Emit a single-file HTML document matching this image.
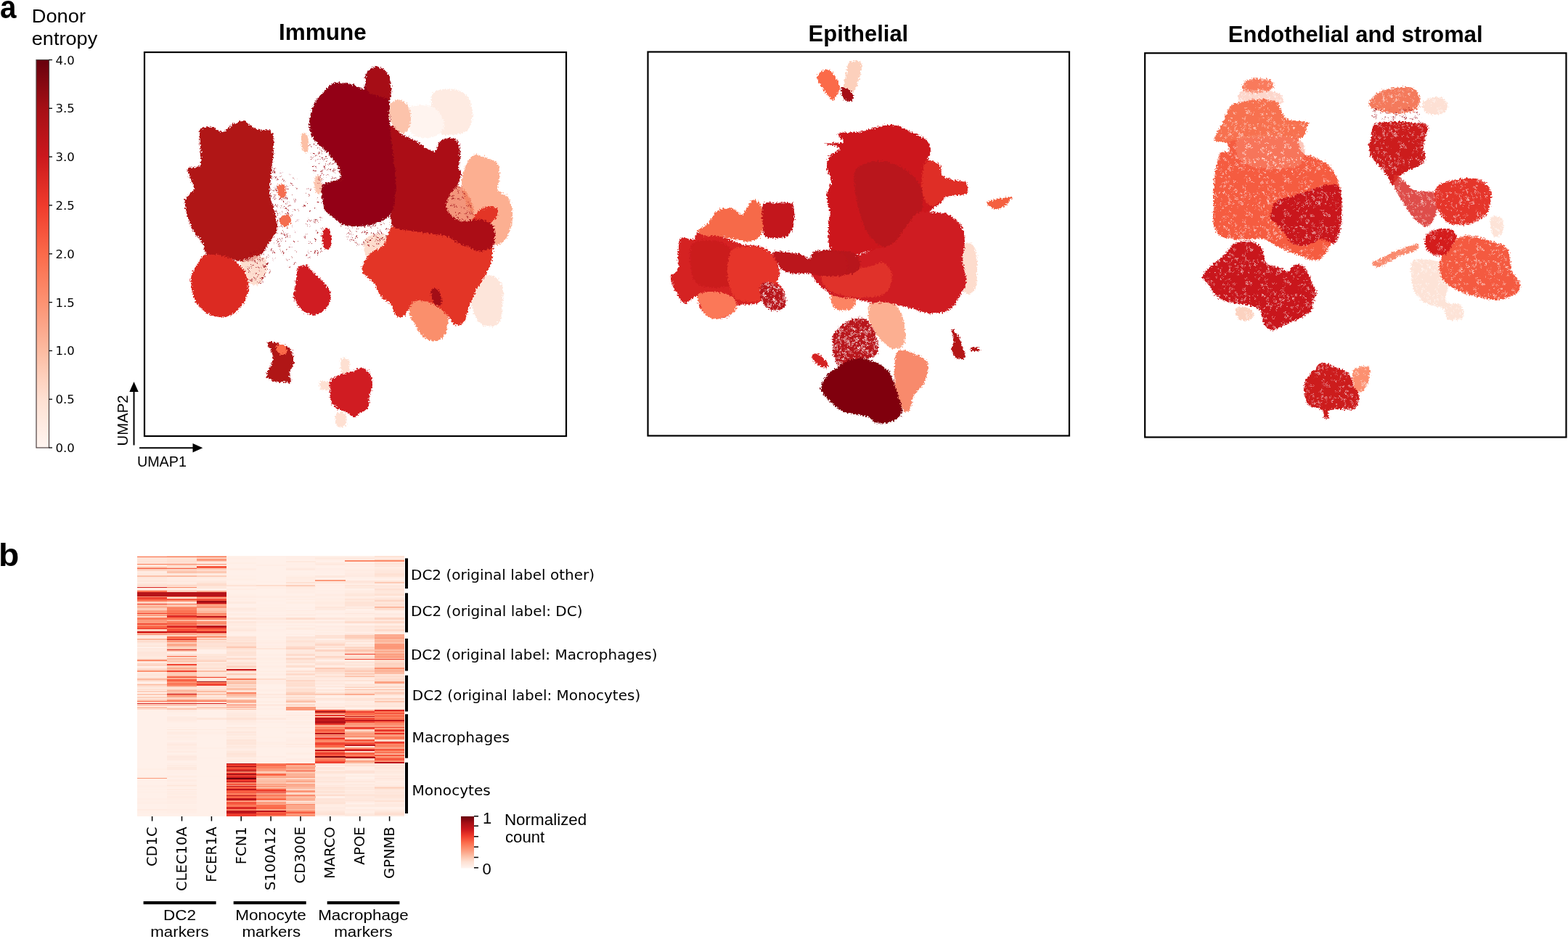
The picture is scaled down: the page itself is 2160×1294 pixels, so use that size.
<!DOCTYPE html>
<html><head><meta charset="utf-8"><title>Figure</title>
<style>html,body{margin:0;padding:0;background:#fff;width:2160px;height:1294px;overflow:hidden}svg{display:block}</style>
</head><body>
<svg width="2160" height="1294" viewBox="0 0 2160 1294">
<rect width="2160" height="1294" fill="#fff"/>
<text x="0" y="25" font-family="'Liberation Sans', Arial, sans-serif" font-size="44" font-weight="bold" text-anchor="start" textLength="22.5" lengthAdjust="spacingAndGlyphs" >a</text>
<text x="43.7" y="30.9" font-family="'Liberation Sans', Arial, sans-serif" font-size="25.8" font-weight="normal" text-anchor="start" textLength="74.3" lengthAdjust="spacingAndGlyphs" >Donor</text>
<text x="43.8" y="62.2" font-family="'Liberation Sans', Arial, sans-serif" font-size="25.8" font-weight="normal" text-anchor="start" textLength="90.4" lengthAdjust="spacingAndGlyphs" >entropy</text>
<defs><linearGradient id="cb1" x1="0" y1="0" x2="0" y2="1"><stop offset="0.000" stop-color="#67000d"/><stop offset="0.062" stop-color="#860811"/><stop offset="0.125" stop-color="#a50f15"/><stop offset="0.188" stop-color="#b81419"/><stop offset="0.250" stop-color="#cb181d"/><stop offset="0.312" stop-color="#dd2a24"/><stop offset="0.375" stop-color="#ef3b2c"/><stop offset="0.438" stop-color="#f5523b"/><stop offset="0.500" stop-color="#fb6a4a"/><stop offset="0.562" stop-color="#fc7e5e"/><stop offset="0.625" stop-color="#fc9272"/><stop offset="0.688" stop-color="#fca68a"/><stop offset="0.750" stop-color="#fcbba1"/><stop offset="0.812" stop-color="#fdceba"/><stop offset="0.875" stop-color="#fee0d2"/><stop offset="0.938" stop-color="#feeae1"/><stop offset="1.000" stop-color="#fff5f0"/></linearGradient>
<linearGradient id="cb2" x1="0" y1="0" x2="0" y2="1"><stop offset="0.000" stop-color="#67000d"/><stop offset="0.062" stop-color="#860811"/><stop offset="0.125" stop-color="#a50f15"/><stop offset="0.188" stop-color="#b81419"/><stop offset="0.250" stop-color="#cb181d"/><stop offset="0.312" stop-color="#dd2a24"/><stop offset="0.375" stop-color="#ef3b2c"/><stop offset="0.438" stop-color="#f5523b"/><stop offset="0.500" stop-color="#fb6a4a"/><stop offset="0.562" stop-color="#fc7e5e"/><stop offset="0.625" stop-color="#fc9272"/><stop offset="0.688" stop-color="#fca68a"/><stop offset="0.750" stop-color="#fcbba1"/><stop offset="0.812" stop-color="#fdceba"/><stop offset="0.875" stop-color="#fee0d2"/><stop offset="0.938" stop-color="#feeae1"/><stop offset="1.000" stop-color="#fff5f0"/></linearGradient></defs>
<rect x="50" y="82.5" width="17.5" height="534.5" fill="url(#cb1)" stroke="#4d4040" stroke-width="1.2"/>
<line x1="67.5" y1="82.5" x2="72" y2="82.5" stroke="#000" stroke-width="1.3"/>
<text x="76.5" y="88.5" font-family="'DejaVu Sans', sans-serif" font-size="16.5" font-weight="normal" text-anchor="start" >4.0</text>
<line x1="67.5" y1="149.3" x2="72" y2="149.3" stroke="#000" stroke-width="1.3"/>
<text x="76.5" y="155.3" font-family="'DejaVu Sans', sans-serif" font-size="16.5" font-weight="normal" text-anchor="start" >3.5</text>
<line x1="67.5" y1="216.1" x2="72" y2="216.1" stroke="#000" stroke-width="1.3"/>
<text x="76.5" y="222.1" font-family="'DejaVu Sans', sans-serif" font-size="16.5" font-weight="normal" text-anchor="start" >3.0</text>
<line x1="67.5" y1="282.9" x2="72" y2="282.9" stroke="#000" stroke-width="1.3"/>
<text x="76.5" y="288.9" font-family="'DejaVu Sans', sans-serif" font-size="16.5" font-weight="normal" text-anchor="start" >2.5</text>
<line x1="67.5" y1="349.8" x2="72" y2="349.8" stroke="#000" stroke-width="1.3"/>
<text x="76.5" y="355.8" font-family="'DejaVu Sans', sans-serif" font-size="16.5" font-weight="normal" text-anchor="start" >2.0</text>
<line x1="67.5" y1="416.6" x2="72" y2="416.6" stroke="#000" stroke-width="1.3"/>
<text x="76.5" y="422.6" font-family="'DejaVu Sans', sans-serif" font-size="16.5" font-weight="normal" text-anchor="start" >1.5</text>
<line x1="67.5" y1="483.4" x2="72" y2="483.4" stroke="#000" stroke-width="1.3"/>
<text x="76.5" y="489.4" font-family="'DejaVu Sans', sans-serif" font-size="16.5" font-weight="normal" text-anchor="start" >1.0</text>
<line x1="67.5" y1="550.2" x2="72" y2="550.2" stroke="#000" stroke-width="1.3"/>
<text x="76.5" y="556.2" font-family="'DejaVu Sans', sans-serif" font-size="16.5" font-weight="normal" text-anchor="start" >0.5</text>
<line x1="67.5" y1="617.0" x2="72" y2="617.0" stroke="#000" stroke-width="1.3"/>
<text x="76.5" y="623.0" font-family="'DejaVu Sans', sans-serif" font-size="16.5" font-weight="normal" text-anchor="start" >0.0</text>
<rect x="199" y="72" width="581" height="529" fill="none" stroke="#000" stroke-width="2.2"/>
<text x="444.3" y="55.2" font-family="'Liberation Sans', Arial, sans-serif" font-size="30.6" font-weight="bold" text-anchor="middle" textLength="120.7" lengthAdjust="spacingAndGlyphs" >Immune</text>
<rect x="892.5" y="71.5" width="580.5" height="529.0" fill="none" stroke="#000" stroke-width="2.2"/>
<text x="1182.4" y="57.0" font-family="'Liberation Sans', Arial, sans-serif" font-size="30.6" font-weight="bold" text-anchor="middle" textLength="137.6" lengthAdjust="spacingAndGlyphs" >Epithelial</text>
<rect x="1577.2" y="73.2" width="580.3" height="529.3" fill="none" stroke="#000" stroke-width="2.2"/>
<text x="1867.2" y="57.8" font-family="'Liberation Sans', Arial, sans-serif" font-size="30.6" font-weight="bold" text-anchor="middle" textLength="350.7" lengthAdjust="spacingAndGlyphs" >Endothelial and stromal</text>
<filter id="rough" x="-5%" y="-5%" width="110%" height="110%"><feTurbulence type="fractalNoise" baseFrequency="0.45" numOctaves="2" seed="4" result="n"/><feDisplacementMap in="SourceGraphic" in2="n" scale="7" xChannelSelector="R" yChannelSelector="G"/></filter>
<defs><pattern id="speck" width="53" height="47" patternUnits="userSpaceOnUse"><g fill="#fff" fill-opacity="0.5"><circle cx="33.0" cy="34.9" r="1.18"/><circle cx="49.9" cy="34.8" r="1.25"/><circle cx="1.5" cy="21.9" r="1.27"/><circle cx="34.4" cy="42.3" r="0.77"/><circle cx="24.9" cy="11.6" r="1.03"/><circle cx="30.4" cy="0.6" r="0.83"/><circle cx="14.8" cy="43.1" r="1.16"/><circle cx="8.5" cy="37.5" r="0.78"/><circle cx="32.7" cy="6.0" r="0.70"/><circle cx="46.2" cy="9.8" r="0.83"/><circle cx="52.1" cy="41.0" r="0.87"/><circle cx="51.0" cy="25.3" r="1.11"/><circle cx="10.9" cy="44.2" r="1.11"/><circle cx="51.2" cy="42.0" r="0.88"/><circle cx="19.1" cy="7.8" r="0.79"/><circle cx="3.5" cy="14.2" r="1.06"/><circle cx="0.2" cy="31.9" r="0.90"/><circle cx="16.4" cy="38.5" r="0.99"/><circle cx="16.7" cy="22.6" r="1.12"/><circle cx="3.0" cy="45.8" r="0.71"/><circle cx="39.7" cy="39.7" r="0.71"/><circle cx="41.8" cy="17.2" r="1.05"/><circle cx="0.5" cy="2.2" r="0.81"/><circle cx="50.6" cy="9.2" r="1.15"/><circle cx="49.3" cy="44.3" r="0.91"/><circle cx="18.8" cy="24.7" r="1.17"/><circle cx="5.7" cy="35.2" r="1.18"/><circle cx="45.6" cy="1.7" r="1.27"/><circle cx="4.8" cy="16.0" r="1.07"/><circle cx="48.7" cy="16.0" r="1.25"/><circle cx="28.9" cy="14.7" r="0.89"/><circle cx="9.4" cy="3.7" r="0.79"/><circle cx="36.5" cy="46.8" r="0.80"/><circle cx="2.6" cy="46.4" r="1.02"/><circle cx="21.5" cy="11.2" r="1.06"/><circle cx="43.8" cy="21.4" r="0.95"/><circle cx="3.0" cy="43.1" r="0.72"/><circle cx="26.2" cy="39.4" r="0.78"/><circle cx="38.8" cy="44.6" r="1.08"/><circle cx="41.8" cy="5.0" r="0.96"/><circle cx="7.9" cy="39.7" r="0.88"/><circle cx="24.0" cy="47.0" r="1.21"/><circle cx="51.7" cy="21.3" r="0.99"/><circle cx="38.7" cy="22.5" r="0.87"/><circle cx="21.4" cy="6.9" r="0.93"/><circle cx="52.4" cy="45.1" r="1.08"/><circle cx="26.5" cy="15.9" r="0.75"/><circle cx="14.4" cy="36.8" r="1.22"/><circle cx="19.2" cy="36.9" r="1.16"/><circle cx="36.8" cy="31.2" r="1.16"/><circle cx="19.3" cy="33.1" r="0.87"/><circle cx="25.7" cy="36.2" r="1.11"/><circle cx="15.6" cy="44.4" r="1.09"/><circle cx="30.8" cy="0.5" r="1.03"/><circle cx="13.3" cy="31.6" r="0.98"/><circle cx="43.3" cy="30.4" r="1.18"/><circle cx="18.4" cy="30.3" r="1.14"/><circle cx="43.9" cy="16.5" r="1.21"/><circle cx="46.1" cy="32.4" r="1.29"/><circle cx="50.7" cy="24.4" r="1.02"/><circle cx="8.8" cy="39.3" r="1.26"/><circle cx="25.3" cy="32.5" r="1.13"/><circle cx="38.7" cy="8.1" r="1.17"/><circle cx="30.8" cy="31.3" r="0.95"/><circle cx="33.1" cy="36.4" r="1.08"/><circle cx="38.2" cy="1.3" r="0.80"/><circle cx="23.4" cy="30.6" r="0.83"/><circle cx="36.4" cy="29.7" r="0.73"/><circle cx="25.0" cy="10.6" r="0.73"/><circle cx="7.1" cy="14.9" r="0.81"/><circle cx="10.2" cy="1.7" r="0.98"/><circle cx="20.2" cy="28.8" r="1.05"/><circle cx="12.6" cy="42.4" r="0.70"/><circle cx="21.5" cy="13.1" r="0.95"/><circle cx="6.1" cy="39.1" r="0.92"/><circle cx="1.9" cy="28.8" r="0.76"/><circle cx="28.9" cy="16.0" r="1.05"/><circle cx="50.8" cy="38.5" r="0.95"/><circle cx="43.1" cy="30.2" r="0.92"/><circle cx="7.5" cy="28.0" r="1.04"/><circle cx="50.7" cy="45.5" r="1.07"/><circle cx="18.6" cy="42.0" r="0.70"/><circle cx="5.7" cy="26.6" r="1.07"/><circle cx="7.5" cy="29.6" r="1.23"/><circle cx="19.9" cy="20.3" r="0.84"/><circle cx="15.4" cy="45.7" r="0.93"/><circle cx="50.9" cy="42.9" r="1.06"/><circle cx="13.8" cy="46.1" r="1.00"/><circle cx="22.0" cy="15.0" r="1.29"/><circle cx="26.1" cy="13.5" r="0.99"/></g></pattern><pattern id="speck2" width="37" height="41" patternUnits="userSpaceOnUse"><g fill="#fff" fill-opacity="0.7"><circle cx="4.5" cy="25.5" r="1.07"/><circle cx="10.8" cy="32.0" r="1.30"/><circle cx="0.5" cy="21.8" r="0.96"/><circle cx="34.6" cy="32.1" r="0.95"/><circle cx="9.9" cy="6.3" r="1.39"/><circle cx="10.8" cy="24.9" r="1.08"/><circle cx="23.9" cy="24.8" r="1.25"/><circle cx="4.4" cy="31.2" r="0.98"/><circle cx="19.7" cy="13.8" r="0.98"/><circle cx="19.6" cy="19.0" r="1.02"/><circle cx="27.6" cy="24.2" r="0.82"/><circle cx="9.3" cy="18.7" r="1.35"/><circle cx="32.9" cy="22.4" r="0.81"/><circle cx="28.8" cy="17.5" r="1.15"/><circle cx="26.2" cy="25.9" r="1.09"/><circle cx="33.7" cy="15.8" r="1.04"/><circle cx="31.5" cy="8.1" r="0.98"/><circle cx="30.7" cy="2.7" r="1.30"/><circle cx="25.7" cy="17.7" r="0.97"/><circle cx="28.9" cy="37.3" r="0.89"/><circle cx="17.7" cy="22.5" r="1.10"/><circle cx="12.2" cy="6.3" r="1.15"/><circle cx="30.0" cy="2.8" r="0.94"/><circle cx="30.3" cy="32.5" r="1.20"/><circle cx="0.9" cy="29.6" r="1.39"/><circle cx="36.9" cy="28.8" r="0.83"/><circle cx="31.2" cy="9.0" r="1.19"/><circle cx="35.2" cy="29.2" r="0.88"/><circle cx="10.8" cy="37.6" r="0.89"/><circle cx="22.6" cy="17.0" r="0.90"/><circle cx="23.0" cy="1.8" r="0.86"/><circle cx="14.0" cy="3.0" r="0.83"/><circle cx="21.3" cy="30.4" r="1.33"/><circle cx="5.0" cy="17.7" r="0.99"/><circle cx="22.2" cy="20.1" r="1.36"/><circle cx="13.8" cy="2.3" r="1.22"/><circle cx="5.6" cy="25.9" r="1.10"/><circle cx="33.7" cy="22.8" r="1.17"/><circle cx="9.7" cy="22.6" r="0.95"/><circle cx="27.8" cy="21.2" r="0.88"/><circle cx="8.7" cy="15.2" r="1.24"/><circle cx="6.6" cy="29.2" r="1.19"/><circle cx="3.2" cy="27.4" r="0.85"/><circle cx="4.6" cy="24.4" r="0.94"/><circle cx="32.4" cy="19.7" r="0.99"/><circle cx="29.5" cy="1.2" r="1.24"/><circle cx="2.0" cy="6.2" r="1.37"/><circle cx="25.2" cy="9.1" r="0.87"/><circle cx="36.0" cy="27.3" r="1.29"/><circle cx="5.2" cy="25.6" r="1.01"/><circle cx="8.7" cy="13.7" r="1.17"/><circle cx="12.9" cy="15.8" r="0.88"/><circle cx="30.8" cy="26.6" r="1.28"/><circle cx="16.0" cy="34.9" r="1.11"/><circle cx="21.9" cy="23.5" r="1.24"/><circle cx="14.6" cy="4.0" r="0.82"/><circle cx="7.5" cy="1.6" r="1.33"/><circle cx="17.8" cy="31.2" r="0.80"/><circle cx="17.4" cy="36.5" r="1.17"/><circle cx="15.9" cy="19.1" r="0.86"/><circle cx="5.7" cy="6.5" r="1.02"/><circle cx="14.3" cy="36.1" r="0.89"/><circle cx="9.4" cy="11.4" r="0.90"/><circle cx="10.6" cy="9.6" r="1.09"/><circle cx="1.2" cy="37.9" r="1.02"/><circle cx="34.7" cy="28.2" r="1.20"/><circle cx="17.5" cy="38.8" r="0.87"/><circle cx="24.7" cy="11.9" r="1.20"/><circle cx="27.0" cy="6.7" r="0.92"/><circle cx="0.9" cy="9.4" r="0.85"/></g></pattern><pattern id="dots" width="47" height="43" patternUnits="userSpaceOnUse"><g fill="#a01018" fill-opacity="0.9"><circle cx="18.9" cy="41.9" r="0.81"/><circle cx="14.7" cy="20.1" r="0.78"/><circle cx="34.4" cy="30.9" r="0.75"/><circle cx="11.3" cy="28.9" r="0.98"/><circle cx="30.4" cy="18.5" r="0.99"/><circle cx="0.3" cy="2.6" r="0.93"/><circle cx="19.3" cy="1.9" r="0.86"/><circle cx="46.5" cy="22.3" r="0.81"/><circle cx="4.4" cy="3.1" r="0.97"/><circle cx="23.1" cy="40.2" r="0.72"/><circle cx="11.4" cy="2.2" r="0.82"/><circle cx="2.8" cy="11.0" r="0.82"/><circle cx="14.4" cy="2.2" r="0.71"/><circle cx="45.7" cy="7.7" r="0.85"/><circle cx="18.9" cy="22.8" r="0.73"/><circle cx="14.8" cy="4.6" r="0.86"/><circle cx="43.3" cy="25.7" r="0.96"/><circle cx="10.1" cy="0.7" r="0.86"/><circle cx="22.9" cy="24.6" r="0.81"/><circle cx="29.4" cy="31.2" r="0.97"/><circle cx="14.5" cy="19.3" r="0.95"/><circle cx="10.5" cy="5.0" r="0.79"/><circle cx="4.1" cy="33.2" r="0.95"/><circle cx="14.7" cy="5.6" r="0.72"/><circle cx="11.5" cy="3.6" r="0.83"/><circle cx="27.1" cy="10.6" r="0.72"/><circle cx="32.9" cy="2.1" r="0.76"/><circle cx="13.4" cy="16.1" r="0.73"/><circle cx="19.8" cy="13.5" r="0.93"/><circle cx="26.1" cy="38.5" r="0.90"/></g></pattern><pattern id="dots2" width="41" height="37" patternUnits="userSpaceOnUse"><g fill="#a01018" fill-opacity="0.9"><circle cx="31.1" cy="21.3" r="0.83"/><circle cx="33.5" cy="24.3" r="0.99"/><circle cx="29.8" cy="25.9" r="0.78"/><circle cx="33.3" cy="14.1" r="0.74"/><circle cx="2.7" cy="6.3" r="0.78"/><circle cx="27.7" cy="10.6" r="0.72"/><circle cx="31.3" cy="20.6" r="0.71"/><circle cx="2.1" cy="4.8" r="0.81"/><circle cx="35.3" cy="35.1" r="0.88"/><circle cx="9.5" cy="15.9" r="0.81"/><circle cx="13.5" cy="0.5" r="0.88"/><circle cx="33.9" cy="26.9" r="0.73"/><circle cx="21.7" cy="6.3" r="0.91"/><circle cx="18.3" cy="34.7" r="0.94"/><circle cx="4.8" cy="11.7" r="0.97"/><circle cx="18.9" cy="16.1" r="0.83"/><circle cx="31.5" cy="34.6" r="0.86"/><circle cx="39.8" cy="22.1" r="0.73"/><circle cx="33.4" cy="15.5" r="0.72"/><circle cx="40.1" cy="1.2" r="0.87"/><circle cx="19.8" cy="32.6" r="0.82"/><circle cx="8.8" cy="10.3" r="0.76"/><circle cx="23.1" cy="13.2" r="0.93"/><circle cx="9.9" cy="13.0" r="0.77"/><circle cx="40.3" cy="31.1" r="0.95"/><circle cx="25.3" cy="14.8" r="0.74"/><circle cx="34.1" cy="18.1" r="0.71"/><circle cx="7.0" cy="3.7" r="0.92"/><circle cx="36.9" cy="7.4" r="0.94"/><circle cx="13.3" cy="25.3" r="0.96"/><circle cx="25.5" cy="29.6" r="0.81"/><circle cx="0.4" cy="18.9" r="0.88"/><circle cx="7.6" cy="14.4" r="0.80"/><circle cx="1.1" cy="11.5" r="0.81"/><circle cx="19.5" cy="26.0" r="0.82"/><circle cx="40.3" cy="30.2" r="0.98"/><circle cx="28.4" cy="24.8" r="0.86"/><circle cx="32.7" cy="13.4" r="0.88"/><circle cx="27.9" cy="19.3" r="0.79"/><circle cx="3.2" cy="3.2" r="0.81"/><circle cx="23.8" cy="28.1" r="0.91"/><circle cx="12.6" cy="34.4" r="0.78"/><circle cx="29.4" cy="2.7" r="0.93"/><circle cx="27.5" cy="35.4" r="0.97"/><circle cx="28.2" cy="31.0" r="0.92"/><circle cx="25.1" cy="7.7" r="0.86"/><circle cx="36.7" cy="8.8" r="0.99"/><circle cx="22.3" cy="14.6" r="0.70"/><circle cx="16.0" cy="6.6" r="0.90"/><circle cx="36.9" cy="33.7" r="0.88"/><circle cx="15.9" cy="4.0" r="0.91"/><circle cx="22.7" cy="26.5" r="0.81"/><circle cx="36.4" cy="7.9" r="0.79"/><circle cx="11.0" cy="23.0" r="0.97"/><circle cx="6.9" cy="23.4" r="0.93"/><circle cx="9.2" cy="2.3" r="0.87"/><circle cx="34.0" cy="32.5" r="0.92"/><circle cx="17.1" cy="15.7" r="0.86"/><circle cx="37.1" cy="11.2" r="0.78"/><circle cx="24.8" cy="35.8" r="0.76"/></g></pattern></defs>
<g id="blobs" filter="url(#rough)">
<path d="M597.0 128.0C600.5 124.3 609.2 123.5 615.0 123.0C620.8 122.5 627.0 123.0 632.0 125.0C637.0 127.0 641.8 130.0 645.0 135.0C648.2 140.0 650.5 148.8 651.0 155.0C651.5 161.2 649.8 167.5 648.0 172.0C646.2 176.5 644.7 179.7 640.0 182.0C635.3 184.3 625.8 185.8 620.0 186.0C614.2 186.2 608.8 186.5 605.0 183.0C601.2 179.5 598.8 171.3 597.0 165.0C595.2 158.7 594.0 151.2 594.0 145.0C594.0 138.8 593.5 131.7 597.0 128.0Z" fill="#feebe2"/>
<path d="M563.0 150.0C566.2 143.8 578.8 145.0 585.0 145.0C591.2 145.0 595.5 145.8 600.0 150.0C604.5 154.2 611.2 164.2 612.0 170.0C612.8 175.8 609.5 181.7 605.0 185.0C600.5 188.3 591.5 190.5 585.0 190.0C578.5 189.5 569.7 188.7 566.0 182.0C562.3 175.3 559.8 156.2 563.0 150.0Z" fill="#fff4ef"/>
<path d="M538.0 143.0C540.2 139.0 546.0 137.5 550.0 138.0C554.0 138.5 559.3 141.5 562.0 146.0C564.7 150.5 566.3 159.0 566.0 165.0C565.7 171.0 563.3 179.5 560.0 182.0C556.7 184.5 549.8 183.3 546.0 180.0C542.2 176.7 538.3 168.2 537.0 162.0C535.7 155.8 535.8 147.0 538.0 143.0Z" fill="#fcc3ab"/>
<path d="M380.0 250.0C383.7 240.0 391.7 238.3 400.0 240.0C408.3 241.7 422.5 250.0 430.0 260.0C437.5 270.0 442.5 285.8 445.0 300.0C447.5 314.2 448.3 334.2 445.0 345.0C441.7 355.8 432.5 360.8 425.0 365.0C417.5 369.2 406.7 374.2 400.0 370.0C393.3 365.8 388.7 351.7 385.0 340.0C381.3 328.3 378.8 315.0 378.0 300.0C377.2 285.0 376.3 260.0 380.0 250.0Z" fill="url(#dots)"/>
<path d="M372.0 235.0C374.2 224.2 381.2 230.8 385.0 235.0C388.8 239.2 392.8 249.2 395.0 260.0C397.2 270.8 398.0 288.3 398.0 300.0C398.0 311.7 398.0 323.3 395.0 330.0C392.0 336.7 383.8 345.0 380.0 340.0C376.2 335.0 373.3 317.5 372.0 300.0C370.7 282.5 369.8 245.8 372.0 235.0Z" fill="url(#dots2)"/>
<path d="M383.0 256.0C384.0 253.3 388.2 252.5 390.0 254.0C391.8 255.5 393.8 262.0 394.0 265.0C394.2 268.0 392.7 271.2 391.0 272.0C389.3 272.8 385.3 272.7 384.0 270.0C382.7 267.3 382.0 258.7 383.0 256.0Z" fill="#f46d4f"/>
<path d="M388.0 298.0C390.0 296.0 395.8 294.7 398.0 296.0C400.2 297.3 401.7 303.3 401.0 306.0C400.3 308.7 396.5 311.7 394.0 312.0C391.5 312.3 387.0 310.3 386.0 308.0C385.0 305.7 386.0 300.0 388.0 298.0Z" fill="#f46d4f"/>
<path d="M416.0 185.0C417.2 182.8 420.5 182.3 422.0 184.0C423.5 185.7 424.7 191.0 425.0 195.0C425.3 199.0 425.2 205.7 424.0 208.0C422.8 210.3 419.5 210.8 418.0 209.0C416.5 207.2 415.3 201.0 415.0 197.0C414.7 193.0 414.8 187.2 416.0 185.0Z" fill="#fcbfa5"/>
<path d="M434.0 244.0C435.2 242.0 438.5 241.3 440.0 243.0C441.5 244.7 442.7 250.2 443.0 254.0C443.3 257.8 443.2 264.0 442.0 266.0C440.8 268.0 437.5 267.8 436.0 266.0C434.5 264.2 433.3 258.7 433.0 255.0C432.7 251.3 432.8 246.0 434.0 244.0Z" fill="#fcc6b0"/>
<path d="M503.0 330.0C505.8 325.5 513.8 323.3 520.0 323.0C526.2 322.7 536.0 324.3 540.0 328.0C544.0 331.7 544.8 339.7 544.0 345.0C543.2 350.3 539.8 357.3 535.0 360.0C530.2 362.7 520.3 362.7 515.0 361.0C509.7 359.3 505.0 355.2 503.0 350.0C501.0 344.8 500.2 334.5 503.0 330.0Z" fill="#fcd3c1" fill-opacity="0.8"/>
<path d="M470.0 300.0C476.7 295.8 507.5 302.5 520.0 305.0C532.5 307.5 541.7 310.0 545.0 315.0C548.3 320.0 546.7 330.8 540.0 335.0C533.3 339.2 515.0 340.8 505.0 340.0C495.0 339.2 485.8 336.7 480.0 330.0C474.2 323.3 463.3 304.2 470.0 300.0Z" fill="url(#dots2)"/>
<path d="M640.0 232.0C642.7 225.2 647.2 216.5 652.0 214.0C656.8 211.5 663.5 215.2 669.0 217.0C674.5 218.8 681.8 220.5 685.0 225.0C688.2 229.5 687.8 237.8 688.0 244.0C688.2 250.2 684.0 257.3 686.0 262.0C688.0 266.7 696.7 267.0 700.0 272.0C703.3 277.0 705.3 285.3 706.0 292.0C706.7 298.7 705.7 305.7 704.0 312.0C702.3 318.3 699.5 325.7 696.0 330.0C692.5 334.3 687.7 338.0 683.0 338.0C678.3 338.0 672.7 335.5 668.0 330.0C663.3 324.5 659.3 313.3 655.0 305.0C650.7 296.7 645.2 288.3 642.0 280.0C638.8 271.7 636.3 263.0 636.0 255.0C635.7 247.0 637.3 238.8 640.0 232.0Z" fill="#fcaf91"/>
<path d="M650.0 382.0C652.8 376.7 659.3 377.8 665.0 378.0C670.7 378.2 679.3 379.7 684.0 383.0C688.7 386.3 691.7 391.8 693.0 398.0C694.3 404.2 692.5 413.0 692.0 420.0C691.5 427.0 692.0 435.2 690.0 440.0C688.0 444.8 684.3 447.8 680.0 449.0C675.7 450.2 668.3 449.3 664.0 447.0C659.7 444.7 656.7 441.2 654.0 435.0C651.3 428.8 648.7 418.8 648.0 410.0C647.3 401.2 647.2 387.3 650.0 382.0Z" fill="#fde5da"/>
<path d="M567.0 415.0C570.5 411.8 578.7 412.5 585.0 413.0C591.3 413.5 599.8 415.2 605.0 418.0C610.2 420.8 614.0 424.7 616.0 430.0C618.0 435.3 618.0 444.2 617.0 450.0C616.0 455.8 613.5 461.7 610.0 465.0C606.5 468.3 600.7 470.3 596.0 470.0C591.3 469.7 586.0 466.7 582.0 463.0C578.0 459.3 575.0 453.2 572.0 448.0C569.0 442.8 564.8 437.5 564.0 432.0C563.2 426.5 563.5 418.2 567.0 415.0Z" fill="#fa8f6c"/>
<path d="M499.0 373.0C498.0 366.3 504.2 355.8 509.0 350.0C513.8 344.2 522.3 344.5 528.0 338.0C533.7 331.5 534.3 314.3 543.0 311.0C551.7 307.7 568.0 316.3 580.0 318.0C592.0 319.7 605.0 321.8 615.0 321.0C625.0 320.2 632.0 318.5 640.0 313.0C648.0 307.5 655.8 292.5 663.0 288.0C670.2 283.5 679.3 284.3 683.0 286.0C686.7 287.7 686.7 293.8 685.0 298.0C683.3 302.2 674.0 305.7 673.0 311.0C672.0 316.3 678.3 321.7 679.0 330.0C679.7 338.3 679.3 351.8 677.0 361.0C674.7 370.2 668.8 377.8 665.0 385.0C661.2 392.2 657.2 397.7 654.0 404.0C650.8 410.3 648.3 416.7 646.0 423.0C643.7 429.3 643.2 437.8 640.0 442.0C636.8 446.2 631.2 449.5 627.0 448.0C622.8 446.5 620.2 437.8 615.0 433.0C609.8 428.2 603.3 422.0 596.0 419.0C588.7 416.0 577.5 412.3 571.0 415.0C564.5 417.7 561.2 431.7 557.0 435.0C552.8 438.3 549.2 437.7 546.0 435.0C542.8 432.3 541.7 423.5 538.0 419.0C534.3 414.5 527.8 412.8 524.0 408.0C520.2 403.2 519.2 395.8 515.0 390.0C510.8 384.2 500.0 379.7 499.0 373.0Z" fill="#e33427"/>
<path d="M606.0 250.0C609.3 243.7 619.3 250.0 625.0 252.0C630.7 254.0 635.8 257.3 640.0 262.0C644.2 266.7 648.0 273.7 650.0 280.0C652.0 286.3 653.7 295.0 652.0 300.0C650.3 305.0 645.3 309.2 640.0 310.0C634.7 310.8 625.8 308.3 620.0 305.0C614.2 301.7 607.3 299.2 605.0 290.0C602.7 280.8 602.7 256.3 606.0 250.0Z" fill="#f07a5a" fill-opacity="0.8"/>
<path d="M606.0 250.0C609.3 243.7 619.3 250.0 625.0 252.0C630.7 254.0 635.8 257.3 640.0 262.0C644.2 266.7 648.0 273.7 650.0 280.0C652.0 286.3 653.7 295.0 652.0 300.0C650.3 305.0 645.3 309.2 640.0 310.0C634.7 310.8 625.8 308.3 620.0 305.0C614.2 301.7 607.3 299.2 605.0 290.0C602.7 280.8 602.7 256.3 606.0 250.0Z" fill="url(#dots2)"/>
<path d="M536.0 176.0C539.2 167.0 548.7 182.8 555.0 186.0C561.3 189.2 568.5 191.8 574.0 195.0C579.5 198.2 583.7 202.8 588.0 205.0C592.3 207.2 597.2 209.5 600.0 208.0C602.8 206.5 601.8 199.0 605.0 196.0C608.2 193.0 614.7 190.0 619.0 190.0C623.3 190.0 628.5 191.8 631.0 196.0C633.5 200.2 633.8 209.5 634.0 215.0C634.2 220.5 631.8 224.8 632.0 229.0C632.2 233.2 635.2 235.8 635.0 240.0C634.8 244.2 633.5 249.3 631.0 254.0C628.5 258.7 622.7 262.8 620.0 268.0C617.3 273.2 614.2 279.7 615.0 285.0C615.8 290.3 620.8 296.7 625.0 300.0C629.2 303.3 634.2 304.7 640.0 305.0C645.8 305.3 653.7 301.2 660.0 302.0C666.3 302.8 674.3 305.7 678.0 310.0C681.7 314.3 682.3 322.7 682.0 328.0C681.7 333.3 680.5 339.7 676.0 342.0C671.5 344.3 661.8 342.8 655.0 342.0C648.2 341.2 641.7 339.7 635.0 337.0C628.3 334.3 624.2 328.8 615.0 326.0C605.8 323.2 591.7 322.0 580.0 320.0C568.3 318.0 552.0 317.3 545.0 314.0C538.0 310.7 539.5 312.3 538.0 300.0C536.5 287.7 536.3 260.7 536.0 240.0C535.7 219.3 532.8 185.0 536.0 176.0Z" fill="#ab1019"/>
<path d="M643.0 312.0C646.3 308.7 654.7 305.3 660.0 305.0C665.3 304.7 671.7 306.5 675.0 310.0C678.3 313.5 680.2 320.7 680.0 326.0C679.8 331.3 677.7 338.7 674.0 342.0C670.3 345.3 662.8 346.7 658.0 346.0C653.2 345.3 648.0 341.5 645.0 338.0C642.0 334.5 640.3 329.3 640.0 325.0C639.7 320.7 639.7 315.3 643.0 312.0Z" fill="#ab1019"/>
<path d="M594.0 400.0C595.2 398.0 599.7 396.3 602.0 398.0C604.3 399.7 607.2 406.2 608.0 410.0C608.8 413.8 608.3 419.3 607.0 421.0C605.7 422.7 602.0 421.8 600.0 420.0C598.0 418.2 596.0 413.3 595.0 410.0C594.0 406.7 592.8 402.0 594.0 400.0Z" fill="#a30e15"/>
<path d="M428.0 157.0C429.0 152.2 429.5 148.5 432.0 144.0C434.5 139.5 438.5 134.8 443.0 130.0C447.5 125.2 452.2 117.3 459.0 115.0C465.8 112.7 477.0 114.8 484.0 116.0C491.0 117.2 497.5 124.5 501.0 122.0C504.5 119.5 502.3 106.0 505.0 101.0C507.7 96.0 512.5 92.3 517.0 92.0C521.5 91.7 528.3 94.5 532.0 99.0C535.7 103.5 538.3 110.8 539.0 119.0C539.7 127.2 535.8 134.5 536.0 148.0C536.2 161.5 538.5 183.0 540.0 200.0C541.5 217.0 545.0 234.7 545.0 250.0C545.0 265.3 544.7 282.3 540.0 292.0C535.3 301.7 525.7 304.7 517.0 308.0C508.3 311.3 495.8 312.0 488.0 312.0C480.2 312.0 476.5 311.5 470.0 308.0C463.5 304.5 453.2 295.5 449.0 291.0C444.8 286.5 445.8 286.8 445.0 281.0C444.2 275.2 440.2 261.8 444.0 256.0C447.8 250.2 464.7 250.8 468.0 246.0C471.3 241.2 467.2 233.3 464.0 227.0C460.8 220.7 454.3 213.8 449.0 208.0C443.7 202.2 435.8 197.8 432.0 192.0C428.2 186.2 426.7 178.8 426.0 173.0C425.3 167.2 427.0 161.8 428.0 157.0Z" fill="#930515"/>
<path d="M505.0 104.0C506.8 98.5 512.5 92.8 517.0 92.0C521.5 91.2 528.3 94.5 532.0 99.0C535.7 103.5 538.3 113.0 539.0 119.0C539.7 125.0 539.2 132.8 536.0 135.0C532.8 137.2 525.0 133.7 520.0 132.0C515.0 130.3 508.5 129.7 506.0 125.0C503.5 120.3 503.2 109.5 505.0 104.0Z" fill="#a60c17"/>
<path d="M428.0 195.0C432.2 193.3 443.3 199.5 450.0 205.0C456.7 210.5 464.7 220.5 468.0 228.0C471.3 235.5 473.8 245.0 470.0 250.0C466.2 255.0 451.3 259.7 445.0 258.0C438.7 256.3 435.3 247.2 432.0 240.0C428.7 232.8 425.7 222.5 425.0 215.0C424.3 207.5 423.8 196.7 428.0 195.0Z" fill="url(#dots2)"/>
<path d="M276.0 178.0C278.8 175.7 287.0 174.3 292.0 175.0C297.0 175.7 301.3 182.5 306.0 182.0C310.7 181.5 315.3 174.7 320.0 172.0C324.7 169.3 330.5 166.3 334.0 166.0C337.5 165.7 337.7 168.0 341.0 170.0C344.3 172.0 348.5 176.0 354.0 178.0C359.5 180.0 370.2 177.7 374.0 182.0C377.8 186.3 376.8 197.0 377.0 204.0C377.2 211.0 375.5 218.0 375.0 224.0C374.5 230.0 374.5 234.8 374.0 240.0C373.5 245.2 372.3 250.0 372.0 255.0C371.7 260.0 371.3 265.0 372.0 270.0C372.7 275.0 374.7 280.0 376.0 285.0C377.3 290.0 379.0 295.0 380.0 300.0C381.0 305.0 383.0 310.0 382.0 315.0C381.0 320.0 377.7 324.2 374.0 330.0C370.3 335.8 364.0 345.3 360.0 350.0C356.0 354.7 355.0 356.3 350.0 358.0C345.0 359.7 338.3 361.0 330.0 360.0C321.7 359.0 307.7 353.7 300.0 352.0C292.3 350.3 287.5 352.8 284.0 350.0C280.5 347.2 282.0 340.5 279.0 335.0C276.0 329.5 269.5 323.3 266.0 317.0C262.5 310.7 259.8 304.0 258.0 297.0C256.2 290.0 253.5 281.0 255.0 275.0C256.5 269.0 265.8 265.8 267.0 261.0C268.2 256.2 263.3 250.8 262.0 246.0C260.7 241.2 256.7 235.2 259.0 232.0C261.3 228.8 273.3 234.2 276.0 227.0C278.7 219.8 275.0 197.2 275.0 189.0C275.0 180.8 273.2 180.3 276.0 178.0Z" fill="#b01218"/>
<path d="M332.0 362.0C333.8 358.2 340.7 356.7 345.0 355.0C349.3 353.3 354.2 350.8 358.0 352.0C361.8 353.2 366.8 357.3 368.0 362.0C369.2 366.7 367.0 375.0 365.0 380.0C363.0 385.0 359.8 390.3 356.0 392.0C352.2 393.7 345.7 392.3 342.0 390.0C338.3 387.7 335.7 382.7 334.0 378.0C332.3 373.3 330.2 365.8 332.0 362.0Z" fill="#fcd2bf" fill-opacity="0.75"/>
<path d="M335.0 356.0C337.8 351.0 344.5 347.7 350.0 345.0C355.5 342.3 363.0 339.2 368.0 340.0C373.0 340.8 379.3 344.2 380.0 350.0C380.7 355.8 375.3 368.0 372.0 375.0C368.7 382.0 365.0 389.2 360.0 392.0C355.0 394.8 346.5 394.8 342.0 392.0C337.5 389.2 334.2 381.0 333.0 375.0C331.8 369.0 332.2 361.0 335.0 356.0Z" fill="url(#dots2)"/>
<path d="M263.0 382.0C264.8 374.7 272.2 362.2 276.0 357.0C279.8 351.8 280.5 351.7 286.0 351.0C291.5 350.3 302.0 351.0 309.0 353.0C316.0 355.0 322.8 358.2 328.0 363.0C333.2 367.8 337.7 375.7 340.0 382.0C342.3 388.3 343.0 394.7 342.0 401.0C341.0 407.3 337.8 414.5 334.0 420.0C330.2 425.5 324.2 431.2 319.0 434.0C313.8 436.8 308.5 437.3 303.0 437.0C297.5 436.7 291.3 435.2 286.0 432.0C280.7 428.8 274.5 423.2 271.0 418.0C267.5 412.8 266.3 407.0 265.0 401.0C263.7 395.0 261.2 389.3 263.0 382.0Z" fill="#dc2a23"/>
<path d="M411.0 368.0C413.2 366.3 418.5 364.7 422.0 366.0C425.5 367.3 428.2 372.3 432.0 376.0C435.8 379.7 441.2 383.5 445.0 388.0C448.8 392.5 453.7 397.7 455.0 403.0C456.3 408.3 455.5 415.2 453.0 420.0C450.5 424.8 444.5 429.8 440.0 432.0C435.5 434.2 430.5 434.3 426.0 433.0C421.5 431.7 416.5 428.0 413.0 424.0C409.5 420.0 406.0 414.2 405.0 409.0C404.0 403.8 406.3 398.5 407.0 393.0C407.7 387.5 408.3 380.2 409.0 376.0C409.7 371.8 408.8 369.7 411.0 368.0Z" fill="#d01c20"/>
<path d="M446.0 316.0C447.5 313.5 451.3 313.0 453.0 315.0C454.7 317.0 455.7 323.5 456.0 328.0C456.3 332.5 456.5 339.7 455.0 342.0C453.5 344.3 448.8 344.0 447.0 342.0C445.2 340.0 444.2 334.3 444.0 330.0C443.8 325.7 444.5 318.5 446.0 316.0Z" fill="#d01c20"/>
<path d="M369.0 472.0C370.7 469.5 381.0 472.7 386.0 474.0C391.0 475.3 395.8 476.2 399.0 480.0C402.2 483.8 405.0 491.3 405.0 497.0C405.0 502.7 399.7 508.8 399.0 514.0C398.3 519.2 401.8 526.0 401.0 528.0C400.2 530.0 396.5 526.2 394.0 526.0C391.5 525.8 389.3 527.3 386.0 527.0C382.7 526.7 377.2 525.5 374.0 524.0C370.8 522.5 367.0 521.8 367.0 518.0C367.0 514.2 372.5 505.8 374.0 501.0C375.5 496.2 376.8 493.8 376.0 489.0C375.2 484.2 367.3 474.5 369.0 472.0Z" fill="#b01218"/>
<path d="M382.0 475.0C383.7 473.7 389.8 474.2 392.0 476.0C394.2 477.8 395.7 483.8 395.0 486.0C394.3 488.2 390.2 489.3 388.0 489.0C385.8 488.7 383.0 486.3 382.0 484.0C381.0 481.7 380.3 476.3 382.0 475.0Z" fill="#fb6a4a"/>
<path d="M470.0 495.0C471.5 492.0 478.2 493.2 480.0 496.0C481.8 498.8 482.5 509.0 481.0 512.0C479.5 515.0 472.8 516.8 471.0 514.0C469.2 511.2 468.5 498.0 470.0 495.0Z" fill="#fee0d2"/>
<path d="M463.0 570.0C465.0 567.2 473.8 567.3 476.0 570.0C478.2 572.7 478.0 583.2 476.0 586.0C474.0 588.8 466.2 589.7 464.0 587.0C461.8 584.3 461.0 572.8 463.0 570.0Z" fill="#fee0d2"/>
<path d="M440.0 527.0C441.2 525.0 447.3 524.5 450.0 525.0C452.7 525.5 455.3 528.0 456.0 530.0C456.7 532.0 456.2 535.8 454.0 537.0C451.8 538.2 445.3 538.7 443.0 537.0C440.7 535.3 438.8 529.0 440.0 527.0Z" fill="#fee0d2"/>
<path d="M455.0 524.0C457.5 520.5 464.8 518.0 470.0 516.0C475.2 514.0 481.5 513.5 486.0 512.0C490.5 510.5 493.2 506.7 497.0 507.0C500.8 507.3 506.3 510.2 509.0 514.0C511.7 517.8 513.0 524.8 513.0 530.0C513.0 535.2 510.0 539.7 509.0 545.0C508.0 550.3 509.3 557.8 507.0 562.0C504.7 566.2 498.2 567.8 495.0 570.0C491.8 572.2 490.8 575.3 488.0 575.0C485.2 574.7 482.2 570.2 478.0 568.0C473.8 565.8 466.8 564.8 463.0 562.0C459.2 559.2 456.3 555.2 455.0 551.0C453.7 546.8 455.0 541.5 455.0 537.0C455.0 532.5 452.5 527.5 455.0 524.0Z" fill="#d01c20"/>
<path d="M1126.0 105.0C1127.2 101.5 1133.5 96.7 1137.0 96.0C1140.5 95.3 1143.7 97.2 1147.0 101.0C1150.3 104.8 1156.0 114.2 1157.0 119.0C1158.0 123.8 1154.7 126.8 1153.0 130.0C1151.3 133.2 1149.3 138.0 1147.0 138.0C1144.7 138.0 1141.8 133.5 1139.0 130.0C1136.2 126.5 1132.2 121.2 1130.0 117.0C1127.8 112.8 1124.8 108.5 1126.0 105.0Z" fill="#fb6a4a"/>
<path d="M1170.0 86.0C1172.7 83.5 1179.2 83.0 1182.0 84.0C1184.8 85.0 1187.0 87.2 1187.0 92.0C1187.0 96.8 1183.8 107.3 1182.0 113.0C1180.2 118.7 1178.3 122.8 1176.0 126.0C1173.7 129.2 1170.3 132.7 1168.0 132.0C1165.7 131.3 1162.3 127.5 1162.0 122.0C1161.7 116.5 1164.7 105.0 1166.0 99.0C1167.3 93.0 1167.3 88.5 1170.0 86.0Z" fill="#fcd0bc"/>
<path d="M1159.0 121.0C1160.3 119.0 1167.2 122.0 1170.0 124.0C1172.8 126.0 1175.7 130.3 1176.0 133.0C1176.3 135.7 1174.3 139.5 1172.0 140.0C1169.7 140.5 1164.2 139.2 1162.0 136.0C1159.8 132.8 1157.7 123.0 1159.0 121.0Z" fill="#a50f15"/>
<path d="M1325.0 340.0C1327.7 332.7 1334.7 334.3 1338.0 336.0C1341.3 337.7 1343.7 342.7 1345.0 350.0C1346.3 357.3 1346.5 371.7 1346.0 380.0C1345.5 388.3 1344.7 396.0 1342.0 400.0C1339.3 404.0 1333.3 407.3 1330.0 404.0C1326.7 400.7 1322.8 390.7 1322.0 380.0C1321.2 369.3 1322.3 347.3 1325.0 340.0Z" fill="#fddccd"/>
<path d="M1200.0 417.0C1203.2 412.8 1209.7 409.8 1215.0 410.0C1220.3 410.2 1227.3 413.7 1232.0 418.0C1236.7 422.3 1240.5 428.8 1243.0 436.0C1245.5 443.2 1246.8 454.3 1247.0 461.0C1247.2 467.7 1246.5 472.7 1244.0 476.0C1241.5 479.3 1236.5 481.7 1232.0 481.0C1227.5 480.3 1221.8 476.5 1217.0 472.0C1212.2 467.5 1206.5 460.2 1203.0 454.0C1199.5 447.8 1196.5 441.2 1196.0 435.0C1195.5 428.8 1196.8 421.2 1200.0 417.0Z" fill="#fcaf91"/>
<path d="M1144.0 403.0C1145.7 398.8 1154.7 399.5 1160.0 400.0C1165.3 400.5 1173.0 402.7 1176.0 406.0C1179.0 409.3 1179.3 416.5 1178.0 420.0C1176.7 423.5 1172.7 426.2 1168.0 427.0C1163.3 427.8 1154.0 429.0 1150.0 425.0C1146.0 421.0 1142.3 407.2 1144.0 403.0Z" fill="#fc8464"/>
<path d="M1155.0 184.0C1159.5 181.5 1177.7 182.8 1188.0 181.0C1198.3 179.2 1209.0 174.3 1217.0 173.0C1225.0 171.7 1229.7 171.5 1236.0 173.0C1242.3 174.5 1248.5 178.8 1255.0 182.0C1261.5 185.2 1270.5 188.0 1275.0 192.0C1279.5 196.0 1281.3 201.5 1282.0 206.0C1282.7 210.5 1277.0 215.5 1279.0 219.0C1281.0 222.5 1290.8 223.2 1294.0 227.0C1297.2 230.8 1294.8 238.5 1298.0 242.0C1301.2 245.5 1307.5 246.3 1313.0 248.0C1318.5 249.7 1327.7 249.3 1331.0 252.0C1334.3 254.7 1333.7 261.3 1333.0 264.0C1332.3 266.7 1331.8 266.8 1327.0 268.0C1322.2 269.2 1309.5 268.8 1304.0 271.0C1298.5 273.2 1298.8 277.0 1294.0 281.0C1289.2 285.0 1282.3 289.3 1275.0 295.0C1267.7 300.7 1257.5 307.8 1250.0 315.0C1242.5 322.2 1238.3 333.0 1230.0 338.0C1221.7 343.0 1210.0 342.7 1200.0 345.0C1190.0 347.3 1179.2 352.0 1170.0 352.0C1160.8 352.0 1149.8 351.7 1145.0 345.0C1140.2 338.3 1141.3 320.7 1141.0 312.0C1140.7 303.3 1143.3 300.2 1143.0 293.0C1142.7 285.8 1138.7 276.2 1139.0 269.0C1139.3 261.8 1145.0 256.3 1145.0 250.0C1145.0 243.7 1139.3 236.8 1139.0 231.0C1138.7 225.2 1139.8 219.5 1143.0 215.0C1146.2 210.5 1159.5 206.8 1158.0 204.0C1156.5 201.2 1133.5 199.3 1134.0 198.0C1134.5 196.7 1157.5 198.3 1161.0 196.0C1164.5 193.7 1150.5 186.5 1155.0 184.0Z" fill="#cc191d"/>
<path d="M1180.0 232.0C1186.2 225.3 1203.3 221.3 1215.0 222.0C1226.7 222.7 1240.8 229.3 1250.0 236.0C1259.2 242.7 1267.0 251.3 1270.0 262.0C1273.0 272.7 1270.5 288.7 1268.0 300.0C1265.5 311.3 1262.2 323.0 1255.0 330.0C1247.8 337.0 1234.2 342.3 1225.0 342.0C1215.8 341.7 1206.7 335.7 1200.0 328.0C1193.3 320.3 1188.7 307.0 1185.0 296.0C1181.3 285.0 1178.8 272.7 1178.0 262.0C1177.2 251.3 1173.8 238.7 1180.0 232.0Z" fill="#b9141c"/>
<path d="M1276.0 222.0C1280.0 219.0 1290.3 223.7 1294.0 227.0C1297.7 230.3 1294.8 238.5 1298.0 242.0C1301.2 245.5 1307.5 246.3 1313.0 248.0C1318.5 249.7 1327.7 249.3 1331.0 252.0C1334.3 254.7 1333.7 261.3 1333.0 264.0C1332.3 266.7 1331.8 266.8 1327.0 268.0C1322.2 269.2 1309.5 269.2 1304.0 271.0C1298.5 272.8 1297.7 276.8 1294.0 279.0C1290.3 281.2 1285.7 285.5 1282.0 284.0C1278.3 282.5 1274.0 276.5 1272.0 270.0C1270.0 263.5 1269.3 253.0 1270.0 245.0C1270.7 237.0 1272.0 225.0 1276.0 222.0Z" fill="#df2e27"/>
<path d="M1265.0 293.0C1271.7 290.2 1283.0 292.5 1290.0 293.0C1297.0 293.5 1301.3 293.0 1307.0 296.0C1312.7 299.0 1320.3 304.7 1324.0 311.0C1327.7 317.3 1328.7 326.0 1329.0 334.0C1329.3 342.0 1325.7 350.0 1326.0 359.0C1326.3 368.0 1331.8 379.5 1331.0 388.0C1330.2 396.5 1325.0 403.5 1321.0 410.0C1317.0 416.5 1313.5 423.3 1307.0 427.0C1300.5 430.7 1290.5 432.3 1282.0 432.0C1273.5 431.7 1266.0 427.5 1256.0 425.0C1246.0 422.5 1231.3 418.3 1222.0 417.0C1212.7 415.7 1207.0 417.8 1200.0 417.0C1193.0 416.2 1188.3 413.5 1180.0 412.0C1171.7 410.5 1157.5 410.3 1150.0 408.0C1142.5 405.7 1139.7 401.8 1135.0 398.0C1130.3 394.2 1124.8 389.3 1122.0 385.0C1119.2 380.7 1115.8 376.2 1118.0 372.0C1120.2 367.8 1126.3 362.8 1135.0 360.0C1143.7 357.2 1159.2 357.5 1170.0 355.0C1180.8 352.5 1190.0 348.3 1200.0 345.0C1210.0 341.7 1221.7 340.8 1230.0 335.0C1238.3 329.2 1244.2 317.0 1250.0 310.0C1255.8 303.0 1258.3 295.8 1265.0 293.0Z" fill="#cf1c20"/>
<path d="M1133.0 375.0C1137.5 372.0 1149.7 373.2 1160.0 372.0C1170.3 370.8 1185.8 369.7 1195.0 368.0C1204.2 366.3 1209.5 360.8 1215.0 362.0C1220.5 363.2 1226.2 369.5 1228.0 375.0C1229.8 380.5 1228.2 389.7 1226.0 395.0C1223.8 400.3 1221.0 404.5 1215.0 407.0C1209.0 409.5 1198.3 409.8 1190.0 410.0C1181.7 410.2 1172.5 409.3 1165.0 408.0C1157.5 406.7 1150.3 405.0 1145.0 402.0C1139.7 399.0 1135.0 394.5 1133.0 390.0C1131.0 385.5 1128.5 378.0 1133.0 375.0Z" fill="#e0302a"/>
<path d="M1120.0 348.0C1125.0 343.5 1140.3 344.7 1150.0 345.0C1159.7 345.3 1172.2 346.2 1178.0 350.0C1183.8 353.8 1186.3 363.3 1185.0 368.0C1183.7 372.7 1177.5 376.3 1170.0 378.0C1162.5 379.7 1148.3 379.0 1140.0 378.0C1131.7 377.0 1123.3 377.0 1120.0 372.0C1116.7 367.0 1115.0 352.5 1120.0 348.0Z" fill="#b8151a"/>
<path d="M1360.0 279.0C1361.2 277.3 1365.5 276.2 1371.0 275.0C1376.5 273.8 1390.3 271.0 1393.0 272.0C1395.7 273.0 1390.0 278.3 1387.0 281.0C1384.0 283.7 1378.8 287.3 1375.0 288.0C1371.2 288.7 1366.5 286.5 1364.0 285.0C1361.5 283.5 1358.8 280.7 1360.0 279.0Z" fill="#f4603f"/>
<path d="M938.0 328.0C941.5 324.7 951.2 331.3 955.0 330.0C958.8 328.7 957.3 322.2 961.0 320.0C964.7 317.8 971.3 316.0 977.0 317.0C982.7 318.0 987.3 322.7 995.0 326.0C1002.7 329.3 1014.0 334.7 1023.0 337.0C1032.0 339.3 1041.8 337.3 1049.0 340.0C1056.2 342.7 1061.8 347.0 1066.0 353.0C1070.2 359.0 1073.3 370.3 1074.0 376.0C1074.7 381.7 1069.2 383.2 1070.0 387.0C1070.8 390.8 1077.5 394.7 1079.0 399.0C1080.5 403.3 1081.7 408.8 1079.0 413.0C1076.3 417.2 1067.7 423.7 1063.0 424.0C1058.3 424.3 1055.0 415.8 1051.0 415.0C1047.0 414.2 1045.0 418.0 1039.0 419.0C1033.0 420.0 1020.2 418.7 1015.0 421.0C1009.8 423.3 1011.8 430.0 1008.0 433.0C1004.2 436.0 997.2 438.5 992.0 439.0C986.8 439.5 981.7 438.5 977.0 436.0C972.3 433.5 966.8 428.7 964.0 424.0C961.2 419.3 963.5 409.0 960.0 408.0C956.5 407.0 947.8 419.0 943.0 418.0C938.2 417.0 934.2 408.0 931.0 402.0C927.8 396.0 923.5 387.2 924.0 382.0C924.5 376.8 932.3 376.3 934.0 371.0C935.7 365.7 933.3 357.2 934.0 350.0C934.7 342.8 934.5 331.3 938.0 328.0Z" fill="#d52123"/>
<path d="M954.0 336.0C959.5 329.7 975.7 330.5 985.0 332.0C994.3 333.5 1003.7 339.5 1010.0 345.0C1016.3 350.5 1022.2 357.8 1023.0 365.0C1023.8 372.2 1020.5 382.8 1015.0 388.0C1009.5 393.2 998.8 395.3 990.0 396.0C981.2 396.7 968.3 396.3 962.0 392.0C955.7 387.7 953.3 379.3 952.0 370.0C950.7 360.7 948.5 342.3 954.0 336.0Z" fill="#cb1a1f"/>
<path d="M962.0 318.0C962.8 315.2 971.2 312.2 975.0 308.0C978.8 303.8 981.2 296.5 985.0 293.0C988.8 289.5 993.5 287.7 998.0 287.0C1002.5 286.3 1008.0 287.5 1012.0 289.0C1016.0 290.5 1019.0 296.7 1022.0 296.0C1025.0 295.3 1027.5 288.3 1030.0 285.0C1032.5 281.7 1034.3 276.8 1037.0 276.0C1039.7 275.2 1043.7 276.8 1046.0 280.0C1048.3 283.2 1050.2 289.2 1051.0 295.0C1051.8 300.8 1052.0 309.5 1051.0 315.0C1050.0 320.5 1048.5 325.0 1045.0 328.0C1041.5 331.0 1035.0 332.7 1030.0 333.0C1025.0 333.3 1020.0 331.0 1015.0 330.0C1010.0 329.0 1005.0 327.8 1000.0 327.0C995.0 326.2 990.0 325.3 985.0 325.0C980.0 324.7 973.8 326.2 970.0 325.0C966.2 323.8 961.2 320.8 962.0 318.0Z" fill="#f66b48"/>
<path d="M1008.0 345.0C1012.7 340.0 1023.0 340.5 1030.0 340.0C1037.0 339.5 1044.2 339.7 1050.0 342.0C1055.8 344.3 1061.2 348.3 1065.0 354.0C1068.8 359.7 1072.5 369.7 1073.0 376.0C1073.5 382.3 1071.0 386.3 1068.0 392.0C1065.0 397.7 1060.5 406.0 1055.0 410.0C1049.5 414.0 1041.7 415.7 1035.0 416.0C1028.3 416.3 1020.0 415.5 1015.0 412.0C1010.0 408.5 1007.2 402.0 1005.0 395.0C1002.8 388.0 1001.5 378.3 1002.0 370.0C1002.5 361.7 1003.3 350.0 1008.0 345.0Z" fill="#e6362a"/>
<path d="M961.0 407.0C962.5 402.7 970.5 402.3 977.0 402.0C983.5 401.7 993.8 402.8 1000.0 405.0C1006.2 407.2 1012.2 410.8 1014.0 415.0C1015.8 419.2 1014.2 426.2 1011.0 430.0C1007.8 433.8 1000.2 436.5 995.0 438.0C989.8 439.5 984.5 440.7 980.0 439.0C975.5 437.3 971.2 433.3 968.0 428.0C964.8 422.7 959.5 411.3 961.0 407.0Z" fill="#fb7859"/>
<path d="M1051.0 282.0C1054.2 276.8 1063.5 280.3 1070.0 280.0C1076.5 279.7 1086.0 278.2 1090.0 280.0C1094.0 281.8 1093.5 285.8 1094.0 291.0C1094.5 296.2 1094.5 305.3 1093.0 311.0C1091.5 316.7 1088.8 322.2 1085.0 325.0C1081.2 327.8 1075.2 327.8 1070.0 328.0C1064.8 328.2 1057.2 328.8 1054.0 326.0C1050.8 323.2 1051.5 318.3 1051.0 311.0C1050.5 303.7 1047.8 287.2 1051.0 282.0Z" fill="#c3161c"/>
<path d="M1050.0 390.0C1053.3 387.0 1063.0 389.5 1068.0 392.0C1073.0 394.5 1077.7 400.3 1080.0 405.0C1082.3 409.7 1083.3 416.2 1082.0 420.0C1080.7 423.8 1076.0 427.2 1072.0 428.0C1068.0 428.8 1062.0 428.0 1058.0 425.0C1054.0 422.0 1049.3 415.8 1048.0 410.0C1046.7 404.2 1046.7 393.0 1050.0 390.0Z" fill="#b8141a"/>
<path d="M1050.0 390.0C1053.3 387.0 1063.0 389.5 1068.0 392.0C1073.0 394.5 1077.7 400.3 1080.0 405.0C1082.3 409.7 1083.3 416.2 1082.0 420.0C1080.7 423.8 1076.0 427.2 1072.0 428.0C1068.0 428.8 1062.0 428.0 1058.0 425.0C1054.0 422.0 1049.3 415.8 1048.0 410.0C1046.7 404.2 1046.7 393.0 1050.0 390.0Z" fill="url(#speck)"/>
<path d="M1050.0 390.0C1053.3 387.0 1063.0 389.5 1068.0 392.0C1073.0 394.5 1077.7 400.3 1080.0 405.0C1082.3 409.7 1083.3 416.2 1082.0 420.0C1080.7 423.8 1076.0 427.2 1072.0 428.0C1068.0 428.8 1062.0 428.0 1058.0 425.0C1054.0 422.0 1049.3 415.8 1048.0 410.0C1046.7 404.2 1046.7 393.0 1050.0 390.0Z" fill="url(#speck2)"/>
<path d="M1066.0 347.0C1071.0 345.3 1091.7 348.5 1100.0 350.0C1108.3 351.5 1110.3 356.3 1116.0 356.0C1121.7 355.7 1128.8 349.5 1134.0 348.0C1139.2 346.5 1141.8 346.2 1147.0 347.0C1152.2 347.8 1162.0 348.0 1165.0 353.0C1168.0 358.0 1169.8 372.3 1165.0 377.0C1160.2 381.7 1144.2 381.0 1136.0 381.0C1127.8 381.0 1123.2 377.7 1116.0 377.0C1108.8 376.3 1099.5 378.0 1093.0 377.0C1086.5 376.0 1080.8 373.8 1077.0 371.0C1073.2 368.2 1071.8 364.0 1070.0 360.0C1068.2 356.0 1061.0 348.7 1066.0 347.0Z" fill="#bb121b"/>
<path d="M1149.0 459.0C1152.2 454.3 1159.5 447.5 1166.0 444.0C1172.5 440.5 1181.8 436.3 1188.0 438.0C1194.2 439.7 1199.3 446.5 1203.0 454.0C1206.7 461.5 1211.3 476.2 1210.0 483.0C1208.7 489.8 1203.5 491.3 1195.0 495.0C1186.5 498.7 1166.7 505.7 1159.0 505.0C1151.3 504.3 1151.0 496.5 1149.0 491.0C1147.0 485.5 1147.0 477.3 1147.0 472.0C1147.0 466.7 1145.8 463.7 1149.0 459.0Z" fill="#b8141a"/>
<path d="M1149.0 459.0C1152.2 454.3 1159.5 447.5 1166.0 444.0C1172.5 440.5 1181.8 436.3 1188.0 438.0C1194.2 439.7 1199.3 446.5 1203.0 454.0C1206.7 461.5 1211.3 476.2 1210.0 483.0C1208.7 489.8 1203.5 491.3 1195.0 495.0C1186.5 498.7 1166.7 505.7 1159.0 505.0C1151.3 504.3 1151.0 496.5 1149.0 491.0C1147.0 485.5 1147.0 477.3 1147.0 472.0C1147.0 466.7 1145.8 463.7 1149.0 459.0Z" fill="url(#speck)"/>
<path d="M1149.0 459.0C1152.2 454.3 1159.5 447.5 1166.0 444.0C1172.5 440.5 1181.8 436.3 1188.0 438.0C1194.2 439.7 1199.3 446.5 1203.0 454.0C1206.7 461.5 1211.3 476.2 1210.0 483.0C1208.7 489.8 1203.5 491.3 1195.0 495.0C1186.5 498.7 1166.7 505.7 1159.0 505.0C1151.3 504.3 1151.0 496.5 1149.0 491.0C1147.0 485.5 1147.0 477.3 1147.0 472.0C1147.0 466.7 1145.8 463.7 1149.0 459.0Z" fill="url(#speck2)"/>
<path d="M1235.0 486.0C1237.5 481.0 1241.3 482.0 1247.0 483.0C1252.7 484.0 1263.7 488.7 1269.0 492.0C1274.3 495.3 1278.3 497.0 1279.0 503.0C1279.7 509.0 1276.3 521.0 1273.0 528.0C1269.7 535.0 1262.3 539.0 1259.0 545.0C1255.7 551.0 1255.3 560.5 1253.0 564.0C1250.7 567.5 1248.0 569.7 1245.0 566.0C1242.0 562.3 1237.2 550.8 1235.0 542.0C1232.8 533.2 1232.0 522.3 1232.0 513.0C1232.0 503.7 1232.5 491.0 1235.0 486.0Z" fill="#f88a6c"/>
<path d="M1131.0 536.0C1130.0 530.2 1134.7 523.7 1138.0 519.0C1141.3 514.3 1145.8 511.7 1151.0 508.0C1156.2 504.3 1162.8 499.3 1169.0 497.0C1175.2 494.7 1181.2 493.3 1188.0 494.0C1194.8 494.7 1203.8 497.8 1210.0 501.0C1216.2 504.2 1221.3 508.5 1225.0 513.0C1228.7 517.5 1230.0 522.7 1232.0 528.0C1234.0 533.3 1235.3 539.7 1237.0 545.0C1238.7 550.3 1241.5 555.3 1242.0 560.0C1242.5 564.7 1242.8 569.3 1240.0 573.0C1237.2 576.7 1230.7 580.3 1225.0 582.0C1219.3 583.7 1211.0 584.3 1206.0 583.0C1201.0 581.7 1200.8 576.2 1195.0 574.0C1189.2 571.8 1177.0 571.3 1171.0 570.0C1165.0 568.7 1163.5 568.7 1159.0 566.0C1154.5 563.3 1148.7 559.0 1144.0 554.0C1139.3 549.0 1132.0 541.8 1131.0 536.0Z" fill="#80000e"/>
<path d="M1119.0 489.0C1120.2 487.7 1123.5 486.2 1127.0 488.0C1130.5 489.8 1138.0 497.0 1140.0 500.0C1142.0 503.0 1140.5 505.2 1139.0 506.0C1137.5 506.8 1134.2 506.7 1131.0 505.0C1127.8 503.3 1122.0 498.7 1120.0 496.0C1118.0 493.3 1117.8 490.3 1119.0 489.0Z" fill="#d42020"/>
<path d="M1311.0 454.0C1311.7 452.3 1316.0 457.5 1318.0 460.0C1320.0 462.5 1321.2 464.3 1323.0 469.0C1324.8 473.7 1328.5 483.7 1329.0 488.0C1329.5 492.3 1328.2 494.3 1326.0 495.0C1323.8 495.7 1318.5 494.3 1316.0 492.0C1313.5 489.7 1311.3 484.7 1311.0 481.0C1310.7 477.3 1314.0 474.5 1314.0 470.0C1314.0 465.5 1310.3 455.7 1311.0 454.0Z" fill="#b51318"/>
<path d="M1338.0 479.0C1339.2 478.3 1342.8 478.5 1345.0 479.0C1347.2 479.5 1351.0 481.2 1351.0 482.0C1351.0 482.8 1347.2 483.8 1345.0 484.0C1342.8 484.2 1339.2 483.8 1338.0 483.0C1336.8 482.2 1336.8 479.7 1338.0 479.0Z" fill="#b51318"/>
<path d="M1712.0 116.0C1713.8 113.3 1718.8 110.2 1724.0 109.0C1729.2 107.8 1738.3 108.5 1743.0 109.0C1747.7 109.5 1750.2 110.2 1752.0 112.0C1753.8 113.8 1755.0 117.7 1754.0 120.0C1753.0 122.3 1750.5 124.7 1746.0 126.0C1741.5 127.3 1732.5 128.2 1727.0 128.0C1721.5 127.8 1715.5 127.0 1713.0 125.0C1710.5 123.0 1710.2 118.7 1712.0 116.0Z" fill="#f97a5c"/>
<path d="M1712.0 116.0C1713.8 113.3 1718.8 110.2 1724.0 109.0C1729.2 107.8 1738.3 108.5 1743.0 109.0C1747.7 109.5 1750.2 110.2 1752.0 112.0C1753.8 113.8 1755.0 117.7 1754.0 120.0C1753.0 122.3 1750.5 124.7 1746.0 126.0C1741.5 127.3 1732.5 128.2 1727.0 128.0C1721.5 127.8 1715.5 127.0 1713.0 125.0C1710.5 123.0 1710.2 118.7 1712.0 116.0Z" fill="url(#speck)"/>
<path d="M1709.0 127.0C1714.2 123.8 1730.8 123.5 1740.0 124.0C1749.2 124.5 1760.0 126.8 1764.0 130.0C1768.0 133.2 1768.8 141.3 1764.0 143.0C1759.2 144.7 1744.2 140.0 1735.0 140.0C1725.8 140.0 1713.3 145.2 1709.0 143.0C1704.7 140.8 1703.8 130.2 1709.0 127.0Z" fill="#fbb5a0" fill-opacity="0.55"/>
<path d="M1709.0 127.0C1714.2 123.8 1730.8 123.5 1740.0 124.0C1749.2 124.5 1760.0 126.8 1764.0 130.0C1768.0 133.2 1768.8 141.3 1764.0 143.0C1759.2 144.7 1744.2 140.0 1735.0 140.0C1725.8 140.0 1713.3 145.2 1709.0 143.0C1704.7 140.8 1703.8 130.2 1709.0 127.0Z" fill="url(#speck)"/>
<path d="M1696.0 146.0C1701.2 141.0 1708.5 141.5 1715.0 140.0C1721.5 138.5 1727.8 137.0 1735.0 137.0C1742.2 137.0 1753.2 137.7 1758.0 140.0C1762.8 142.3 1761.3 146.8 1764.0 151.0C1766.7 155.2 1768.3 162.2 1774.0 165.0C1779.7 167.8 1793.5 166.5 1798.0 168.0C1802.5 169.5 1802.5 169.8 1801.0 174.0C1799.5 178.2 1790.0 186.8 1789.0 193.0C1788.0 199.2 1791.2 207.0 1795.0 211.0C1798.8 215.0 1805.8 213.8 1812.0 217.0C1818.2 220.2 1826.3 223.0 1832.0 230.0C1837.7 237.0 1843.7 247.3 1846.0 259.0C1848.3 270.7 1850.3 283.8 1846.0 300.0C1841.7 316.2 1830.7 347.8 1820.0 356.0C1809.3 364.2 1793.2 352.3 1782.0 349.0C1770.8 345.7 1760.3 339.3 1753.0 336.0C1745.7 332.7 1747.0 330.0 1738.0 329.0C1729.0 328.0 1709.7 331.8 1699.0 330.0C1688.3 328.2 1678.5 326.7 1674.0 318.0C1669.5 309.3 1672.3 288.5 1672.0 278.0C1671.7 267.5 1671.5 262.5 1672.0 255.0C1672.5 247.5 1673.5 240.3 1675.0 233.0C1676.5 225.7 1678.0 215.2 1681.0 211.0C1684.0 206.8 1691.7 210.5 1693.0 208.0C1694.3 205.5 1692.3 198.5 1689.0 196.0C1685.7 193.5 1673.8 197.3 1673.0 193.0C1672.2 188.7 1680.2 177.8 1684.0 170.0C1687.8 162.2 1690.8 151.0 1696.0 146.0Z" fill="#f55b41"/>
<path d="M1696.0 146.0C1701.2 141.0 1708.5 141.5 1715.0 140.0C1721.5 138.5 1727.8 137.0 1735.0 137.0C1742.2 137.0 1753.2 137.7 1758.0 140.0C1762.8 142.3 1761.3 146.8 1764.0 151.0C1766.7 155.2 1768.3 162.2 1774.0 165.0C1779.7 167.8 1793.5 166.5 1798.0 168.0C1802.5 169.5 1802.5 169.8 1801.0 174.0C1799.5 178.2 1790.0 186.8 1789.0 193.0C1788.0 199.2 1791.2 207.0 1795.0 211.0C1798.8 215.0 1805.8 213.8 1812.0 217.0C1818.2 220.2 1826.3 223.0 1832.0 230.0C1837.7 237.0 1843.7 247.3 1846.0 259.0C1848.3 270.7 1850.3 283.8 1846.0 300.0C1841.7 316.2 1830.7 347.8 1820.0 356.0C1809.3 364.2 1793.2 352.3 1782.0 349.0C1770.8 345.7 1760.3 339.3 1753.0 336.0C1745.7 332.7 1747.0 330.0 1738.0 329.0C1729.0 328.0 1709.7 331.8 1699.0 330.0C1688.3 328.2 1678.5 326.7 1674.0 318.0C1669.5 309.3 1672.3 288.5 1672.0 278.0C1671.7 267.5 1671.5 262.5 1672.0 255.0C1672.5 247.5 1673.5 240.3 1675.0 233.0C1676.5 225.7 1678.0 215.2 1681.0 211.0C1684.0 206.8 1691.7 210.5 1693.0 208.0C1694.3 205.5 1692.3 198.5 1689.0 196.0C1685.7 193.5 1673.8 197.3 1673.0 193.0C1672.2 188.7 1680.2 177.8 1684.0 170.0C1687.8 162.2 1690.8 151.0 1696.0 146.0Z" fill="url(#speck)"/>
<path d="M1696.0 146.0C1701.2 141.0 1708.5 141.5 1715.0 140.0C1721.5 138.5 1727.8 137.0 1735.0 137.0C1742.2 137.0 1753.2 137.7 1758.0 140.0C1762.8 142.3 1761.3 146.8 1764.0 151.0C1766.7 155.2 1768.3 162.2 1774.0 165.0C1779.7 167.8 1793.5 166.5 1798.0 168.0C1802.5 169.5 1802.0 170.3 1801.0 174.0C1800.0 177.7 1798.8 187.7 1792.0 190.0C1785.2 192.3 1772.0 188.0 1760.0 188.0C1748.0 188.0 1731.2 188.8 1720.0 190.0C1708.8 191.2 1698.2 194.0 1693.0 195.0C1687.8 196.0 1692.3 196.3 1689.0 196.0C1685.7 195.7 1673.8 197.3 1673.0 193.0C1672.2 188.7 1680.2 177.8 1684.0 170.0C1687.8 162.2 1690.8 151.0 1696.0 146.0Z" fill="#f7714f"/>
<path d="M1696.0 146.0C1701.2 141.0 1708.5 141.5 1715.0 140.0C1721.5 138.5 1727.8 137.0 1735.0 137.0C1742.2 137.0 1753.2 137.7 1758.0 140.0C1762.8 142.3 1761.3 146.8 1764.0 151.0C1766.7 155.2 1768.3 162.2 1774.0 165.0C1779.7 167.8 1793.5 166.5 1798.0 168.0C1802.5 169.5 1802.0 170.3 1801.0 174.0C1800.0 177.7 1798.8 187.7 1792.0 190.0C1785.2 192.3 1772.0 188.0 1760.0 188.0C1748.0 188.0 1731.2 188.8 1720.0 190.0C1708.8 191.2 1698.2 194.0 1693.0 195.0C1687.8 196.0 1692.3 196.3 1689.0 196.0C1685.7 195.7 1673.8 197.3 1673.0 193.0C1672.2 188.7 1680.2 177.8 1684.0 170.0C1687.8 162.2 1690.8 151.0 1696.0 146.0Z" fill="url(#speck)"/>
<path d="M1706.0 190.0C1712.0 185.7 1729.3 186.3 1740.0 186.0C1750.7 185.7 1761.2 186.5 1770.0 188.0C1778.8 189.5 1788.5 190.5 1793.0 195.0C1797.5 199.5 1798.3 209.2 1797.0 215.0C1795.7 220.8 1792.8 227.2 1785.0 230.0C1777.2 232.8 1760.8 232.3 1750.0 232.0C1739.2 231.7 1727.7 231.3 1720.0 228.0C1712.3 224.7 1706.3 218.3 1704.0 212.0C1701.7 205.7 1700.0 194.3 1706.0 190.0Z" fill="#f98d74" fill-opacity="0.5"/>
<path d="M1706.0 190.0C1712.0 185.7 1729.3 186.3 1740.0 186.0C1750.7 185.7 1761.2 186.5 1770.0 188.0C1778.8 189.5 1788.5 190.5 1793.0 195.0C1797.5 199.5 1798.3 209.2 1797.0 215.0C1795.7 220.8 1792.8 227.2 1785.0 230.0C1777.2 232.8 1760.8 232.3 1750.0 232.0C1739.2 231.7 1727.7 231.3 1720.0 228.0C1712.3 224.7 1706.3 218.3 1704.0 212.0C1701.7 205.7 1700.0 194.3 1706.0 190.0Z" fill="url(#speck)"/>
<path d="M1750.0 300.0C1749.7 294.7 1752.8 283.0 1758.0 278.0C1763.2 273.0 1773.2 272.7 1781.0 270.0C1788.8 267.3 1797.2 264.5 1805.0 262.0C1812.8 259.5 1821.2 255.5 1828.0 255.0C1834.8 254.5 1842.7 251.5 1846.0 259.0C1849.3 266.5 1848.2 289.8 1848.0 300.0C1847.8 310.2 1846.7 314.2 1845.0 320.0C1843.3 325.8 1842.2 333.3 1838.0 335.0C1833.8 336.7 1826.3 329.5 1820.0 330.0C1813.7 330.5 1806.7 337.2 1800.0 338.0C1793.3 338.8 1785.0 337.7 1780.0 335.0C1775.0 332.3 1773.3 326.2 1770.0 322.0C1766.7 317.8 1763.3 313.7 1760.0 310.0C1756.7 306.3 1750.3 305.3 1750.0 300.0Z" fill="#c9181d"/>
<path d="M1750.0 300.0C1749.7 294.7 1752.8 283.0 1758.0 278.0C1763.2 273.0 1773.2 272.7 1781.0 270.0C1788.8 267.3 1797.2 264.5 1805.0 262.0C1812.8 259.5 1821.2 255.5 1828.0 255.0C1834.8 254.5 1842.7 251.5 1846.0 259.0C1849.3 266.5 1848.2 289.8 1848.0 300.0C1847.8 310.2 1846.7 314.2 1845.0 320.0C1843.3 325.8 1842.2 333.3 1838.0 335.0C1833.8 336.7 1826.3 329.5 1820.0 330.0C1813.7 330.5 1806.7 337.2 1800.0 338.0C1793.3 338.8 1785.0 337.7 1780.0 335.0C1775.0 332.3 1773.3 326.2 1770.0 322.0C1766.7 317.8 1763.3 313.7 1760.0 310.0C1756.7 306.3 1750.3 305.3 1750.0 300.0Z" fill="url(#speck)"/>
<path d="M1657.0 381.0C1657.5 376.7 1663.0 372.0 1668.0 367.0C1673.0 362.0 1681.7 356.2 1687.0 351.0C1692.3 345.8 1694.0 339.0 1700.0 336.0C1706.0 333.0 1716.7 332.0 1723.0 333.0C1729.3 334.0 1734.5 337.2 1738.0 342.0C1741.5 346.8 1740.3 357.7 1744.0 362.0C1747.7 366.3 1754.8 366.0 1760.0 368.0C1765.2 370.0 1771.3 374.5 1775.0 374.0C1778.7 373.5 1778.3 366.0 1782.0 365.0C1785.7 364.0 1793.3 365.0 1797.0 368.0C1800.7 371.0 1801.3 377.2 1804.0 383.0C1806.7 388.8 1812.2 397.7 1813.0 403.0C1813.8 408.3 1810.2 410.8 1809.0 415.0C1807.8 419.2 1809.2 424.0 1806.0 428.0C1802.8 432.0 1795.2 436.2 1790.0 439.0C1784.8 441.8 1781.2 442.3 1775.0 445.0C1768.8 447.7 1758.7 454.8 1753.0 455.0C1747.3 455.2 1744.0 450.7 1741.0 446.0C1738.0 441.3 1739.2 431.3 1735.0 427.0C1730.8 422.7 1722.8 421.7 1716.0 420.0C1709.2 418.3 1700.7 419.0 1694.0 417.0C1687.3 415.0 1680.8 412.0 1676.0 408.0C1671.2 404.0 1668.2 397.5 1665.0 393.0C1661.8 388.5 1656.5 385.3 1657.0 381.0Z" fill="#c9181d"/>
<path d="M1657.0 381.0C1657.5 376.7 1663.0 372.0 1668.0 367.0C1673.0 362.0 1681.7 356.2 1687.0 351.0C1692.3 345.8 1694.0 339.0 1700.0 336.0C1706.0 333.0 1716.7 332.0 1723.0 333.0C1729.3 334.0 1734.5 337.2 1738.0 342.0C1741.5 346.8 1740.3 357.7 1744.0 362.0C1747.7 366.3 1754.8 366.0 1760.0 368.0C1765.2 370.0 1771.3 374.5 1775.0 374.0C1778.7 373.5 1778.3 366.0 1782.0 365.0C1785.7 364.0 1793.3 365.0 1797.0 368.0C1800.7 371.0 1801.3 377.2 1804.0 383.0C1806.7 388.8 1812.2 397.7 1813.0 403.0C1813.8 408.3 1810.2 410.8 1809.0 415.0C1807.8 419.2 1809.2 424.0 1806.0 428.0C1802.8 432.0 1795.2 436.2 1790.0 439.0C1784.8 441.8 1781.2 442.3 1775.0 445.0C1768.8 447.7 1758.7 454.8 1753.0 455.0C1747.3 455.2 1744.0 450.7 1741.0 446.0C1738.0 441.3 1739.2 431.3 1735.0 427.0C1730.8 422.7 1722.8 421.7 1716.0 420.0C1709.2 418.3 1700.7 419.0 1694.0 417.0C1687.3 415.0 1680.8 412.0 1676.0 408.0C1671.2 404.0 1668.2 397.5 1665.0 393.0C1661.8 388.5 1656.5 385.3 1657.0 381.0Z" fill="url(#speck)"/>
<path d="M1703.0 424.0C1705.0 422.3 1711.2 422.0 1715.0 423.0C1718.8 424.0 1724.5 427.2 1726.0 430.0C1727.5 432.8 1726.7 438.2 1724.0 440.0C1721.3 441.8 1713.5 442.2 1710.0 441.0C1706.5 439.8 1704.2 435.8 1703.0 433.0C1701.8 430.2 1701.0 425.7 1703.0 424.0Z" fill="#fcd2c0"/>
<path d="M1703.0 424.0C1705.0 422.3 1711.2 422.0 1715.0 423.0C1718.8 424.0 1724.5 427.2 1726.0 430.0C1727.5 432.8 1726.7 438.2 1724.0 440.0C1721.3 441.8 1713.5 442.2 1710.0 441.0C1706.5 439.8 1704.2 435.8 1703.0 433.0C1701.8 430.2 1701.0 425.7 1703.0 424.0Z" fill="url(#speck)"/>
<path d="M1887.0 140.0C1889.3 136.5 1895.2 129.2 1901.0 126.0C1906.8 122.8 1914.7 121.8 1922.0 121.0C1929.3 120.2 1939.5 119.3 1945.0 121.0C1950.5 122.7 1953.5 126.7 1955.0 131.0C1956.5 135.3 1956.0 143.2 1954.0 147.0C1952.0 150.8 1948.3 152.3 1943.0 154.0C1937.7 155.7 1929.2 157.3 1922.0 157.0C1914.8 156.7 1905.8 153.7 1900.0 152.0C1894.2 150.3 1889.2 149.0 1887.0 147.0C1884.8 145.0 1884.7 143.5 1887.0 140.0Z" fill="#f47a5c"/>
<path d="M1887.0 140.0C1889.3 136.5 1895.2 129.2 1901.0 126.0C1906.8 122.8 1914.7 121.8 1922.0 121.0C1929.3 120.2 1939.5 119.3 1945.0 121.0C1950.5 122.7 1953.5 126.7 1955.0 131.0C1956.5 135.3 1956.0 143.2 1954.0 147.0C1952.0 150.8 1948.3 152.3 1943.0 154.0C1937.7 155.7 1929.2 157.3 1922.0 157.0C1914.8 156.7 1905.8 153.7 1900.0 152.0C1894.2 150.3 1889.2 149.0 1887.0 147.0C1884.8 145.0 1884.7 143.5 1887.0 140.0Z" fill="url(#speck)"/>
<path d="M1961.0 140.0C1963.5 137.3 1970.2 134.5 1975.0 134.0C1979.8 133.5 1986.8 134.7 1990.0 137.0C1993.2 139.3 1994.8 144.7 1994.0 148.0C1993.2 151.3 1989.3 155.5 1985.0 157.0C1980.7 158.5 1972.2 158.2 1968.0 157.0C1963.8 155.8 1961.2 152.8 1960.0 150.0C1958.8 147.2 1958.5 142.7 1961.0 140.0Z" fill="#fde0d4"/>
<path d="M1961.0 140.0C1963.5 137.3 1970.2 134.5 1975.0 134.0C1979.8 133.5 1986.8 134.7 1990.0 137.0C1993.2 139.3 1994.8 144.7 1994.0 148.0C1993.2 151.3 1989.3 155.5 1985.0 157.0C1980.7 158.5 1972.2 158.2 1968.0 157.0C1963.8 155.8 1961.2 152.8 1960.0 150.0C1958.8 147.2 1958.5 142.7 1961.0 140.0Z" fill="url(#speck)"/>
<path d="M1893.0 150.0C1897.2 146.2 1910.5 152.3 1920.0 152.0C1929.5 151.7 1943.7 146.7 1950.0 148.0C1956.3 149.3 1957.2 155.5 1958.0 160.0C1958.8 164.5 1960.5 172.5 1955.0 175.0C1949.5 177.5 1935.0 175.0 1925.0 175.0C1915.0 175.0 1900.3 179.2 1895.0 175.0C1889.7 170.8 1888.8 153.8 1893.0 150.0Z" fill="url(#dots2)"/>
<path d="M1893.0 150.0C1897.2 146.2 1910.5 152.3 1920.0 152.0C1929.5 151.7 1943.7 146.7 1950.0 148.0C1956.3 149.3 1957.2 155.5 1958.0 160.0C1958.8 164.5 1960.5 172.5 1955.0 175.0C1949.5 177.5 1935.0 175.0 1925.0 175.0C1915.0 175.0 1900.3 179.2 1895.0 175.0C1889.7 170.8 1888.8 153.8 1893.0 150.0Z" fill="url(#speck)"/>
<path d="M1894.0 171.0C1899.5 167.3 1913.0 168.3 1922.0 168.0C1931.0 167.7 1940.7 168.2 1948.0 169.0C1955.3 169.8 1963.3 169.7 1966.0 173.0C1968.7 176.3 1965.0 184.2 1964.0 189.0C1963.0 193.8 1960.0 197.5 1960.0 202.0C1960.0 206.5 1964.5 211.8 1964.0 216.0C1963.5 220.2 1961.0 223.8 1957.0 227.0C1953.0 230.2 1945.0 232.2 1940.0 235.0C1935.0 237.8 1930.8 240.7 1927.0 244.0C1923.2 247.3 1919.5 255.0 1917.0 255.0C1914.5 255.0 1914.7 248.2 1912.0 244.0C1909.3 239.8 1904.8 234.7 1901.0 230.0C1897.2 225.3 1891.5 220.7 1889.0 216.0C1886.5 211.3 1886.0 206.3 1886.0 202.0C1886.0 197.7 1887.7 195.2 1889.0 190.0C1890.3 184.8 1888.5 174.7 1894.0 171.0Z" fill="#cc1d1f"/>
<path d="M1894.0 171.0C1899.5 167.3 1913.0 168.3 1922.0 168.0C1931.0 167.7 1940.7 168.2 1948.0 169.0C1955.3 169.8 1963.3 169.7 1966.0 173.0C1968.7 176.3 1965.0 184.2 1964.0 189.0C1963.0 193.8 1960.0 197.5 1960.0 202.0C1960.0 206.5 1964.5 211.8 1964.0 216.0C1963.5 220.2 1961.0 223.8 1957.0 227.0C1953.0 230.2 1945.0 232.2 1940.0 235.0C1935.0 237.8 1930.8 240.7 1927.0 244.0C1923.2 247.3 1919.5 255.0 1917.0 255.0C1914.5 255.0 1914.7 248.2 1912.0 244.0C1909.3 239.8 1904.8 234.7 1901.0 230.0C1897.2 225.3 1891.5 220.7 1889.0 216.0C1886.5 211.3 1886.0 206.3 1886.0 202.0C1886.0 197.7 1887.7 195.2 1889.0 190.0C1890.3 184.8 1888.5 174.7 1894.0 171.0Z" fill="url(#speck)"/>
<path d="M1922.0 240.0C1924.5 239.2 1930.7 246.3 1935.0 250.0C1939.3 253.7 1943.0 259.7 1948.0 262.0C1953.0 264.3 1959.7 263.0 1965.0 264.0C1970.3 265.0 1977.8 262.7 1980.0 268.0C1982.2 273.3 1980.3 288.7 1978.0 296.0C1975.7 303.3 1970.3 310.5 1966.0 312.0C1961.7 313.5 1956.3 308.7 1952.0 305.0C1947.7 301.3 1943.7 295.0 1940.0 290.0C1936.3 285.0 1933.3 280.8 1930.0 275.0C1926.7 269.2 1921.3 260.8 1920.0 255.0C1918.7 249.2 1919.5 240.8 1922.0 240.0Z" fill="#d8302a" fill-opacity="0.85"/>
<path d="M1922.0 240.0C1924.5 239.2 1930.7 246.3 1935.0 250.0C1939.3 253.7 1943.0 259.7 1948.0 262.0C1953.0 264.3 1959.7 263.0 1965.0 264.0C1970.3 265.0 1977.8 262.7 1980.0 268.0C1982.2 273.3 1980.3 288.7 1978.0 296.0C1975.7 303.3 1970.3 310.5 1966.0 312.0C1961.7 313.5 1956.3 308.7 1952.0 305.0C1947.7 301.3 1943.7 295.0 1940.0 290.0C1936.3 285.0 1933.3 280.8 1930.0 275.0C1926.7 269.2 1921.3 260.8 1920.0 255.0C1918.7 249.2 1919.5 240.8 1922.0 240.0Z" fill="url(#speck)"/>
<path d="M1945.0 362.0C1947.8 355.0 1957.5 357.5 1965.0 358.0C1972.5 358.5 1985.0 359.7 1990.0 365.0C1995.0 370.3 1994.7 381.5 1995.0 390.0C1995.3 398.5 1989.2 411.0 1992.0 416.0C1994.8 421.0 2008.3 416.3 2012.0 420.0C2015.7 423.7 2016.8 434.7 2014.0 438.0C2011.2 441.3 1999.3 442.2 1995.0 440.0C1990.7 437.8 1993.0 428.7 1988.0 425.0C1983.0 421.3 1971.7 422.2 1965.0 418.0C1958.3 413.8 1951.3 409.3 1948.0 400.0C1944.7 390.7 1942.2 369.0 1945.0 362.0Z" fill="#fde3d7"/>
<path d="M1945.0 362.0C1947.8 355.0 1957.5 357.5 1965.0 358.0C1972.5 358.5 1985.0 359.7 1990.0 365.0C1995.0 370.3 1994.7 381.5 1995.0 390.0C1995.3 398.5 1989.2 411.0 1992.0 416.0C1994.8 421.0 2008.3 416.3 2012.0 420.0C2015.7 423.7 2016.8 434.7 2014.0 438.0C2011.2 441.3 1999.3 442.2 1995.0 440.0C1990.7 437.8 1993.0 428.7 1988.0 425.0C1983.0 421.3 1971.7 422.2 1965.0 418.0C1958.3 413.8 1951.3 409.3 1948.0 400.0C1944.7 390.7 1942.2 369.0 1945.0 362.0Z" fill="url(#speck)"/>
<path d="M2053.0 300.0C2054.7 295.7 2065.2 296.7 2068.0 300.0C2070.8 303.3 2071.7 315.7 2070.0 320.0C2068.3 324.3 2060.8 329.3 2058.0 326.0C2055.2 322.7 2051.3 304.3 2053.0 300.0Z" fill="#fde3d7"/>
<path d="M2053.0 300.0C2054.7 295.7 2065.2 296.7 2068.0 300.0C2070.8 303.3 2071.7 315.7 2070.0 320.0C2068.3 324.3 2060.8 329.3 2058.0 326.0C2055.2 322.7 2051.3 304.3 2053.0 300.0Z" fill="url(#speck)"/>
<path d="M1980.0 256.0C1984.0 252.2 1993.2 250.7 2000.0 249.0C2006.8 247.3 2014.3 246.2 2021.0 246.0C2027.7 245.8 2034.7 245.3 2040.0 248.0C2045.3 250.7 2050.8 256.8 2053.0 262.0C2055.2 267.2 2053.7 273.8 2053.0 279.0C2052.3 284.2 2051.7 289.0 2049.0 293.0C2046.3 297.0 2042.2 300.2 2037.0 303.0C2031.8 305.8 2025.0 309.3 2018.0 310.0C2011.0 310.7 2001.3 310.5 1995.0 307.0C1988.7 303.5 1983.2 294.8 1980.0 289.0C1976.8 283.2 1976.0 277.5 1976.0 272.0C1976.0 266.5 1976.0 259.8 1980.0 256.0Z" fill="#e5352c"/>
<path d="M1980.0 256.0C1984.0 252.2 1993.2 250.7 2000.0 249.0C2006.8 247.3 2014.3 246.2 2021.0 246.0C2027.7 245.8 2034.7 245.3 2040.0 248.0C2045.3 250.7 2050.8 256.8 2053.0 262.0C2055.2 267.2 2053.7 273.8 2053.0 279.0C2052.3 284.2 2051.7 289.0 2049.0 293.0C2046.3 297.0 2042.2 300.2 2037.0 303.0C2031.8 305.8 2025.0 309.3 2018.0 310.0C2011.0 310.7 2001.3 310.5 1995.0 307.0C1988.7 303.5 1983.2 294.8 1980.0 289.0C1976.8 283.2 1976.0 277.5 1976.0 272.0C1976.0 266.5 1976.0 259.8 1980.0 256.0Z" fill="url(#speck)"/>
<path d="M1991.0 341.0C1995.2 336.2 2003.8 329.7 2010.0 327.0C2016.2 324.3 2020.8 324.2 2028.0 325.0C2035.2 325.8 2045.2 329.3 2053.0 332.0C2060.8 334.7 2070.5 337.0 2075.0 341.0C2079.5 345.0 2078.7 350.5 2080.0 356.0C2081.3 361.5 2080.7 368.5 2083.0 374.0C2085.3 379.5 2092.5 384.5 2094.0 389.0C2095.5 393.5 2094.3 397.7 2092.0 401.0C2089.7 404.3 2085.5 407.0 2080.0 409.0C2074.5 411.0 2066.5 413.0 2059.0 413.0C2051.5 413.0 2043.2 411.0 2035.0 409.0C2026.8 407.0 2017.3 404.3 2010.0 401.0C2002.7 397.7 1995.5 393.5 1991.0 389.0C1986.5 384.5 1984.0 379.5 1983.0 374.0C1982.0 368.5 1983.7 361.5 1985.0 356.0C1986.3 350.5 1986.8 345.8 1991.0 341.0Z" fill="#f45a40"/>
<path d="M1991.0 341.0C1995.2 336.2 2003.8 329.7 2010.0 327.0C2016.2 324.3 2020.8 324.2 2028.0 325.0C2035.2 325.8 2045.2 329.3 2053.0 332.0C2060.8 334.7 2070.5 337.0 2075.0 341.0C2079.5 345.0 2078.7 350.5 2080.0 356.0C2081.3 361.5 2080.7 368.5 2083.0 374.0C2085.3 379.5 2092.5 384.5 2094.0 389.0C2095.5 393.5 2094.3 397.7 2092.0 401.0C2089.7 404.3 2085.5 407.0 2080.0 409.0C2074.5 411.0 2066.5 413.0 2059.0 413.0C2051.5 413.0 2043.2 411.0 2035.0 409.0C2026.8 407.0 2017.3 404.3 2010.0 401.0C2002.7 397.7 1995.5 393.5 1991.0 389.0C1986.5 384.5 1984.0 379.5 1983.0 374.0C1982.0 368.5 1983.7 361.5 1985.0 356.0C1986.3 350.5 1986.8 345.8 1991.0 341.0Z" fill="url(#speck)"/>
<path d="M1964.0 325.0C1966.3 320.5 1973.3 317.5 1979.0 316.0C1984.7 314.5 1993.5 314.5 1998.0 316.0C2002.5 317.5 2005.5 321.5 2006.0 325.0C2006.5 328.5 2003.5 332.8 2001.0 337.0C1998.5 341.2 1995.0 347.5 1991.0 350.0C1987.0 352.5 1981.3 353.2 1977.0 352.0C1972.7 350.8 1967.2 347.5 1965.0 343.0C1962.8 338.5 1961.7 329.5 1964.0 325.0Z" fill="#d41e1f"/>
<path d="M1964.0 325.0C1966.3 320.5 1973.3 317.5 1979.0 316.0C1984.7 314.5 1993.5 314.5 1998.0 316.0C2002.5 317.5 2005.5 321.5 2006.0 325.0C2006.5 328.5 2003.5 332.8 2001.0 337.0C1998.5 341.2 1995.0 347.5 1991.0 350.0C1987.0 352.5 1981.3 353.2 1977.0 352.0C1972.7 350.8 1967.2 347.5 1965.0 343.0C1962.8 338.5 1961.7 329.5 1964.0 325.0Z" fill="url(#speck)"/>
<path d="M1890.0 362.0C1891.2 359.8 1899.2 357.8 1905.0 355.0C1910.8 352.2 1918.3 347.8 1925.0 345.0C1931.7 342.2 1940.2 339.3 1945.0 338.0C1949.8 336.7 1953.2 335.8 1954.0 337.0C1954.8 338.2 1954.0 342.5 1950.0 345.0C1946.0 347.5 1936.3 349.2 1930.0 352.0C1923.7 354.8 1917.3 359.3 1912.0 362.0C1906.7 364.7 1901.7 368.0 1898.0 368.0C1894.3 368.0 1888.8 364.2 1890.0 362.0Z" fill="#f98a6e"/>
<path d="M1890.0 362.0C1891.2 359.8 1899.2 357.8 1905.0 355.0C1910.8 352.2 1918.3 347.8 1925.0 345.0C1931.7 342.2 1940.2 339.3 1945.0 338.0C1949.8 336.7 1953.2 335.8 1954.0 337.0C1954.8 338.2 1954.0 342.5 1950.0 345.0C1946.0 347.5 1936.3 349.2 1930.0 352.0C1923.7 354.8 1917.3 359.3 1912.0 362.0C1906.7 364.7 1901.7 368.0 1898.0 368.0C1894.3 368.0 1888.8 364.2 1890.0 362.0Z" fill="url(#speck)"/>
<path d="M1864.0 510.0C1866.0 506.3 1872.3 505.7 1876.0 505.0C1879.7 504.3 1884.2 503.8 1886.0 506.0C1887.8 508.2 1887.5 513.8 1887.0 518.0C1886.5 522.2 1884.8 527.3 1883.0 531.0C1881.2 534.7 1878.5 538.5 1876.0 540.0C1873.5 541.5 1870.0 542.2 1868.0 540.0C1866.0 537.8 1864.7 532.0 1864.0 527.0C1863.3 522.0 1862.0 513.7 1864.0 510.0Z" fill="#fc9070"/>
<path d="M1864.0 510.0C1866.0 506.3 1872.3 505.7 1876.0 505.0C1879.7 504.3 1884.2 503.8 1886.0 506.0C1887.8 508.2 1887.5 513.8 1887.0 518.0C1886.5 522.2 1884.8 527.3 1883.0 531.0C1881.2 534.7 1878.5 538.5 1876.0 540.0C1873.5 541.5 1870.0 542.2 1868.0 540.0C1866.0 537.8 1864.7 532.0 1864.0 527.0C1863.3 522.0 1862.0 513.7 1864.0 510.0Z" fill="url(#speck)"/>
<path d="M1818.0 501.0C1820.8 500.0 1826.0 501.0 1830.0 502.0C1834.0 503.0 1837.8 505.3 1842.0 507.0C1846.2 508.7 1851.7 509.7 1855.0 512.0C1858.3 514.3 1860.5 517.8 1862.0 521.0C1863.5 524.2 1862.3 527.2 1864.0 531.0C1865.7 534.8 1871.0 539.7 1872.0 544.0C1873.0 548.3 1871.3 553.7 1870.0 557.0C1868.7 560.3 1867.8 562.8 1864.0 564.0C1860.2 565.2 1852.7 563.7 1847.0 564.0C1841.3 564.3 1832.7 564.2 1830.0 566.0C1827.3 567.8 1831.8 573.3 1831.0 575.0C1830.2 576.7 1826.7 577.7 1825.0 576.0C1823.3 574.3 1824.2 567.7 1821.0 565.0C1817.8 562.3 1809.7 562.2 1806.0 560.0C1802.3 557.8 1800.5 556.8 1799.0 552.0C1797.5 547.2 1796.2 537.0 1797.0 531.0C1797.8 525.0 1801.3 519.8 1804.0 516.0C1806.7 512.2 1810.7 510.5 1813.0 508.0C1815.3 505.5 1815.2 502.0 1818.0 501.0Z" fill="#cc1a1e"/>
<path d="M1818.0 501.0C1820.8 500.0 1826.0 501.0 1830.0 502.0C1834.0 503.0 1837.8 505.3 1842.0 507.0C1846.2 508.7 1851.7 509.7 1855.0 512.0C1858.3 514.3 1860.5 517.8 1862.0 521.0C1863.5 524.2 1862.3 527.2 1864.0 531.0C1865.7 534.8 1871.0 539.7 1872.0 544.0C1873.0 548.3 1871.3 553.7 1870.0 557.0C1868.7 560.3 1867.8 562.8 1864.0 564.0C1860.2 565.2 1852.7 563.7 1847.0 564.0C1841.3 564.3 1832.7 564.2 1830.0 566.0C1827.3 567.8 1831.8 573.3 1831.0 575.0C1830.2 576.7 1826.7 577.7 1825.0 576.0C1823.3 574.3 1824.2 567.7 1821.0 565.0C1817.8 562.3 1809.7 562.2 1806.0 560.0C1802.3 557.8 1800.5 556.8 1799.0 552.0C1797.5 547.2 1796.2 537.0 1797.0 531.0C1797.8 525.0 1801.3 519.8 1804.0 516.0C1806.7 512.2 1810.7 510.5 1813.0 508.0C1815.3 505.5 1815.2 502.0 1818.0 501.0Z" fill="url(#speck)"/>
</g>
<line x1="184.5" y1="613.5" x2="184.5" y2="538" stroke="#000" stroke-width="2"/>
<path d="M178.3 540 L184.5 526 L190.7 540 Z" fill="#000"/>
<line x1="192" y1="617.2" x2="267" y2="617.2" stroke="#000" stroke-width="2"/>
<path d="M265.5 610.9 L279.3 617.2 L265.5 623.5 Z" fill="#000"/>
<text x="188.9" y="643.3" font-family="'Liberation Sans', Arial, sans-serif" font-size="20.3" font-weight="normal" text-anchor="start" textLength="68.1" lengthAdjust="spacingAndGlyphs" >UMAP1</text>
<text transform="translate(176,614.4) rotate(-90)" font-family="'Liberation Sans', Arial, sans-serif" font-size="20.8" textLength="69.9" lengthAdjust="spacingAndGlyphs">UMAP2</text>
<text x="-2" y="779.9" font-family="'Liberation Sans', Arial, sans-serif" font-size="44" font-weight="bold" text-anchor="start" textLength="28.3" lengthAdjust="spacingAndGlyphs" >b</text>
<g shape-rendering="crispEdges">
<rect x="189.2" y="766.3" width="367.8" height="358.7" fill="#fff0e9"/>
<rect x="189.2" y="766.3" width="41.2" height="2.2" fill="#fedbcb"/>
<rect x="230.1" y="766.3" width="41.2" height="2.2" fill="#fcc1a9"/>
<rect x="270.9" y="766.3" width="41.2" height="2.2" fill="#fcaf94"/>
<rect x="393.5" y="766.3" width="41.2" height="2.2" fill="#ffefe7"/>
<rect x="434.4" y="766.3" width="41.2" height="2.2" fill="#ffefe7"/>
<rect x="475.3" y="766.3" width="41.2" height="2.2" fill="#ffefe7"/>
<rect x="516.1" y="766.3" width="41.2" height="2.2" fill="#fee3d6"/>
<rect x="189.2" y="768.3" width="41.2" height="2.6" fill="#fee4d8"/>
<rect x="230.1" y="768.3" width="41.2" height="2.6" fill="#fee2d4"/>
<rect x="270.9" y="768.3" width="41.2" height="2.6" fill="#fdd2c0"/>
<rect x="311.8" y="768.3" width="41.2" height="2.6" fill="#ffeee6"/>
<rect x="393.5" y="768.3" width="41.2" height="2.6" fill="#ffeee6"/>
<rect x="434.4" y="768.3" width="41.2" height="2.6" fill="#feeae0"/>
<rect x="475.3" y="768.3" width="41.2" height="2.6" fill="#fee9df"/>
<rect x="516.1" y="768.3" width="41.2" height="2.6" fill="#ffebe2"/>
<rect x="189.2" y="770.7" width="41.2" height="2.6" fill="#fee5d9"/>
<rect x="230.1" y="770.7" width="41.2" height="2.6" fill="#fee0d2"/>
<rect x="270.9" y="770.7" width="41.2" height="2.6" fill="#fee0d2"/>
<rect x="434.4" y="770.7" width="41.2" height="2.6" fill="#ffefe7"/>
<rect x="475.3" y="770.7" width="41.2" height="2.6" fill="#ffede5"/>
<rect x="516.1" y="770.7" width="41.2" height="2.6" fill="#fdcfbb"/>
<rect x="189.2" y="773.1" width="41.2" height="1.6" fill="#fee2d5"/>
<rect x="230.1" y="773.1" width="41.2" height="1.6" fill="#feded0"/>
<rect x="270.9" y="773.1" width="41.2" height="1.6" fill="#fed8c8"/>
<rect x="393.5" y="773.1" width="41.2" height="1.6" fill="#fee9de"/>
<rect x="516.1" y="773.1" width="41.2" height="1.6" fill="#ffebe2"/>
<rect x="189.2" y="774.5" width="41.2" height="2.6" fill="#fee5d9"/>
<rect x="230.1" y="774.5" width="41.2" height="2.6" fill="#fee2d5"/>
<rect x="311.8" y="774.5" width="41.2" height="2.6" fill="#ffeee5"/>
<rect x="393.5" y="774.5" width="41.2" height="2.6" fill="#ffefe7"/>
<rect x="434.4" y="774.5" width="41.2" height="2.6" fill="#ffebe1"/>
<rect x="475.3" y="774.5" width="41.2" height="2.6" fill="#ffeee5"/>
<rect x="516.1" y="774.5" width="41.2" height="2.6" fill="#fee5d9"/>
<rect x="189.2" y="776.9" width="41.2" height="1.6" fill="#fdd2bf"/>
<rect x="230.1" y="776.9" width="41.2" height="1.6" fill="#fdd5c4"/>
<rect x="270.9" y="776.9" width="41.2" height="1.6" fill="#fcc2ab"/>
<rect x="393.5" y="776.9" width="41.2" height="1.6" fill="#ffeee7"/>
<rect x="434.4" y="776.9" width="41.2" height="1.6" fill="#fee9df"/>
<rect x="475.3" y="776.9" width="41.2" height="1.6" fill="#ffece3"/>
<rect x="516.1" y="776.9" width="41.2" height="1.6" fill="#fee4d8"/>
<rect x="230.1" y="778.3" width="41.2" height="1.4" fill="#fdcfbc"/>
<rect x="270.9" y="778.3" width="41.2" height="1.4" fill="#fee8dd"/>
<rect x="352.7" y="778.3" width="41.2" height="1.4" fill="#ffede5"/>
<rect x="393.5" y="778.3" width="41.2" height="1.4" fill="#ffefe7"/>
<rect x="516.1" y="778.3" width="41.2" height="1.4" fill="#fee9df"/>
<rect x="189.2" y="779.5" width="41.2" height="1.6" fill="#ffece3"/>
<rect x="475.3" y="779.5" width="41.2" height="1.6" fill="#ffece4"/>
<rect x="516.1" y="779.5" width="41.2" height="1.6" fill="#fee5d9"/>
<rect x="189.2" y="780.9" width="41.2" height="2.2" fill="#fcbba1"/>
<rect x="230.1" y="780.9" width="41.2" height="2.2" fill="#fdd3c0"/>
<rect x="270.9" y="780.9" width="41.2" height="2.2" fill="#fdcbb6"/>
<rect x="393.5" y="780.9" width="41.2" height="2.2" fill="#ffeee6"/>
<rect x="516.1" y="780.9" width="41.2" height="2.2" fill="#ffede5"/>
<rect x="189.2" y="782.9" width="41.2" height="2.6" fill="#fdceba"/>
<rect x="230.1" y="782.9" width="41.2" height="2.6" fill="#fedac9"/>
<rect x="270.9" y="782.9" width="41.2" height="2.6" fill="#fdcab5"/>
<rect x="311.8" y="782.9" width="41.2" height="2.6" fill="#ffece3"/>
<rect x="393.5" y="782.9" width="41.2" height="2.6" fill="#fee9df"/>
<rect x="434.4" y="782.9" width="41.2" height="2.6" fill="#ffede5"/>
<rect x="475.3" y="782.9" width="41.2" height="2.6" fill="#ffeee5"/>
<rect x="516.1" y="782.9" width="41.2" height="2.6" fill="#ffebe1"/>
<rect x="189.2" y="785.3" width="41.2" height="2.2" fill="#fdd7c5"/>
<rect x="230.1" y="785.3" width="41.2" height="2.2" fill="#fdd3c1"/>
<rect x="270.9" y="785.3" width="41.2" height="2.2" fill="#fedccd"/>
<rect x="434.4" y="785.3" width="41.2" height="2.2" fill="#ffeee7"/>
<rect x="475.3" y="785.3" width="41.2" height="2.2" fill="#ffebe2"/>
<rect x="516.1" y="785.3" width="41.2" height="2.2" fill="#fee7dd"/>
<rect x="189.2" y="787.3" width="41.2" height="3.2" fill="#ffebe2"/>
<rect x="230.1" y="787.3" width="41.2" height="3.2" fill="#fcc3ac"/>
<rect x="270.9" y="787.3" width="41.2" height="3.2" fill="#fdc9b3"/>
<rect x="434.4" y="787.3" width="41.2" height="3.2" fill="#ffefe8"/>
<rect x="475.3" y="787.3" width="41.2" height="3.2" fill="#ffede5"/>
<rect x="516.1" y="787.3" width="41.2" height="3.2" fill="#fee7dc"/>
<rect x="189.2" y="790.3" width="41.2" height="3.2" fill="#fee9df"/>
<rect x="230.1" y="790.3" width="41.2" height="3.2" fill="#fee8de"/>
<rect x="270.9" y="790.3" width="41.2" height="3.2" fill="#ffebe1"/>
<rect x="475.3" y="790.3" width="41.2" height="3.2" fill="#ffebe2"/>
<rect x="516.1" y="790.3" width="41.2" height="3.2" fill="#fee1d4"/>
<rect x="189.2" y="793.3" width="41.2" height="2.2" fill="#fcc1a9"/>
<rect x="230.1" y="793.3" width="41.2" height="2.2" fill="#fcbba1"/>
<rect x="270.9" y="793.3" width="41.2" height="2.2" fill="#fdceba"/>
<rect x="311.8" y="793.3" width="41.2" height="2.2" fill="#ffefe7"/>
<rect x="393.5" y="793.3" width="41.2" height="2.2" fill="#ffeee6"/>
<rect x="434.4" y="793.3" width="41.2" height="2.2" fill="#fee8de"/>
<rect x="475.3" y="793.3" width="41.2" height="2.2" fill="#feeae1"/>
<rect x="516.1" y="793.3" width="41.2" height="2.2" fill="#fee4d7"/>
<rect x="189.2" y="795.3" width="41.2" height="1.8" fill="#fee6db"/>
<rect x="230.1" y="795.3" width="41.2" height="1.8" fill="#ffebe2"/>
<rect x="270.9" y="795.3" width="41.2" height="1.8" fill="#feeae0"/>
<rect x="393.5" y="795.3" width="41.2" height="1.8" fill="#ffebe1"/>
<rect x="475.3" y="795.3" width="41.2" height="1.8" fill="#ffefe7"/>
<rect x="516.1" y="795.3" width="41.2" height="1.8" fill="#ffece3"/>
<rect x="189.2" y="796.9" width="41.2" height="3.2" fill="#fee9de"/>
<rect x="230.1" y="796.9" width="41.2" height="3.2" fill="#ffebe2"/>
<rect x="270.9" y="796.9" width="41.2" height="3.2" fill="#ffede4"/>
<rect x="311.8" y="796.9" width="41.2" height="3.2" fill="#ffeee6"/>
<rect x="393.5" y="796.9" width="41.2" height="3.2" fill="#ffece3"/>
<rect x="189.2" y="799.9" width="41.2" height="2.6" fill="#fee6db"/>
<rect x="230.1" y="799.9" width="41.2" height="2.6" fill="#fee9df"/>
<rect x="270.9" y="799.9" width="41.2" height="2.6" fill="#fee9df"/>
<rect x="352.7" y="799.9" width="41.2" height="2.6" fill="#ffefe8"/>
<rect x="393.5" y="799.9" width="41.2" height="2.6" fill="#ffede5"/>
<rect x="434.4" y="799.9" width="41.2" height="2.6" fill="#ffeee6"/>
<rect x="475.3" y="799.9" width="41.2" height="2.6" fill="#fee5da"/>
<rect x="516.1" y="799.9" width="41.2" height="2.6" fill="#fee6da"/>
<rect x="189.2" y="802.3" width="41.2" height="1.6" fill="#ffebe2"/>
<rect x="270.9" y="802.3" width="41.2" height="1.6" fill="#fee6da"/>
<rect x="393.5" y="802.3" width="41.2" height="1.6" fill="#fee1d3"/>
<rect x="434.4" y="802.3" width="41.2" height="1.6" fill="#fee6db"/>
<rect x="475.3" y="802.3" width="41.2" height="1.6" fill="#fee7dc"/>
<rect x="516.1" y="802.3" width="41.2" height="1.6" fill="#fdcab5"/>
<rect x="189.2" y="803.7" width="41.2" height="2.6" fill="#fee3d7"/>
<rect x="230.1" y="803.7" width="41.2" height="2.6" fill="#fee5d9"/>
<rect x="270.9" y="803.7" width="41.2" height="2.6" fill="#fedccd"/>
<rect x="311.8" y="803.7" width="41.2" height="2.6" fill="#ffeee6"/>
<rect x="393.5" y="803.7" width="41.2" height="2.6" fill="#ffede5"/>
<rect x="475.3" y="803.7" width="41.2" height="2.6" fill="#ffeee6"/>
<rect x="516.1" y="803.7" width="41.2" height="2.6" fill="#ffeee7"/>
<rect x="189.2" y="806.1" width="41.2" height="1.6" fill="#feddcf"/>
<rect x="230.1" y="806.1" width="41.2" height="1.6" fill="#fed8c7"/>
<rect x="270.9" y="806.1" width="41.2" height="1.6" fill="#fedecf"/>
<rect x="311.8" y="806.1" width="41.2" height="1.6" fill="#fee3d6"/>
<rect x="352.7" y="806.1" width="41.2" height="1.6" fill="#feddcd"/>
<rect x="393.5" y="806.1" width="41.2" height="1.6" fill="#fdceba"/>
<rect x="434.4" y="806.1" width="41.2" height="1.6" fill="#ffede5"/>
<rect x="475.3" y="806.1" width="41.2" height="1.6" fill="#fee5d9"/>
<rect x="516.1" y="806.1" width="41.2" height="1.6" fill="#fee8dd"/>
<rect x="189.2" y="807.5" width="41.2" height="1.8" fill="#feeae0"/>
<rect x="230.1" y="807.5" width="41.2" height="1.8" fill="#fee6db"/>
<rect x="270.9" y="807.5" width="41.2" height="1.8" fill="#fee9df"/>
<rect x="311.8" y="807.5" width="41.2" height="1.8" fill="#ffeee6"/>
<rect x="393.5" y="807.5" width="41.2" height="1.8" fill="#fee7dc"/>
<rect x="475.3" y="807.5" width="41.2" height="1.8" fill="#feeae0"/>
<rect x="516.1" y="807.5" width="41.2" height="1.8" fill="#fee6db"/>
<rect x="189.2" y="809.1" width="41.2" height="2.2" fill="#fee4d8"/>
<rect x="230.1" y="809.1" width="41.2" height="2.2" fill="#fee4d8"/>
<rect x="270.9" y="809.1" width="41.2" height="2.2" fill="#fee6da"/>
<rect x="352.7" y="809.1" width="41.2" height="2.2" fill="#ffede4"/>
<rect x="393.5" y="809.1" width="41.2" height="2.2" fill="#ffebe1"/>
<rect x="434.4" y="809.1" width="41.2" height="2.2" fill="#ffefe7"/>
<rect x="475.3" y="809.1" width="41.2" height="2.2" fill="#fee8dd"/>
<rect x="516.1" y="809.1" width="41.2" height="2.2" fill="#fee9df"/>
<rect x="230.1" y="811.1" width="41.2" height="1.6" fill="#ffeee6"/>
<rect x="311.8" y="811.1" width="41.2" height="1.6" fill="#ffece3"/>
<rect x="393.5" y="811.1" width="41.2" height="1.6" fill="#ffede4"/>
<rect x="516.1" y="811.1" width="41.2" height="1.6" fill="#fee0d3"/>
<rect x="189.2" y="812.5" width="41.2" height="1.9" fill="#fdc6b0"/>
<rect x="230.1" y="812.5" width="41.2" height="1.9" fill="#fedccd"/>
<rect x="270.9" y="812.5" width="41.2" height="1.9" fill="#ffede4"/>
<rect x="393.5" y="812.5" width="41.2" height="1.9" fill="#ffefe7"/>
<rect x="434.4" y="812.5" width="41.2" height="1.9" fill="#ffeee6"/>
<rect x="475.3" y="812.5" width="41.2" height="1.9" fill="#ffeee5"/>
<rect x="516.1" y="812.5" width="41.2" height="1.9" fill="#fee4d8"/>
<rect x="189.2" y="814.2" width="41.2" height="3.2" fill="#fb6f4f"/>
<rect x="230.1" y="814.2" width="41.2" height="3.2" fill="#fdcebb"/>
<rect x="270.9" y="814.2" width="41.2" height="3.2" fill="#fcad91"/>
<rect x="393.5" y="814.2" width="41.2" height="3.2" fill="#ffede5"/>
<rect x="434.4" y="814.2" width="41.2" height="3.2" fill="#ffefe7"/>
<rect x="475.3" y="814.2" width="41.2" height="3.2" fill="#ffece3"/>
<rect x="516.1" y="814.2" width="41.2" height="3.2" fill="#fee7dc"/>
<rect x="189.2" y="817.2" width="41.2" height="1.4" fill="#fcb095"/>
<rect x="230.1" y="817.2" width="41.2" height="1.4" fill="#fdccb7"/>
<rect x="270.9" y="817.2" width="41.2" height="1.4" fill="#fdc5ae"/>
<rect x="393.5" y="817.2" width="41.2" height="1.4" fill="#ffefe7"/>
<rect x="475.3" y="817.2" width="41.2" height="1.4" fill="#feeae0"/>
<rect x="516.1" y="817.2" width="41.2" height="1.4" fill="#fee8dd"/>
<rect x="189.2" y="818.4" width="41.2" height="3.2" fill="#fc9c7e"/>
<rect x="230.1" y="818.4" width="41.2" height="3.2" fill="#fb6a4a"/>
<rect x="270.9" y="818.4" width="41.2" height="3.2" fill="#fc9070"/>
<rect x="311.8" y="818.4" width="41.2" height="3.2" fill="#ffefe7"/>
<rect x="434.4" y="818.4" width="41.2" height="3.2" fill="#ffece3"/>
<rect x="475.3" y="818.4" width="41.2" height="3.2" fill="#fee7db"/>
<rect x="516.1" y="818.4" width="41.2" height="3.2" fill="#fee1d3"/>
<rect x="189.2" y="821.4" width="41.2" height="2.2" fill="#fc9676"/>
<rect x="230.1" y="821.4" width="41.2" height="2.2" fill="#fc9272"/>
<rect x="270.9" y="821.4" width="41.2" height="2.2" fill="#f44e38"/>
<rect x="311.8" y="821.4" width="41.2" height="2.2" fill="#ffece3"/>
<rect x="352.7" y="821.4" width="41.2" height="2.2" fill="#ffede5"/>
<rect x="393.5" y="821.4" width="41.2" height="2.2" fill="#ffede4"/>
<rect x="516.1" y="821.4" width="41.2" height="2.2" fill="#ffeee6"/>
<rect x="189.2" y="823.4" width="41.2" height="1.8" fill="#ed392b"/>
<rect x="230.1" y="823.4" width="41.2" height="1.8" fill="#fee1d4"/>
<rect x="270.9" y="823.4" width="41.2" height="1.8" fill="#fca284"/>
<rect x="434.4" y="823.4" width="41.2" height="1.8" fill="#ffeee6"/>
<rect x="475.3" y="823.4" width="41.2" height="1.8" fill="#ffece3"/>
<rect x="516.1" y="823.4" width="41.2" height="1.8" fill="#fee9df"/>
<rect x="189.2" y="825.0" width="41.2" height="1.8" fill="#fdc8b2"/>
<rect x="230.1" y="825.0" width="41.2" height="1.8" fill="#fc9677"/>
<rect x="270.9" y="825.0" width="41.2" height="1.8" fill="#fdcdb8"/>
<rect x="311.8" y="825.0" width="41.2" height="1.8" fill="#ffeee6"/>
<rect x="393.5" y="825.0" width="41.2" height="1.8" fill="#ffede5"/>
<rect x="434.4" y="825.0" width="41.2" height="1.8" fill="#ffede4"/>
<rect x="475.3" y="825.0" width="41.2" height="1.8" fill="#fee4d7"/>
<rect x="516.1" y="825.0" width="41.2" height="1.8" fill="#fee2d5"/>
<rect x="189.2" y="826.6" width="41.2" height="2.2" fill="#fc7e5e"/>
<rect x="230.1" y="826.6" width="41.2" height="2.2" fill="#fc8f6f"/>
<rect x="270.9" y="826.6" width="41.2" height="2.2" fill="#fee5d9"/>
<rect x="311.8" y="826.6" width="41.2" height="2.2" fill="#ffefe7"/>
<rect x="352.7" y="826.6" width="41.2" height="2.2" fill="#ffefe7"/>
<rect x="434.4" y="826.6" width="41.2" height="2.2" fill="#ffeee5"/>
<rect x="475.3" y="826.6" width="41.2" height="2.2" fill="#fee9de"/>
<rect x="516.1" y="826.6" width="41.2" height="2.2" fill="#fdd5c4"/>
<rect x="189.2" y="828.6" width="41.2" height="3.2" fill="#fdd1bf"/>
<rect x="230.1" y="828.6" width="41.2" height="3.2" fill="#fee1d4"/>
<rect x="270.9" y="828.6" width="41.2" height="3.2" fill="#fdceba"/>
<rect x="311.8" y="828.6" width="41.2" height="3.2" fill="#feeae0"/>
<rect x="393.5" y="828.6" width="41.2" height="3.2" fill="#ffede4"/>
<rect x="434.4" y="828.6" width="41.2" height="3.2" fill="#ffebe1"/>
<rect x="475.3" y="828.6" width="41.2" height="3.2" fill="#fee3d6"/>
<rect x="516.1" y="828.6" width="41.2" height="3.2" fill="#fee6da"/>
<rect x="189.2" y="831.6" width="41.2" height="1.6" fill="#f04130"/>
<rect x="230.1" y="831.6" width="41.2" height="1.6" fill="#fb7353"/>
<rect x="270.9" y="831.6" width="41.2" height="1.6" fill="#fb7757"/>
<rect x="434.4" y="831.6" width="41.2" height="1.6" fill="#ffebe2"/>
<rect x="475.3" y="831.6" width="41.2" height="1.6" fill="#fee3d6"/>
<rect x="516.1" y="831.6" width="41.2" height="1.6" fill="#fedfd1"/>
<rect x="189.2" y="833.0" width="41.2" height="3.2" fill="#fcbba1"/>
<rect x="230.1" y="833.0" width="41.2" height="3.2" fill="#fdc8b2"/>
<rect x="270.9" y="833.0" width="41.2" height="3.2" fill="#fca487"/>
<rect x="352.7" y="833.0" width="41.2" height="3.2" fill="#ffefe7"/>
<rect x="434.4" y="833.0" width="41.2" height="3.2" fill="#ffede4"/>
<rect x="475.3" y="833.0" width="41.2" height="3.2" fill="#fee4d8"/>
<rect x="516.1" y="833.0" width="41.2" height="3.2" fill="#fee3d7"/>
<rect x="189.2" y="836.0" width="41.2" height="1.4" fill="#fca98c"/>
<rect x="230.1" y="836.0" width="41.2" height="1.4" fill="#fc9f80"/>
<rect x="270.9" y="836.0" width="41.2" height="1.4" fill="#fc8666"/>
<rect x="434.4" y="836.0" width="41.2" height="1.4" fill="#fee6da"/>
<rect x="516.1" y="836.0" width="41.2" height="1.4" fill="#fcad91"/>
<rect x="189.2" y="837.2" width="41.2" height="1.4" fill="#fcbba1"/>
<rect x="230.1" y="837.2" width="41.2" height="1.4" fill="#fb7d5d"/>
<rect x="270.9" y="837.2" width="41.2" height="1.4" fill="#fca285"/>
<rect x="311.8" y="837.2" width="41.2" height="1.4" fill="#ffece3"/>
<rect x="352.7" y="837.2" width="41.2" height="1.4" fill="#ffede5"/>
<rect x="393.5" y="837.2" width="41.2" height="1.4" fill="#ffefe7"/>
<rect x="434.4" y="837.2" width="41.2" height="1.4" fill="#fee6db"/>
<rect x="475.3" y="837.2" width="41.2" height="1.4" fill="#fee7dc"/>
<rect x="516.1" y="837.2" width="41.2" height="1.4" fill="#fcc4ad"/>
<rect x="189.2" y="838.4" width="41.2" height="2.6" fill="#fdcebb"/>
<rect x="230.1" y="838.4" width="41.2" height="2.6" fill="#fdd5c3"/>
<rect x="270.9" y="838.4" width="41.2" height="2.6" fill="#fdc5ae"/>
<rect x="311.8" y="838.4" width="41.2" height="2.6" fill="#fee9df"/>
<rect x="352.7" y="838.4" width="41.2" height="2.6" fill="#ffefe7"/>
<rect x="434.4" y="838.4" width="41.2" height="2.6" fill="#fee9df"/>
<rect x="516.1" y="838.4" width="41.2" height="2.6" fill="#fedecf"/>
<rect x="189.2" y="840.8" width="41.2" height="1.8" fill="#fca487"/>
<rect x="230.1" y="840.8" width="41.2" height="1.8" fill="#fcaf93"/>
<rect x="270.9" y="840.8" width="41.2" height="1.8" fill="#fcc1a9"/>
<rect x="311.8" y="840.8" width="41.2" height="1.8" fill="#ffece3"/>
<rect x="352.7" y="840.8" width="41.2" height="1.8" fill="#ffeee6"/>
<rect x="393.5" y="840.8" width="41.2" height="1.8" fill="#ffebe2"/>
<rect x="516.1" y="840.8" width="41.2" height="1.8" fill="#ffefe7"/>
<rect x="189.2" y="842.4" width="41.2" height="2.6" fill="#fc9e80"/>
<rect x="230.1" y="842.4" width="41.2" height="2.6" fill="#fcbca2"/>
<rect x="270.9" y="842.4" width="41.2" height="2.6" fill="#fcb79c"/>
<rect x="393.5" y="842.4" width="41.2" height="2.6" fill="#ffefe7"/>
<rect x="475.3" y="842.4" width="41.2" height="2.6" fill="#ffeee6"/>
<rect x="189.2" y="844.8" width="41.2" height="1.8" fill="#f03d2d"/>
<rect x="230.1" y="844.8" width="41.2" height="1.8" fill="#f6563d"/>
<rect x="270.9" y="844.8" width="41.2" height="1.8" fill="#fb7b5b"/>
<rect x="311.8" y="844.8" width="41.2" height="1.8" fill="#ffede5"/>
<rect x="352.7" y="844.8" width="41.2" height="1.8" fill="#ffefe8"/>
<rect x="434.4" y="844.8" width="41.2" height="1.8" fill="#ffede5"/>
<rect x="475.3" y="844.8" width="41.2" height="1.8" fill="#fee6db"/>
<rect x="516.1" y="844.8" width="41.2" height="1.8" fill="#feeae0"/>
<rect x="189.2" y="846.4" width="41.2" height="1.6" fill="#fcac90"/>
<rect x="230.1" y="846.4" width="41.2" height="1.6" fill="#fcb79d"/>
<rect x="270.9" y="846.4" width="41.2" height="1.6" fill="#fc9070"/>
<rect x="311.8" y="846.4" width="41.2" height="1.6" fill="#ffece3"/>
<rect x="352.7" y="846.4" width="41.2" height="1.6" fill="#ffefe8"/>
<rect x="393.5" y="846.4" width="41.2" height="1.6" fill="#ffece3"/>
<rect x="475.3" y="846.4" width="41.2" height="1.6" fill="#ffede5"/>
<rect x="516.1" y="846.4" width="41.2" height="1.6" fill="#feeae1"/>
<rect x="189.2" y="847.8" width="41.2" height="1.6" fill="#fc9070"/>
<rect x="230.1" y="847.8" width="41.2" height="1.6" fill="#d21f20"/>
<rect x="270.9" y="847.8" width="41.2" height="1.6" fill="#fc8969"/>
<rect x="311.8" y="847.8" width="41.2" height="1.6" fill="#ffefe8"/>
<rect x="352.7" y="847.8" width="41.2" height="1.6" fill="#ffede5"/>
<rect x="393.5" y="847.8" width="41.2" height="1.6" fill="#ffede5"/>
<rect x="475.3" y="847.8" width="41.2" height="1.6" fill="#ffeee5"/>
<rect x="516.1" y="847.8" width="41.2" height="1.6" fill="#ffeee7"/>
<rect x="189.2" y="849.2" width="41.2" height="1.8" fill="#fed7c7"/>
<rect x="230.1" y="849.2" width="41.2" height="1.8" fill="#e73329"/>
<rect x="270.9" y="849.2" width="41.2" height="1.8" fill="#bf151a"/>
<rect x="475.3" y="849.2" width="41.2" height="1.8" fill="#ffefe7"/>
<rect x="516.1" y="849.2" width="41.2" height="1.8" fill="#ffebe2"/>
<rect x="189.2" y="850.8" width="41.2" height="3.2" fill="#fb7a5a"/>
<rect x="230.1" y="850.8" width="41.2" height="3.2" fill="#fb7454"/>
<rect x="270.9" y="850.8" width="41.2" height="3.2" fill="#fb7d5d"/>
<rect x="311.8" y="850.8" width="41.2" height="3.2" fill="#fee3d6"/>
<rect x="352.7" y="850.8" width="41.2" height="3.2" fill="#fee7dc"/>
<rect x="393.5" y="850.8" width="41.2" height="3.2" fill="#feddce"/>
<rect x="434.4" y="850.8" width="41.2" height="3.2" fill="#fee5da"/>
<rect x="475.3" y="850.8" width="41.2" height="3.2" fill="#fee8dd"/>
<rect x="516.1" y="850.8" width="41.2" height="3.2" fill="#fdd5c4"/>
<rect x="189.2" y="853.8" width="41.2" height="2.6" fill="#fc9a7c"/>
<rect x="230.1" y="853.8" width="41.2" height="2.6" fill="#fcb69b"/>
<rect x="270.9" y="853.8" width="41.2" height="2.6" fill="#fdd4c2"/>
<rect x="352.7" y="853.8" width="41.2" height="2.6" fill="#ffeee7"/>
<rect x="393.5" y="853.8" width="41.2" height="2.6" fill="#ffefe7"/>
<rect x="475.3" y="853.8" width="41.2" height="2.6" fill="#feeae1"/>
<rect x="516.1" y="853.8" width="41.2" height="2.6" fill="#fee8de"/>
<rect x="189.2" y="856.2" width="41.2" height="3.2" fill="#fc9b7d"/>
<rect x="230.1" y="856.2" width="41.2" height="3.2" fill="#fb7d5d"/>
<rect x="270.9" y="856.2" width="41.2" height="3.2" fill="#fc8f6f"/>
<rect x="311.8" y="856.2" width="41.2" height="3.2" fill="#fee7dc"/>
<rect x="352.7" y="856.2" width="41.2" height="3.2" fill="#ffece4"/>
<rect x="393.5" y="856.2" width="41.2" height="3.2" fill="#ffebe1"/>
<rect x="434.4" y="856.2" width="41.2" height="3.2" fill="#fee9df"/>
<rect x="475.3" y="856.2" width="41.2" height="3.2" fill="#fedccd"/>
<rect x="516.1" y="856.2" width="41.2" height="3.2" fill="#fedaca"/>
<rect x="189.2" y="859.2" width="41.2" height="2.2" fill="#f34b36"/>
<rect x="230.1" y="859.2" width="41.2" height="2.2" fill="#f85f43"/>
<rect x="270.9" y="859.2" width="41.2" height="2.2" fill="#fc8b6b"/>
<rect x="311.8" y="859.2" width="41.2" height="2.2" fill="#ffece3"/>
<rect x="516.1" y="859.2" width="41.2" height="2.2" fill="#ffece3"/>
<rect x="189.2" y="861.2" width="41.2" height="1.4" fill="#fca487"/>
<rect x="230.1" y="861.2" width="41.2" height="1.4" fill="#fc9879"/>
<rect x="270.9" y="861.2" width="41.2" height="1.4" fill="#fdcdb9"/>
<rect x="311.8" y="861.2" width="41.2" height="1.4" fill="#fee9df"/>
<rect x="352.7" y="861.2" width="41.2" height="1.4" fill="#ffeee6"/>
<rect x="393.5" y="861.2" width="41.2" height="1.4" fill="#ffebe2"/>
<rect x="516.1" y="861.2" width="41.2" height="1.4" fill="#ffefe7"/>
<rect x="189.2" y="862.4" width="41.2" height="3.2" fill="#fb6b4b"/>
<rect x="230.1" y="862.4" width="41.2" height="3.2" fill="#de2a25"/>
<rect x="270.9" y="862.4" width="41.2" height="3.2" fill="#bc141a"/>
<rect x="311.8" y="862.4" width="41.2" height="3.2" fill="#ffede4"/>
<rect x="393.5" y="862.4" width="41.2" height="3.2" fill="#ffefe7"/>
<rect x="434.4" y="862.4" width="41.2" height="3.2" fill="#ffece4"/>
<rect x="475.3" y="862.4" width="41.2" height="3.2" fill="#fee8de"/>
<rect x="516.1" y="862.4" width="41.2" height="3.2" fill="#fee2d5"/>
<rect x="189.2" y="865.4" width="41.2" height="2.2" fill="#f24734"/>
<rect x="230.1" y="865.4" width="41.2" height="2.2" fill="#fb6b4b"/>
<rect x="270.9" y="865.4" width="41.2" height="2.2" fill="#f34935"/>
<rect x="311.8" y="865.4" width="41.2" height="2.2" fill="#feeae0"/>
<rect x="393.5" y="865.4" width="41.2" height="2.2" fill="#ffebe1"/>
<rect x="434.4" y="865.4" width="41.2" height="2.2" fill="#ffeee7"/>
<rect x="475.3" y="865.4" width="41.2" height="2.2" fill="#feeae1"/>
<rect x="516.1" y="865.4" width="41.2" height="2.2" fill="#fee7dc"/>
<rect x="189.2" y="867.4" width="41.2" height="2.6" fill="#fdcfbb"/>
<rect x="230.1" y="867.4" width="41.2" height="2.6" fill="#f44e38"/>
<rect x="270.9" y="867.4" width="41.2" height="2.6" fill="#fb6b4b"/>
<rect x="311.8" y="867.4" width="41.2" height="2.6" fill="#fee7dc"/>
<rect x="352.7" y="867.4" width="41.2" height="2.6" fill="#ffeee7"/>
<rect x="434.4" y="867.4" width="41.2" height="2.6" fill="#ffede4"/>
<rect x="475.3" y="867.4" width="41.2" height="2.6" fill="#fee9df"/>
<rect x="516.1" y="867.4" width="41.2" height="2.6" fill="#fedaca"/>
<rect x="189.2" y="869.8" width="41.2" height="1.6" fill="#fc9575"/>
<rect x="230.1" y="869.8" width="41.2" height="1.6" fill="#fca184"/>
<rect x="270.9" y="869.8" width="41.2" height="1.6" fill="#fcac90"/>
<rect x="311.8" y="869.8" width="41.2" height="1.6" fill="#ffeee6"/>
<rect x="393.5" y="869.8" width="41.2" height="1.6" fill="#ffefe7"/>
<rect x="475.3" y="869.8" width="41.2" height="1.6" fill="#ffece3"/>
<rect x="516.1" y="869.8" width="41.2" height="1.6" fill="#fee9df"/>
<rect x="189.2" y="871.2" width="41.2" height="2.2" fill="#fa6547"/>
<rect x="230.1" y="871.2" width="41.2" height="2.2" fill="#fc9373"/>
<rect x="270.9" y="871.2" width="41.2" height="2.2" fill="#fb7353"/>
<rect x="311.8" y="871.2" width="41.2" height="2.2" fill="#ffefe7"/>
<rect x="434.4" y="871.2" width="41.2" height="2.2" fill="#ffede4"/>
<rect x="475.3" y="871.2" width="41.2" height="2.2" fill="#ffeee7"/>
<rect x="516.1" y="871.2" width="41.2" height="2.2" fill="#ffebe1"/>
<rect x="189.2" y="873.2" width="41.2" height="1.4" fill="#fdd4c2"/>
<rect x="230.1" y="873.2" width="41.2" height="1.4" fill="#fcb59a"/>
<rect x="270.9" y="873.2" width="41.2" height="1.4" fill="#fdc7b1"/>
<rect x="393.5" y="873.2" width="41.2" height="1.4" fill="#ffeee6"/>
<rect x="434.4" y="873.2" width="41.2" height="1.4" fill="#ffefe7"/>
<rect x="475.3" y="873.2" width="41.2" height="1.4" fill="#fee6db"/>
<rect x="516.1" y="873.2" width="41.2" height="1.4" fill="#ffeee5"/>
<rect x="189.2" y="874.4" width="41.2" height="0.3" fill="#fb7c5c"/>
<rect x="230.1" y="874.4" width="41.2" height="0.3" fill="#fca083"/>
<rect x="270.9" y="874.4" width="41.2" height="0.3" fill="#fca587"/>
<rect x="393.5" y="874.4" width="41.2" height="0.3" fill="#ffede5"/>
<rect x="516.1" y="874.4" width="41.2" height="0.3" fill="#ffefe7"/>
<rect x="189.2" y="874.5" width="41.2" height="2.6" fill="#fee9de"/>
<rect x="230.1" y="874.5" width="41.2" height="2.6" fill="#fdd3c1"/>
<rect x="270.9" y="874.5" width="41.2" height="2.6" fill="#fee5d9"/>
<rect x="311.8" y="874.5" width="41.2" height="2.6" fill="#ffeee6"/>
<rect x="434.4" y="874.5" width="41.2" height="2.6" fill="#fee2d5"/>
<rect x="475.3" y="874.5" width="41.2" height="2.6" fill="#fdcdb9"/>
<rect x="516.1" y="874.5" width="41.2" height="2.6" fill="#fcb499"/>
<rect x="189.2" y="876.9" width="41.2" height="3.2" fill="#ffebe2"/>
<rect x="230.1" y="876.9" width="41.2" height="3.2" fill="#fedccd"/>
<rect x="270.9" y="876.9" width="41.2" height="3.2" fill="#feeae0"/>
<rect x="311.8" y="876.9" width="41.2" height="3.2" fill="#fee2d5"/>
<rect x="352.7" y="876.9" width="41.2" height="3.2" fill="#ffefe7"/>
<rect x="393.5" y="876.9" width="41.2" height="3.2" fill="#fee5da"/>
<rect x="434.4" y="876.9" width="41.2" height="3.2" fill="#fee2d5"/>
<rect x="475.3" y="876.9" width="41.2" height="3.2" fill="#fdceba"/>
<rect x="516.1" y="876.9" width="41.2" height="3.2" fill="#fc9f81"/>
<rect x="189.2" y="879.9" width="41.2" height="1.8" fill="#fcb99f"/>
<rect x="230.1" y="879.9" width="41.2" height="1.8" fill="#d62322"/>
<rect x="270.9" y="879.9" width="41.2" height="1.8" fill="#fcc3ac"/>
<rect x="311.8" y="879.9" width="41.2" height="1.8" fill="#fee4d8"/>
<rect x="393.5" y="879.9" width="41.2" height="1.8" fill="#fee9df"/>
<rect x="475.3" y="879.9" width="41.2" height="1.8" fill="#fedfd1"/>
<rect x="516.1" y="879.9" width="41.2" height="1.8" fill="#fcc2aa"/>
<rect x="189.2" y="881.5" width="41.2" height="2.2" fill="#fee2d5"/>
<rect x="230.1" y="881.5" width="41.2" height="2.2" fill="#fca183"/>
<rect x="270.9" y="881.5" width="41.2" height="2.2" fill="#fee3d6"/>
<rect x="311.8" y="881.5" width="41.2" height="2.2" fill="#fee3d6"/>
<rect x="352.7" y="881.5" width="41.2" height="2.2" fill="#ffeee6"/>
<rect x="393.5" y="881.5" width="41.2" height="2.2" fill="#fee4d7"/>
<rect x="434.4" y="881.5" width="41.2" height="2.2" fill="#fee8de"/>
<rect x="475.3" y="881.5" width="41.2" height="2.2" fill="#fee9df"/>
<rect x="516.1" y="881.5" width="41.2" height="2.2" fill="#fdcab5"/>
<rect x="189.2" y="883.5" width="41.2" height="1.8" fill="#fdd6c5"/>
<rect x="230.1" y="883.5" width="41.2" height="1.8" fill="#fc8565"/>
<rect x="270.9" y="883.5" width="41.2" height="1.8" fill="#fdd5c4"/>
<rect x="311.8" y="883.5" width="41.2" height="1.8" fill="#fee9de"/>
<rect x="352.7" y="883.5" width="41.2" height="1.8" fill="#ffeee6"/>
<rect x="393.5" y="883.5" width="41.2" height="1.8" fill="#fee0d2"/>
<rect x="434.4" y="883.5" width="41.2" height="1.8" fill="#fee7dc"/>
<rect x="475.3" y="883.5" width="41.2" height="1.8" fill="#fee0d2"/>
<rect x="516.1" y="883.5" width="41.2" height="1.8" fill="#fdc7b1"/>
<rect x="189.2" y="885.1" width="41.2" height="1.6" fill="#fee7dc"/>
<rect x="230.1" y="885.1" width="41.2" height="1.6" fill="#fdcebb"/>
<rect x="270.9" y="885.1" width="41.2" height="1.6" fill="#fee0d3"/>
<rect x="311.8" y="885.1" width="41.2" height="1.6" fill="#fedccd"/>
<rect x="352.7" y="885.1" width="41.2" height="1.6" fill="#ffece4"/>
<rect x="393.5" y="885.1" width="41.2" height="1.6" fill="#fee7dc"/>
<rect x="434.4" y="885.1" width="41.2" height="1.6" fill="#fee3d6"/>
<rect x="516.1" y="885.1" width="41.2" height="1.6" fill="#ffece3"/>
<rect x="189.2" y="886.5" width="41.2" height="3.2" fill="#feeae0"/>
<rect x="230.1" y="886.5" width="41.2" height="3.2" fill="#fca88b"/>
<rect x="270.9" y="886.5" width="41.2" height="3.2" fill="#fee2d5"/>
<rect x="311.8" y="886.5" width="41.2" height="3.2" fill="#fee1d3"/>
<rect x="352.7" y="886.5" width="41.2" height="3.2" fill="#ffeee7"/>
<rect x="393.5" y="886.5" width="41.2" height="3.2" fill="#fee8dd"/>
<rect x="434.4" y="886.5" width="41.2" height="3.2" fill="#fed7c6"/>
<rect x="475.3" y="886.5" width="41.2" height="3.2" fill="#fee6db"/>
<rect x="516.1" y="886.5" width="41.2" height="3.2" fill="#fdc5ae"/>
<rect x="189.2" y="889.5" width="41.2" height="1.6" fill="#fee0d2"/>
<rect x="230.1" y="889.5" width="41.2" height="1.6" fill="#fcb398"/>
<rect x="270.9" y="889.5" width="41.2" height="1.6" fill="#feddce"/>
<rect x="311.8" y="889.5" width="41.2" height="1.6" fill="#fed9c9"/>
<rect x="352.7" y="889.5" width="41.2" height="1.6" fill="#ffece3"/>
<rect x="393.5" y="889.5" width="41.2" height="1.6" fill="#fee3d6"/>
<rect x="434.4" y="889.5" width="41.2" height="1.6" fill="#fee8de"/>
<rect x="475.3" y="889.5" width="41.2" height="1.6" fill="#ffeee6"/>
<rect x="516.1" y="889.5" width="41.2" height="1.6" fill="#fdd2bf"/>
<rect x="230.1" y="890.9" width="41.2" height="2.6" fill="#fdd4c2"/>
<rect x="270.9" y="890.9" width="41.2" height="2.6" fill="#fee4d8"/>
<rect x="311.8" y="890.9" width="41.2" height="2.6" fill="#fdc9b3"/>
<rect x="352.7" y="890.9" width="41.2" height="2.6" fill="#ffeee6"/>
<rect x="393.5" y="890.9" width="41.2" height="2.6" fill="#fed9c9"/>
<rect x="434.4" y="890.9" width="41.2" height="2.6" fill="#fee3d6"/>
<rect x="475.3" y="890.9" width="41.2" height="2.6" fill="#fdd4c2"/>
<rect x="516.1" y="890.9" width="41.2" height="2.6" fill="#fcc1a9"/>
<rect x="189.2" y="893.3" width="41.2" height="1.4" fill="#fee8de"/>
<rect x="230.1" y="893.3" width="41.2" height="1.4" fill="#fcc4ad"/>
<rect x="270.9" y="893.3" width="41.2" height="1.4" fill="#fee6da"/>
<rect x="311.8" y="893.3" width="41.2" height="1.4" fill="#fee0d2"/>
<rect x="352.7" y="893.3" width="41.2" height="1.4" fill="#fee5d9"/>
<rect x="393.5" y="893.3" width="41.2" height="1.4" fill="#fdd3c1"/>
<rect x="434.4" y="893.3" width="41.2" height="1.4" fill="#ffece3"/>
<rect x="475.3" y="893.3" width="41.2" height="1.4" fill="#fed9c9"/>
<rect x="516.1" y="893.3" width="41.2" height="1.4" fill="#fcbca2"/>
<rect x="189.2" y="894.5" width="41.2" height="3.2" fill="#feeae0"/>
<rect x="230.1" y="894.5" width="41.2" height="3.2" fill="#fcc0a7"/>
<rect x="311.8" y="894.5" width="41.2" height="3.2" fill="#fee7dc"/>
<rect x="393.5" y="894.5" width="41.2" height="3.2" fill="#fee9df"/>
<rect x="434.4" y="894.5" width="41.2" height="3.2" fill="#fdd5c4"/>
<rect x="475.3" y="894.5" width="41.2" height="3.2" fill="#fdc6b0"/>
<rect x="516.1" y="894.5" width="41.2" height="3.2" fill="#fcbea5"/>
<rect x="189.2" y="897.5" width="41.2" height="3.2" fill="#fee5da"/>
<rect x="230.1" y="897.5" width="41.2" height="3.2" fill="#ffede5"/>
<rect x="311.8" y="897.5" width="41.2" height="3.2" fill="#fee2d5"/>
<rect x="393.5" y="897.5" width="41.2" height="3.2" fill="#fee8dd"/>
<rect x="434.4" y="897.5" width="41.2" height="3.2" fill="#fee8dd"/>
<rect x="475.3" y="897.5" width="41.2" height="3.2" fill="#fed9c9"/>
<rect x="516.1" y="897.5" width="41.2" height="3.2" fill="#fdcdb9"/>
<rect x="189.2" y="900.5" width="41.2" height="3.2" fill="#fee6db"/>
<rect x="230.1" y="900.5" width="41.2" height="3.2" fill="#fee2d5"/>
<rect x="270.9" y="900.5" width="41.2" height="3.2" fill="#fee7db"/>
<rect x="311.8" y="900.5" width="41.2" height="3.2" fill="#fee3d6"/>
<rect x="352.7" y="900.5" width="41.2" height="3.2" fill="#ffeee6"/>
<rect x="393.5" y="900.5" width="41.2" height="3.2" fill="#fedbcc"/>
<rect x="434.4" y="900.5" width="41.2" height="3.2" fill="#fee9df"/>
<rect x="475.3" y="900.5" width="41.2" height="3.2" fill="#fedfd1"/>
<rect x="516.1" y="900.5" width="41.2" height="3.2" fill="#ffece4"/>
<rect x="189.2" y="903.5" width="41.2" height="2.6" fill="#fee9de"/>
<rect x="230.1" y="903.5" width="41.2" height="2.6" fill="#fdd2bf"/>
<rect x="270.9" y="903.5" width="41.2" height="2.6" fill="#fee3d6"/>
<rect x="311.8" y="903.5" width="41.2" height="2.6" fill="#ffece4"/>
<rect x="393.5" y="903.5" width="41.2" height="2.6" fill="#ffede5"/>
<rect x="434.4" y="903.5" width="41.2" height="2.6" fill="#fdd6c5"/>
<rect x="475.3" y="903.5" width="41.2" height="2.6" fill="#fee0d2"/>
<rect x="516.1" y="903.5" width="41.2" height="2.6" fill="#fc9d7e"/>
<rect x="189.2" y="905.9" width="41.2" height="1.6" fill="#ffece3"/>
<rect x="230.1" y="905.9" width="41.2" height="1.6" fill="#fedccd"/>
<rect x="270.9" y="905.9" width="41.2" height="1.6" fill="#fee5d9"/>
<rect x="311.8" y="905.9" width="41.2" height="1.6" fill="#fee6db"/>
<rect x="352.7" y="905.9" width="41.2" height="1.6" fill="#ffede5"/>
<rect x="393.5" y="905.9" width="41.2" height="1.6" fill="#fee3d6"/>
<rect x="434.4" y="905.9" width="41.2" height="1.6" fill="#fedccc"/>
<rect x="475.3" y="905.9" width="41.2" height="1.6" fill="#fdd1be"/>
<rect x="516.1" y="905.9" width="41.2" height="1.6" fill="#fca385"/>
<rect x="189.2" y="907.3" width="41.2" height="1.4" fill="#fee1d4"/>
<rect x="230.1" y="907.3" width="41.2" height="1.4" fill="#fcbfa7"/>
<rect x="270.9" y="907.3" width="41.2" height="1.4" fill="#fee4d8"/>
<rect x="311.8" y="907.3" width="41.2" height="1.4" fill="#fed9c9"/>
<rect x="352.7" y="907.3" width="41.2" height="1.4" fill="#ffede4"/>
<rect x="393.5" y="907.3" width="41.2" height="1.4" fill="#fdd6c5"/>
<rect x="434.4" y="907.3" width="41.2" height="1.4" fill="#fee5d9"/>
<rect x="475.3" y="907.3" width="41.2" height="1.4" fill="#ffede4"/>
<rect x="516.1" y="907.3" width="41.2" height="1.4" fill="#fdceba"/>
<rect x="189.2" y="908.5" width="41.2" height="2.6" fill="#fee7dc"/>
<rect x="230.1" y="908.5" width="41.2" height="2.6" fill="#fdcfbc"/>
<rect x="270.9" y="908.5" width="41.2" height="2.6" fill="#fed8c8"/>
<rect x="311.8" y="908.5" width="41.2" height="2.6" fill="#feeae0"/>
<rect x="352.7" y="908.5" width="41.2" height="2.6" fill="#ffefe7"/>
<rect x="393.5" y="908.5" width="41.2" height="2.6" fill="#fee4d8"/>
<rect x="475.3" y="908.5" width="41.2" height="2.6" fill="#feeae0"/>
<rect x="516.1" y="908.5" width="41.2" height="2.6" fill="#fdd7c5"/>
<rect x="189.2" y="910.9" width="41.2" height="1.4" fill="#fed9c9"/>
<rect x="230.1" y="910.9" width="41.2" height="1.4" fill="#fcbca2"/>
<rect x="270.9" y="910.9" width="41.2" height="1.4" fill="#fdcfbb"/>
<rect x="311.8" y="910.9" width="41.2" height="1.4" fill="#ffebe2"/>
<rect x="393.5" y="910.9" width="41.2" height="1.4" fill="#fee6da"/>
<rect x="434.4" y="910.9" width="41.2" height="1.4" fill="#ffebe2"/>
<rect x="475.3" y="910.9" width="41.2" height="1.4" fill="#ffefe8"/>
<rect x="516.1" y="910.9" width="41.2" height="1.4" fill="#fee3d6"/>
<rect x="189.2" y="912.1" width="41.2" height="1.8" fill="#ffece3"/>
<rect x="230.1" y="912.1" width="41.2" height="1.8" fill="#fedaca"/>
<rect x="270.9" y="912.1" width="41.2" height="1.8" fill="#feeae0"/>
<rect x="311.8" y="912.1" width="41.2" height="1.8" fill="#fee3d6"/>
<rect x="352.7" y="912.1" width="41.2" height="1.8" fill="#ffeee6"/>
<rect x="393.5" y="912.1" width="41.2" height="1.8" fill="#fee2d5"/>
<rect x="434.4" y="912.1" width="41.2" height="1.8" fill="#fee5d9"/>
<rect x="475.3" y="912.1" width="41.2" height="1.8" fill="#fee4d8"/>
<rect x="516.1" y="912.1" width="41.2" height="1.8" fill="#fed9c8"/>
<rect x="189.2" y="913.7" width="41.2" height="2.2" fill="#fed8c8"/>
<rect x="230.1" y="913.7" width="41.2" height="2.2" fill="#fee1d4"/>
<rect x="270.9" y="913.7" width="41.2" height="2.2" fill="#fee3d6"/>
<rect x="311.8" y="913.7" width="41.2" height="2.2" fill="#fee0d2"/>
<rect x="352.7" y="913.7" width="41.2" height="2.2" fill="#ffefe7"/>
<rect x="393.5" y="913.7" width="41.2" height="2.2" fill="#ffede4"/>
<rect x="434.4" y="913.7" width="41.2" height="2.2" fill="#fedfd1"/>
<rect x="475.3" y="913.7" width="41.2" height="2.2" fill="#feeae0"/>
<rect x="516.1" y="913.7" width="41.2" height="2.2" fill="#fdcfbc"/>
<rect x="189.2" y="915.7" width="41.2" height="1.8" fill="#fdd5c4"/>
<rect x="230.1" y="915.7" width="41.2" height="1.8" fill="#fee7dc"/>
<rect x="270.9" y="915.7" width="41.2" height="1.8" fill="#fee3d6"/>
<rect x="311.8" y="915.7" width="41.2" height="1.8" fill="#ffede4"/>
<rect x="393.5" y="915.7" width="41.2" height="1.8" fill="#fee7dc"/>
<rect x="434.4" y="915.7" width="41.2" height="1.8" fill="#fee7db"/>
<rect x="475.3" y="915.7" width="41.2" height="1.8" fill="#fedecf"/>
<rect x="516.1" y="915.7" width="41.2" height="1.8" fill="#fed9c8"/>
<rect x="230.1" y="917.3" width="41.2" height="2.6" fill="#fdcab5"/>
<rect x="270.9" y="917.3" width="41.2" height="2.6" fill="#fee6da"/>
<rect x="311.8" y="917.3" width="41.2" height="2.6" fill="#fdd3c1"/>
<rect x="352.7" y="917.3" width="41.2" height="2.6" fill="#ffede5"/>
<rect x="393.5" y="917.3" width="41.2" height="2.6" fill="#fedecf"/>
<rect x="434.4" y="917.3" width="41.2" height="2.6" fill="#ffece3"/>
<rect x="475.3" y="917.3" width="41.2" height="2.6" fill="#feeae0"/>
<rect x="516.1" y="917.3" width="41.2" height="2.6" fill="#fdd2c0"/>
<rect x="189.2" y="919.7" width="41.2" height="2.2" fill="#fee4d8"/>
<rect x="230.1" y="919.7" width="41.2" height="2.2" fill="#fcaf93"/>
<rect x="270.9" y="919.7" width="41.2" height="2.2" fill="#fedfd0"/>
<rect x="311.8" y="919.7" width="41.2" height="2.2" fill="#fee3d6"/>
<rect x="352.7" y="919.7" width="41.2" height="2.2" fill="#ffefe7"/>
<rect x="434.4" y="919.7" width="41.2" height="2.2" fill="#fdc8b3"/>
<rect x="475.3" y="919.7" width="41.2" height="2.2" fill="#fedaca"/>
<rect x="516.1" y="919.7" width="41.2" height="2.2" fill="#fc9171"/>
<rect x="189.2" y="921.7" width="41.2" height="2.2" fill="#fdd4c3"/>
<rect x="230.1" y="921.7" width="41.2" height="2.2" fill="#fcbaa0"/>
<rect x="270.9" y="921.7" width="41.2" height="2.2" fill="#fee7dc"/>
<rect x="311.8" y="921.7" width="41.2" height="2.2" fill="#feeae0"/>
<rect x="393.5" y="921.7" width="41.2" height="2.2" fill="#ffeee6"/>
<rect x="434.4" y="921.7" width="41.2" height="2.2" fill="#fed9c9"/>
<rect x="475.3" y="921.7" width="41.2" height="2.2" fill="#fdd6c5"/>
<rect x="516.1" y="921.7" width="41.2" height="2.2" fill="#fcbaa0"/>
<rect x="189.2" y="923.7" width="41.2" height="2.2" fill="#fc9373"/>
<rect x="230.1" y="923.7" width="41.2" height="2.2" fill="#f24633"/>
<rect x="270.9" y="923.7" width="41.2" height="2.2" fill="#fcbea5"/>
<rect x="311.8" y="923.7" width="41.2" height="2.2" fill="#fdd0bd"/>
<rect x="352.7" y="923.7" width="41.2" height="2.2" fill="#ffede4"/>
<rect x="393.5" y="923.7" width="41.2" height="2.2" fill="#fee0d2"/>
<rect x="434.4" y="923.7" width="41.2" height="2.2" fill="#fed7c6"/>
<rect x="475.3" y="923.7" width="41.2" height="2.2" fill="#fdc8b3"/>
<rect x="516.1" y="923.7" width="41.2" height="2.2" fill="#fcac90"/>
<rect x="230.1" y="925.7" width="41.2" height="1.4" fill="#fcbca2"/>
<rect x="270.9" y="925.7" width="41.2" height="1.4" fill="#fee3d7"/>
<rect x="311.8" y="925.7" width="41.2" height="1.4" fill="#ffeee7"/>
<rect x="352.7" y="925.7" width="41.2" height="1.4" fill="#ffefe7"/>
<rect x="393.5" y="925.7" width="41.2" height="1.4" fill="#fee6da"/>
<rect x="434.4" y="925.7" width="41.2" height="1.4" fill="#fee5d8"/>
<rect x="475.3" y="925.7" width="41.2" height="1.4" fill="#fee1d3"/>
<rect x="516.1" y="925.7" width="41.2" height="1.4" fill="#fdd3c0"/>
<rect x="189.2" y="926.9" width="41.2" height="0.9" fill="#feeae0"/>
<rect x="230.1" y="926.9" width="41.2" height="0.9" fill="#fed9c8"/>
<rect x="270.9" y="926.9" width="41.2" height="0.9" fill="#ffebe1"/>
<rect x="311.8" y="926.9" width="41.2" height="0.9" fill="#fee8de"/>
<rect x="393.5" y="926.9" width="41.2" height="0.9" fill="#ffebe2"/>
<rect x="434.4" y="926.9" width="41.2" height="0.9" fill="#feddce"/>
<rect x="475.3" y="926.9" width="41.2" height="0.9" fill="#fdd6c5"/>
<rect x="516.1" y="926.9" width="41.2" height="0.9" fill="#fc9c7d"/>
<rect x="189.2" y="927.6" width="41.2" height="2.2" fill="#fee6db"/>
<rect x="230.1" y="927.6" width="41.2" height="2.2" fill="#fcc4ac"/>
<rect x="270.9" y="927.6" width="41.2" height="2.2" fill="#fedfd1"/>
<rect x="311.8" y="927.6" width="41.2" height="2.2" fill="#fdcab4"/>
<rect x="352.7" y="927.6" width="41.2" height="2.2" fill="#ffede5"/>
<rect x="393.5" y="927.6" width="41.2" height="2.2" fill="#fed8c8"/>
<rect x="434.4" y="927.6" width="41.2" height="2.2" fill="#fee6da"/>
<rect x="475.3" y="927.6" width="41.2" height="2.2" fill="#fdccb8"/>
<rect x="516.1" y="927.6" width="41.2" height="2.2" fill="#fed8c8"/>
<rect x="189.2" y="929.6" width="41.2" height="1.6" fill="#fee3d6"/>
<rect x="230.1" y="929.6" width="41.2" height="1.6" fill="#fee5d9"/>
<rect x="270.9" y="929.6" width="41.2" height="1.6" fill="#fee9e0"/>
<rect x="311.8" y="929.6" width="41.2" height="1.6" fill="#fee0d2"/>
<rect x="352.7" y="929.6" width="41.2" height="1.6" fill="#ffece3"/>
<rect x="393.5" y="929.6" width="41.2" height="1.6" fill="#fee1d4"/>
<rect x="434.4" y="929.6" width="41.2" height="1.6" fill="#ffece4"/>
<rect x="475.3" y="929.6" width="41.2" height="1.6" fill="#feeae0"/>
<rect x="516.1" y="929.6" width="41.2" height="1.6" fill="#fee8de"/>
<rect x="189.2" y="931.0" width="41.2" height="1.8" fill="#fee9df"/>
<rect x="230.1" y="931.0" width="41.2" height="1.8" fill="#fc9070"/>
<rect x="270.9" y="931.0" width="41.2" height="1.8" fill="#fdd6c4"/>
<rect x="311.8" y="931.0" width="41.2" height="1.8" fill="#fee8dd"/>
<rect x="393.5" y="931.0" width="41.2" height="1.8" fill="#ffebe2"/>
<rect x="434.4" y="931.0" width="41.2" height="1.8" fill="#fedfd1"/>
<rect x="475.3" y="931.0" width="41.2" height="1.8" fill="#fdc4ad"/>
<rect x="516.1" y="931.0" width="41.2" height="1.8" fill="#fedbcc"/>
<rect x="189.2" y="932.6" width="41.2" height="2.6" fill="#fee3d7"/>
<rect x="230.1" y="932.6" width="41.2" height="2.6" fill="#fcc2ab"/>
<rect x="270.9" y="932.6" width="41.2" height="2.6" fill="#fedbcb"/>
<rect x="311.8" y="932.6" width="41.2" height="2.6" fill="#fedfd1"/>
<rect x="352.7" y="932.6" width="41.2" height="2.6" fill="#ffefe7"/>
<rect x="393.5" y="932.6" width="41.2" height="2.6" fill="#fee6da"/>
<rect x="434.4" y="932.6" width="41.2" height="2.6" fill="#fee8dd"/>
<rect x="475.3" y="932.6" width="41.2" height="2.6" fill="#fee7db"/>
<rect x="516.1" y="932.6" width="41.2" height="2.6" fill="#fee1d3"/>
<rect x="189.2" y="935.0" width="41.2" height="2.6" fill="#fcb99f"/>
<rect x="230.1" y="935.0" width="41.2" height="2.6" fill="#f5523b"/>
<rect x="270.9" y="935.0" width="41.2" height="2.6" fill="#ffede4"/>
<rect x="311.8" y="935.0" width="41.2" height="2.6" fill="#fb7656"/>
<rect x="352.7" y="935.0" width="41.2" height="2.6" fill="#fedfd1"/>
<rect x="393.5" y="935.0" width="41.2" height="2.6" fill="#fee8dd"/>
<rect x="434.4" y="935.0" width="41.2" height="2.6" fill="#ffebe2"/>
<rect x="475.3" y="935.0" width="41.2" height="2.6" fill="#ffebe2"/>
<rect x="516.1" y="935.0" width="41.2" height="2.6" fill="#fedbcc"/>
<rect x="189.2" y="937.4" width="41.2" height="1.4" fill="#fed8c7"/>
<rect x="230.1" y="937.4" width="41.2" height="1.4" fill="#fee2d5"/>
<rect x="270.9" y="937.4" width="41.2" height="1.4" fill="#fedccd"/>
<rect x="311.8" y="937.4" width="41.2" height="1.4" fill="#fdd1be"/>
<rect x="352.7" y="937.4" width="41.2" height="1.4" fill="#ffede5"/>
<rect x="393.5" y="937.4" width="41.2" height="1.4" fill="#fdd6c5"/>
<rect x="434.4" y="937.4" width="41.2" height="1.4" fill="#fee5da"/>
<rect x="475.3" y="937.4" width="41.2" height="1.4" fill="#fee2d5"/>
<rect x="516.1" y="937.4" width="41.2" height="1.4" fill="#fedaca"/>
<rect x="189.2" y="938.6" width="41.2" height="3.2" fill="#ffefe8"/>
<rect x="230.1" y="938.6" width="41.2" height="3.2" fill="#fee2d4"/>
<rect x="270.9" y="938.6" width="41.2" height="3.2" fill="#fee6da"/>
<rect x="311.8" y="938.6" width="41.2" height="3.2" fill="#fcc2aa"/>
<rect x="352.7" y="938.6" width="41.2" height="3.2" fill="#ffece3"/>
<rect x="393.5" y="938.6" width="41.2" height="3.2" fill="#fee0d2"/>
<rect x="434.4" y="938.6" width="41.2" height="3.2" fill="#ffebe2"/>
<rect x="475.3" y="938.6" width="41.2" height="3.2" fill="#ffefe7"/>
<rect x="516.1" y="938.6" width="41.2" height="3.2" fill="#fca284"/>
<rect x="189.2" y="941.6" width="41.2" height="1.6" fill="#fee0d3"/>
<rect x="230.1" y="941.6" width="41.2" height="1.6" fill="#fedecf"/>
<rect x="270.9" y="941.6" width="41.2" height="1.6" fill="#fee6da"/>
<rect x="311.8" y="941.6" width="41.2" height="1.6" fill="#fcbfa7"/>
<rect x="352.7" y="941.6" width="41.2" height="1.6" fill="#ffece3"/>
<rect x="393.5" y="941.6" width="41.2" height="1.6" fill="#fedccc"/>
<rect x="434.4" y="941.6" width="41.2" height="1.6" fill="#fee7dc"/>
<rect x="475.3" y="941.6" width="41.2" height="1.6" fill="#fee9df"/>
<rect x="516.1" y="941.6" width="41.2" height="1.6" fill="#fee3d6"/>
<rect x="189.2" y="943.0" width="41.2" height="1.6" fill="#fcb99e"/>
<rect x="230.1" y="943.0" width="41.2" height="1.6" fill="#fcbca2"/>
<rect x="270.9" y="943.0" width="41.2" height="1.6" fill="#ffede5"/>
<rect x="311.8" y="943.0" width="41.2" height="1.6" fill="#fee5d9"/>
<rect x="393.5" y="943.0" width="41.2" height="1.6" fill="#fee0d2"/>
<rect x="434.4" y="943.0" width="41.2" height="1.6" fill="#ffece2"/>
<rect x="475.3" y="943.0" width="41.2" height="1.6" fill="#fee3d6"/>
<rect x="516.1" y="943.0" width="41.2" height="1.6" fill="#fee6da"/>
<rect x="189.2" y="944.4" width="41.2" height="1.4" fill="#fedaca"/>
<rect x="230.1" y="944.4" width="41.2" height="1.4" fill="#fdcab5"/>
<rect x="270.9" y="944.4" width="41.2" height="1.4" fill="#fee3d7"/>
<rect x="311.8" y="944.4" width="41.2" height="1.4" fill="#fdd2bf"/>
<rect x="393.5" y="944.4" width="41.2" height="1.4" fill="#feddce"/>
<rect x="434.4" y="944.4" width="41.2" height="1.4" fill="#ffede5"/>
<rect x="475.3" y="944.4" width="41.2" height="1.4" fill="#fee7dc"/>
<rect x="516.1" y="944.4" width="41.2" height="1.4" fill="#fee7dc"/>
<rect x="189.2" y="945.6" width="41.2" height="1.4" fill="#fee6da"/>
<rect x="230.1" y="945.6" width="41.2" height="1.4" fill="#fedccd"/>
<rect x="270.9" y="945.6" width="41.2" height="1.4" fill="#fee5d9"/>
<rect x="311.8" y="945.6" width="41.2" height="1.4" fill="#fdd5c4"/>
<rect x="393.5" y="945.6" width="41.2" height="1.4" fill="#fee5d9"/>
<rect x="434.4" y="945.6" width="41.2" height="1.4" fill="#fee4d8"/>
<rect x="475.3" y="945.6" width="41.2" height="1.4" fill="#fedfd1"/>
<rect x="516.1" y="945.6" width="41.2" height="1.4" fill="#fdd2c0"/>
<rect x="189.2" y="946.8" width="41.2" height="1.6" fill="#fee6db"/>
<rect x="230.1" y="946.8" width="41.2" height="1.6" fill="#fedaca"/>
<rect x="270.9" y="946.8" width="41.2" height="1.6" fill="#fee4d8"/>
<rect x="311.8" y="946.8" width="41.2" height="1.6" fill="#fee2d5"/>
<rect x="393.5" y="946.8" width="41.2" height="1.6" fill="#feeae1"/>
<rect x="475.3" y="946.8" width="41.2" height="1.6" fill="#fdd2c0"/>
<rect x="516.1" y="946.8" width="41.2" height="1.6" fill="#fee1d3"/>
<rect x="189.2" y="948.2" width="41.2" height="1.6" fill="#fee8de"/>
<rect x="230.1" y="948.2" width="41.2" height="1.6" fill="#fee3d6"/>
<rect x="270.9" y="948.2" width="41.2" height="1.6" fill="#fee5da"/>
<rect x="311.8" y="948.2" width="41.2" height="1.6" fill="#fcc1a8"/>
<rect x="393.5" y="948.2" width="41.2" height="1.6" fill="#fee2d5"/>
<rect x="475.3" y="948.2" width="41.2" height="1.6" fill="#ffece3"/>
<rect x="516.1" y="948.2" width="41.2" height="1.6" fill="#fee9df"/>
<rect x="189.2" y="949.6" width="41.2" height="1.4" fill="#fedaca"/>
<rect x="230.1" y="949.6" width="41.2" height="1.4" fill="#fdc8b3"/>
<rect x="270.9" y="949.6" width="41.2" height="1.4" fill="#fdd7c6"/>
<rect x="311.8" y="949.6" width="41.2" height="1.4" fill="#fcbca2"/>
<rect x="352.7" y="949.6" width="41.2" height="1.4" fill="#ffede4"/>
<rect x="393.5" y="949.6" width="41.2" height="1.4" fill="#fedccd"/>
<rect x="434.4" y="949.6" width="41.2" height="1.4" fill="#fee4d8"/>
<rect x="475.3" y="949.6" width="41.2" height="1.4" fill="#fcbfa7"/>
<rect x="516.1" y="949.6" width="41.2" height="1.4" fill="#fcbaa0"/>
<rect x="189.2" y="950.8" width="41.2" height="1.8" fill="#ffefe7"/>
<rect x="230.1" y="950.8" width="41.2" height="1.8" fill="#fcb297"/>
<rect x="270.9" y="950.8" width="41.2" height="1.8" fill="#fedfd1"/>
<rect x="311.8" y="950.8" width="41.2" height="1.8" fill="#fee6db"/>
<rect x="352.7" y="950.8" width="41.2" height="1.8" fill="#ffeee6"/>
<rect x="393.5" y="950.8" width="41.2" height="1.8" fill="#fee3d6"/>
<rect x="434.4" y="950.8" width="41.2" height="1.8" fill="#feeae0"/>
<rect x="475.3" y="950.8" width="41.2" height="1.8" fill="#fee9df"/>
<rect x="516.1" y="950.8" width="41.2" height="1.8" fill="#fee9df"/>
<rect x="189.2" y="952.4" width="41.2" height="2.2" fill="#fdd0bd"/>
<rect x="230.1" y="952.4" width="41.2" height="2.2" fill="#fcbea5"/>
<rect x="270.9" y="952.4" width="41.2" height="2.2" fill="#fcbaa0"/>
<rect x="311.8" y="952.4" width="41.2" height="2.2" fill="#fee2d4"/>
<rect x="393.5" y="952.4" width="41.2" height="2.2" fill="#fedfd0"/>
<rect x="475.3" y="952.4" width="41.2" height="2.2" fill="#fee2d4"/>
<rect x="516.1" y="952.4" width="41.2" height="2.2" fill="#fee1d3"/>
<rect x="189.2" y="954.4" width="41.2" height="1.8" fill="#ffefe7"/>
<rect x="230.1" y="954.4" width="41.2" height="1.8" fill="#fcc4ad"/>
<rect x="270.9" y="954.4" width="41.2" height="1.8" fill="#fee2d5"/>
<rect x="311.8" y="954.4" width="41.2" height="1.8" fill="#fc8565"/>
<rect x="393.5" y="954.4" width="41.2" height="1.8" fill="#fdd0bd"/>
<rect x="434.4" y="954.4" width="41.2" height="1.8" fill="#fee2d4"/>
<rect x="475.3" y="954.4" width="41.2" height="1.8" fill="#fedaca"/>
<rect x="516.1" y="954.4" width="41.2" height="1.8" fill="#fdc9b4"/>
<rect x="189.2" y="956.0" width="41.2" height="2.2" fill="#fdc9b4"/>
<rect x="230.1" y="956.0" width="41.2" height="2.2" fill="#fc8969"/>
<rect x="270.9" y="956.0" width="41.2" height="2.2" fill="#fcc4ac"/>
<rect x="311.8" y="956.0" width="41.2" height="2.2" fill="#fcb499"/>
<rect x="352.7" y="956.0" width="41.2" height="2.2" fill="#fee8dd"/>
<rect x="393.5" y="956.0" width="41.2" height="2.2" fill="#fdcbb6"/>
<rect x="434.4" y="956.0" width="41.2" height="2.2" fill="#fdc8b2"/>
<rect x="475.3" y="956.0" width="41.2" height="2.2" fill="#fcab8f"/>
<rect x="516.1" y="956.0" width="41.2" height="2.2" fill="#fedbcb"/>
<rect x="189.2" y="958.0" width="41.2" height="1.8" fill="#ffede4"/>
<rect x="230.1" y="958.0" width="41.2" height="1.8" fill="#fc9878"/>
<rect x="270.9" y="958.0" width="41.2" height="1.8" fill="#feeae0"/>
<rect x="311.8" y="958.0" width="41.2" height="1.8" fill="#fcc2ab"/>
<rect x="352.7" y="958.0" width="41.2" height="1.8" fill="#ffeee6"/>
<rect x="393.5" y="958.0" width="41.2" height="1.8" fill="#feeae0"/>
<rect x="475.3" y="958.0" width="41.2" height="1.8" fill="#ffece3"/>
<rect x="516.1" y="958.0" width="41.2" height="1.8" fill="#ffece3"/>
<rect x="189.2" y="959.6" width="41.2" height="2.2" fill="#fdd2c0"/>
<rect x="230.1" y="959.6" width="41.2" height="2.2" fill="#fcc1a9"/>
<rect x="270.9" y="959.6" width="41.2" height="2.2" fill="#fedfd1"/>
<rect x="311.8" y="959.6" width="41.2" height="2.2" fill="#fdd4c3"/>
<rect x="352.7" y="959.6" width="41.2" height="2.2" fill="#feeae1"/>
<rect x="393.5" y="959.6" width="41.2" height="2.2" fill="#fedfd0"/>
<rect x="434.4" y="959.6" width="41.2" height="2.2" fill="#ffeee6"/>
<rect x="475.3" y="959.6" width="41.2" height="2.2" fill="#ffebe2"/>
<rect x="516.1" y="959.6" width="41.2" height="2.2" fill="#ffebe2"/>
<rect x="189.2" y="961.6" width="41.2" height="2.6" fill="#fee4d8"/>
<rect x="230.1" y="961.6" width="41.2" height="2.6" fill="#fed7c6"/>
<rect x="270.9" y="961.6" width="41.2" height="2.6" fill="#fee0d1"/>
<rect x="311.8" y="961.6" width="41.2" height="2.6" fill="#ffede4"/>
<rect x="393.5" y="961.6" width="41.2" height="2.6" fill="#fee5d9"/>
<rect x="434.4" y="961.6" width="41.2" height="2.6" fill="#fee5d9"/>
<rect x="475.3" y="961.6" width="41.2" height="2.6" fill="#fee4d7"/>
<rect x="516.1" y="961.6" width="41.2" height="2.6" fill="#fdd4c2"/>
<rect x="189.2" y="964.0" width="41.2" height="2.2" fill="#fdccb7"/>
<rect x="230.1" y="964.0" width="41.2" height="2.2" fill="#fc9373"/>
<rect x="270.9" y="964.0" width="41.2" height="2.2" fill="#fca183"/>
<rect x="311.8" y="964.0" width="41.2" height="2.2" fill="#fcb398"/>
<rect x="393.5" y="964.0" width="41.2" height="2.2" fill="#fdd2c0"/>
<rect x="434.4" y="964.0" width="41.2" height="2.2" fill="#fee9e0"/>
<rect x="475.3" y="964.0" width="41.2" height="2.2" fill="#fee4d8"/>
<rect x="516.1" y="964.0" width="41.2" height="2.2" fill="#fee2d5"/>
<rect x="189.2" y="966.0" width="41.2" height="1.8" fill="#fee1d3"/>
<rect x="230.1" y="966.0" width="41.2" height="1.8" fill="#fedbcb"/>
<rect x="270.9" y="966.0" width="41.2" height="1.8" fill="#fee5d9"/>
<rect x="311.8" y="966.0" width="41.2" height="1.8" fill="#fca88b"/>
<rect x="352.7" y="966.0" width="41.2" height="1.8" fill="#ffede4"/>
<rect x="393.5" y="966.0" width="41.2" height="1.8" fill="#fcbfa6"/>
<rect x="475.3" y="966.0" width="41.2" height="1.8" fill="#ffede5"/>
<rect x="516.1" y="966.0" width="41.2" height="1.8" fill="#fdc7b0"/>
<rect x="189.2" y="967.6" width="41.2" height="1.6" fill="#fee3d6"/>
<rect x="230.1" y="967.6" width="41.2" height="1.6" fill="#fdd0bd"/>
<rect x="270.9" y="967.6" width="41.2" height="1.6" fill="#fee6da"/>
<rect x="311.8" y="967.6" width="41.2" height="1.6" fill="#fcc2ab"/>
<rect x="352.7" y="967.6" width="41.2" height="1.6" fill="#ffefe7"/>
<rect x="393.5" y="967.6" width="41.2" height="1.6" fill="#fee7dd"/>
<rect x="475.3" y="967.6" width="41.2" height="1.6" fill="#ffebe1"/>
<rect x="516.1" y="967.6" width="41.2" height="1.6" fill="#fee9df"/>
<rect x="189.2" y="969.0" width="41.2" height="1.8" fill="#fee7db"/>
<rect x="230.1" y="969.0" width="41.2" height="1.8" fill="#fedfd1"/>
<rect x="270.9" y="969.0" width="41.2" height="1.8" fill="#fee8dd"/>
<rect x="311.8" y="969.0" width="41.2" height="1.8" fill="#fee1d4"/>
<rect x="393.5" y="969.0" width="41.2" height="1.8" fill="#feeae0"/>
<rect x="434.4" y="969.0" width="41.2" height="1.8" fill="#ffebe2"/>
<rect x="475.3" y="969.0" width="41.2" height="1.8" fill="#ffebe2"/>
<rect x="516.1" y="969.0" width="41.2" height="1.8" fill="#fee5d9"/>
<rect x="189.2" y="970.6" width="41.2" height="1.4" fill="#fc9778"/>
<rect x="230.1" y="970.6" width="41.2" height="1.4" fill="#fc9c7e"/>
<rect x="270.9" y="970.6" width="41.2" height="1.4" fill="#fdcab5"/>
<rect x="311.8" y="970.6" width="41.2" height="1.4" fill="#fb7757"/>
<rect x="352.7" y="970.6" width="41.2" height="1.4" fill="#fee1d3"/>
<rect x="393.5" y="970.6" width="41.2" height="1.4" fill="#fdc7b1"/>
<rect x="434.4" y="970.6" width="41.2" height="1.4" fill="#ffeee5"/>
<rect x="475.3" y="970.6" width="41.2" height="1.4" fill="#ffebe2"/>
<rect x="516.1" y="970.6" width="41.2" height="1.4" fill="#ffebe1"/>
<rect x="189.2" y="971.8" width="41.2" height="2.2" fill="#ffebe2"/>
<rect x="230.1" y="971.8" width="41.2" height="2.2" fill="#fee8de"/>
<rect x="270.9" y="971.8" width="41.2" height="2.2" fill="#feeae1"/>
<rect x="311.8" y="971.8" width="41.2" height="2.2" fill="#fed9c9"/>
<rect x="352.7" y="971.8" width="41.2" height="2.2" fill="#ffeee6"/>
<rect x="393.5" y="971.8" width="41.2" height="2.2" fill="#fee9de"/>
<rect x="434.4" y="971.8" width="41.2" height="2.2" fill="#ffebe2"/>
<rect x="475.3" y="971.8" width="41.2" height="2.2" fill="#fee5da"/>
<rect x="516.1" y="971.8" width="41.2" height="2.2" fill="#fee2d5"/>
<rect x="189.2" y="973.8" width="41.2" height="2.6" fill="#fdc6b0"/>
<rect x="230.1" y="973.8" width="41.2" height="2.6" fill="#fee5d8"/>
<rect x="270.9" y="973.8" width="41.2" height="2.6" fill="#fdcbb7"/>
<rect x="311.8" y="973.8" width="41.2" height="2.6" fill="#ffefe7"/>
<rect x="393.5" y="973.8" width="41.2" height="2.6" fill="#feeae1"/>
<rect x="434.4" y="973.8" width="41.2" height="2.6" fill="#fee4d8"/>
<rect x="475.3" y="973.8" width="41.2" height="2.6" fill="#ffede4"/>
<rect x="516.1" y="973.8" width="41.2" height="2.6" fill="#ffece3"/>
<rect x="189.2" y="976.2" width="41.2" height="1.6" fill="#fedaca"/>
<rect x="230.1" y="976.2" width="41.2" height="1.6" fill="#fdc5ae"/>
<rect x="270.9" y="976.2" width="41.2" height="1.6" fill="#fedfd0"/>
<rect x="311.8" y="976.2" width="41.2" height="1.6" fill="#fdcab5"/>
<rect x="352.7" y="976.2" width="41.2" height="1.6" fill="#ffede5"/>
<rect x="393.5" y="976.2" width="41.2" height="1.6" fill="#fedfd1"/>
<rect x="434.4" y="976.2" width="41.2" height="1.6" fill="#feeae0"/>
<rect x="516.1" y="976.2" width="41.2" height="1.6" fill="#fee4d8"/>
<rect x="230.1" y="977.6" width="41.2" height="2.6" fill="#feeae1"/>
<rect x="311.8" y="977.6" width="41.2" height="2.6" fill="#ffece3"/>
<rect x="434.4" y="977.6" width="41.2" height="2.6" fill="#fca486"/>
<rect x="475.3" y="977.6" width="41.2" height="2.6" fill="#fca183"/>
<rect x="516.1" y="977.6" width="41.2" height="2.6" fill="#fcad91"/>
<rect x="230.1" y="980.0" width="41.2" height="2.2" fill="#ffede5"/>
<rect x="311.8" y="980.0" width="41.2" height="2.2" fill="#ffece4"/>
<rect x="434.4" y="980.0" width="41.2" height="2.2" fill="#fb7050"/>
<rect x="475.3" y="980.0" width="41.2" height="2.2" fill="#f03f2f"/>
<rect x="516.1" y="980.0" width="41.2" height="2.2" fill="#cd1a1e"/>
<rect x="230.1" y="982.0" width="41.2" height="3.2" fill="#ffefe7"/>
<rect x="311.8" y="982.0" width="41.2" height="3.2" fill="#fee9e0"/>
<rect x="393.5" y="982.0" width="41.2" height="3.2" fill="#ffeee7"/>
<rect x="434.4" y="982.0" width="41.2" height="3.2" fill="#fed7c6"/>
<rect x="475.3" y="982.0" width="41.2" height="3.2" fill="#fb6849"/>
<rect x="516.1" y="982.0" width="41.2" height="3.2" fill="#fc9575"/>
<rect x="311.8" y="985.0" width="41.2" height="1.8" fill="#fee8dd"/>
<rect x="352.7" y="985.0" width="41.2" height="1.8" fill="#ffeee6"/>
<rect x="393.5" y="985.0" width="41.2" height="1.8" fill="#ffebe2"/>
<rect x="434.4" y="985.0" width="41.2" height="1.8" fill="#e53128"/>
<rect x="475.3" y="985.0" width="41.2" height="1.8" fill="#fc8464"/>
<rect x="516.1" y="985.0" width="41.2" height="1.8" fill="#fb6f4f"/>
<rect x="230.1" y="986.6" width="41.2" height="1.8" fill="#ffece3"/>
<rect x="311.8" y="986.6" width="41.2" height="1.8" fill="#feeae0"/>
<rect x="434.4" y="986.6" width="41.2" height="1.8" fill="#fdd4c3"/>
<rect x="475.3" y="986.6" width="41.2" height="1.8" fill="#bc141a"/>
<rect x="516.1" y="986.6" width="41.2" height="1.8" fill="#fa6446"/>
<rect x="230.1" y="988.2" width="41.2" height="1.4" fill="#feeae1"/>
<rect x="311.8" y="988.2" width="41.2" height="1.4" fill="#fee9de"/>
<rect x="393.5" y="988.2" width="41.2" height="1.4" fill="#ffece4"/>
<rect x="434.4" y="988.2" width="41.2" height="1.4" fill="#fc8262"/>
<rect x="475.3" y="988.2" width="41.2" height="1.4" fill="#fca88c"/>
<rect x="516.1" y="988.2" width="41.2" height="1.4" fill="#fc8a6a"/>
<rect x="230.1" y="989.4" width="41.2" height="2.6" fill="#feeae1"/>
<rect x="270.9" y="989.4" width="41.2" height="2.6" fill="#fee6db"/>
<rect x="311.8" y="989.4" width="41.2" height="2.6" fill="#fee2d5"/>
<rect x="352.7" y="989.4" width="41.2" height="2.6" fill="#fee9df"/>
<rect x="393.5" y="989.4" width="41.2" height="2.6" fill="#ffeee6"/>
<rect x="434.4" y="989.4" width="41.2" height="2.6" fill="#bc141a"/>
<rect x="475.3" y="989.4" width="41.2" height="2.6" fill="#f34a36"/>
<rect x="516.1" y="989.4" width="41.2" height="2.6" fill="#fb7252"/>
<rect x="230.1" y="991.8" width="41.2" height="2.2" fill="#ffebe2"/>
<rect x="311.8" y="991.8" width="41.2" height="2.2" fill="#feeae1"/>
<rect x="434.4" y="991.8" width="41.2" height="2.2" fill="#d32020"/>
<rect x="475.3" y="991.8" width="41.2" height="2.2" fill="#bc141a"/>
<rect x="516.1" y="991.8" width="41.2" height="2.2" fill="#bc141a"/>
<rect x="230.1" y="993.8" width="41.2" height="2.2" fill="#ffeee6"/>
<rect x="311.8" y="993.8" width="41.2" height="2.2" fill="#ffebe2"/>
<rect x="352.7" y="993.8" width="41.2" height="2.2" fill="#ffeee6"/>
<rect x="393.5" y="993.8" width="41.2" height="2.2" fill="#ffede4"/>
<rect x="434.4" y="993.8" width="41.2" height="2.2" fill="#dc2824"/>
<rect x="475.3" y="993.8" width="41.2" height="2.2" fill="#f24733"/>
<rect x="516.1" y="993.8" width="41.2" height="2.2" fill="#fa6547"/>
<rect x="311.8" y="995.8" width="41.2" height="3.2" fill="#ffede5"/>
<rect x="393.5" y="995.8" width="41.2" height="3.2" fill="#ffeee6"/>
<rect x="434.4" y="995.8" width="41.2" height="3.2" fill="#ea362a"/>
<rect x="475.3" y="995.8" width="41.2" height="3.2" fill="#fc9575"/>
<rect x="516.1" y="995.8" width="41.2" height="3.2" fill="#fc8969"/>
<rect x="434.4" y="998.8" width="41.2" height="3.2" fill="#fca98c"/>
<rect x="475.3" y="998.8" width="41.2" height="3.2" fill="#fca184"/>
<rect x="516.1" y="998.8" width="41.2" height="3.2" fill="#fc9d7f"/>
<rect x="230.1" y="1001.8" width="41.2" height="1.6" fill="#ffede5"/>
<rect x="311.8" y="1001.8" width="41.2" height="1.6" fill="#fee6da"/>
<rect x="352.7" y="1001.8" width="41.2" height="1.6" fill="#ffeee5"/>
<rect x="393.5" y="1001.8" width="41.2" height="1.6" fill="#ffebe2"/>
<rect x="434.4" y="1001.8" width="41.2" height="1.6" fill="#fb7353"/>
<rect x="475.3" y="1001.8" width="41.2" height="1.6" fill="#e63328"/>
<rect x="516.1" y="1001.8" width="41.2" height="1.6" fill="#f04030"/>
<rect x="311.8" y="1003.2" width="41.2" height="1.6" fill="#ffebe1"/>
<rect x="434.4" y="1003.2" width="41.2" height="1.6" fill="#fc8e6e"/>
<rect x="475.3" y="1003.2" width="41.2" height="1.6" fill="#f24633"/>
<rect x="516.1" y="1003.2" width="41.2" height="1.6" fill="#fc9e80"/>
<rect x="230.1" y="1004.6" width="41.2" height="1.6" fill="#fee8dd"/>
<rect x="270.9" y="1004.6" width="41.2" height="1.6" fill="#feeae0"/>
<rect x="311.8" y="1004.6" width="41.2" height="1.6" fill="#ffece4"/>
<rect x="434.4" y="1004.6" width="41.2" height="1.6" fill="#f75a40"/>
<rect x="475.3" y="1004.6" width="41.2" height="1.6" fill="#fdd5c4"/>
<rect x="516.1" y="1004.6" width="41.2" height="1.6" fill="#f85d42"/>
<rect x="311.8" y="1006.0" width="41.2" height="2.2" fill="#ffede4"/>
<rect x="434.4" y="1006.0" width="41.2" height="2.2" fill="#f75c41"/>
<rect x="475.3" y="1006.0" width="41.2" height="2.2" fill="#fdd4c2"/>
<rect x="516.1" y="1006.0" width="41.2" height="2.2" fill="#e53128"/>
<rect x="230.1" y="1008.0" width="41.2" height="2.6" fill="#ffebe2"/>
<rect x="270.9" y="1008.0" width="41.2" height="2.6" fill="#ffeee6"/>
<rect x="311.8" y="1008.0" width="41.2" height="2.6" fill="#fee6db"/>
<rect x="393.5" y="1008.0" width="41.2" height="2.6" fill="#ffede4"/>
<rect x="434.4" y="1008.0" width="41.2" height="2.6" fill="#fb7858"/>
<rect x="475.3" y="1008.0" width="41.2" height="2.6" fill="#fcb196"/>
<rect x="516.1" y="1008.0" width="41.2" height="2.6" fill="#fc9272"/>
<rect x="230.1" y="1010.4" width="41.2" height="1.8" fill="#ffebe2"/>
<rect x="270.9" y="1010.4" width="41.2" height="1.8" fill="#ffeee6"/>
<rect x="311.8" y="1010.4" width="41.2" height="1.8" fill="#feeae1"/>
<rect x="434.4" y="1010.4" width="41.2" height="1.8" fill="#bc141a"/>
<rect x="475.3" y="1010.4" width="41.2" height="1.8" fill="#fc997a"/>
<rect x="516.1" y="1010.4" width="41.2" height="1.8" fill="#eb372a"/>
<rect x="230.1" y="1012.0" width="41.2" height="1.8" fill="#ffeee6"/>
<rect x="311.8" y="1012.0" width="41.2" height="1.8" fill="#fee9de"/>
<rect x="434.4" y="1012.0" width="41.2" height="1.8" fill="#fc997a"/>
<rect x="475.3" y="1012.0" width="41.2" height="1.8" fill="#fc9e80"/>
<rect x="516.1" y="1012.0" width="41.2" height="1.8" fill="#fc997a"/>
<rect x="434.4" y="1013.6" width="41.2" height="1.6" fill="#f03e2e"/>
<rect x="475.3" y="1013.6" width="41.2" height="1.6" fill="#fc9d7e"/>
<rect x="516.1" y="1013.6" width="41.2" height="1.6" fill="#fca386"/>
<rect x="230.1" y="1015.0" width="41.2" height="1.6" fill="#ffebe1"/>
<rect x="311.8" y="1015.0" width="41.2" height="1.6" fill="#feeae0"/>
<rect x="352.7" y="1015.0" width="41.2" height="1.6" fill="#ffefe7"/>
<rect x="434.4" y="1015.0" width="41.2" height="1.6" fill="#fedfd0"/>
<rect x="475.3" y="1015.0" width="41.2" height="1.6" fill="#fb7c5c"/>
<rect x="516.1" y="1015.0" width="41.2" height="1.6" fill="#fb7050"/>
<rect x="230.1" y="1016.4" width="41.2" height="3.2" fill="#ffeee6"/>
<rect x="311.8" y="1016.4" width="41.2" height="3.2" fill="#ffece3"/>
<rect x="393.5" y="1016.4" width="41.2" height="3.2" fill="#ffeee6"/>
<rect x="434.4" y="1016.4" width="41.2" height="3.2" fill="#f03d2d"/>
<rect x="475.3" y="1016.4" width="41.2" height="3.2" fill="#fdd0bd"/>
<rect x="516.1" y="1016.4" width="41.2" height="3.2" fill="#fb7b5b"/>
<rect x="311.8" y="1019.4" width="41.2" height="2.6" fill="#fee5d9"/>
<rect x="393.5" y="1019.4" width="41.2" height="2.6" fill="#ffece4"/>
<rect x="434.4" y="1019.4" width="41.2" height="2.6" fill="#fc8565"/>
<rect x="475.3" y="1019.4" width="41.2" height="2.6" fill="#f7593f"/>
<rect x="516.1" y="1019.4" width="41.2" height="2.6" fill="#fedaca"/>
<rect x="311.8" y="1021.8" width="41.2" height="1.6" fill="#fee8de"/>
<rect x="352.7" y="1021.8" width="41.2" height="1.6" fill="#ffede5"/>
<rect x="393.5" y="1021.8" width="41.2" height="1.6" fill="#ffeee6"/>
<rect x="434.4" y="1021.8" width="41.2" height="1.6" fill="#fc9273"/>
<rect x="475.3" y="1021.8" width="41.2" height="1.6" fill="#fcaf93"/>
<rect x="516.1" y="1021.8" width="41.2" height="1.6" fill="#dd2a25"/>
<rect x="230.1" y="1023.2" width="41.2" height="1.6" fill="#ffece4"/>
<rect x="311.8" y="1023.2" width="41.2" height="1.6" fill="#fee5d9"/>
<rect x="352.7" y="1023.2" width="41.2" height="1.6" fill="#ffeee5"/>
<rect x="393.5" y="1023.2" width="41.2" height="1.6" fill="#ffeee5"/>
<rect x="434.4" y="1023.2" width="41.2" height="1.6" fill="#f14532"/>
<rect x="475.3" y="1023.2" width="41.2" height="1.6" fill="#f34a36"/>
<rect x="516.1" y="1023.2" width="41.2" height="1.6" fill="#f34a35"/>
<rect x="230.1" y="1024.6" width="41.2" height="2.2" fill="#fee9e0"/>
<rect x="311.8" y="1024.6" width="41.2" height="2.2" fill="#fee7dc"/>
<rect x="352.7" y="1024.6" width="41.2" height="2.2" fill="#ffeee5"/>
<rect x="393.5" y="1024.6" width="41.2" height="2.2" fill="#feeae0"/>
<rect x="434.4" y="1024.6" width="41.2" height="2.2" fill="#f24734"/>
<rect x="475.3" y="1024.6" width="41.2" height="2.2" fill="#f6573e"/>
<rect x="516.1" y="1024.6" width="41.2" height="2.2" fill="#fc8b6b"/>
<rect x="230.1" y="1026.6" width="41.2" height="1.4" fill="#ffebe1"/>
<rect x="311.8" y="1026.6" width="41.2" height="1.4" fill="#ffede4"/>
<rect x="434.4" y="1026.6" width="41.2" height="1.4" fill="#fb6f4f"/>
<rect x="475.3" y="1026.6" width="41.2" height="1.4" fill="#f6573e"/>
<rect x="516.1" y="1026.6" width="41.2" height="1.4" fill="#fb7b5b"/>
<rect x="230.1" y="1027.8" width="41.2" height="2.6" fill="#ffede5"/>
<rect x="311.8" y="1027.8" width="41.2" height="2.6" fill="#fee8dd"/>
<rect x="352.7" y="1027.8" width="41.2" height="2.6" fill="#ffeee6"/>
<rect x="393.5" y="1027.8" width="41.2" height="2.6" fill="#ffebe2"/>
<rect x="434.4" y="1027.8" width="41.2" height="2.6" fill="#fb6949"/>
<rect x="475.3" y="1027.8" width="41.2" height="2.6" fill="#fee5da"/>
<rect x="516.1" y="1027.8" width="41.2" height="2.6" fill="#fc8868"/>
<rect x="230.1" y="1030.2" width="41.2" height="1.6" fill="#ffece4"/>
<rect x="270.9" y="1030.2" width="41.2" height="1.6" fill="#ffeee6"/>
<rect x="311.8" y="1030.2" width="41.2" height="1.6" fill="#feeae1"/>
<rect x="434.4" y="1030.2" width="41.2" height="1.6" fill="#fcbca2"/>
<rect x="475.3" y="1030.2" width="41.2" height="1.6" fill="#fc9879"/>
<rect x="516.1" y="1030.2" width="41.2" height="1.6" fill="#fca98d"/>
<rect x="230.1" y="1031.6" width="41.2" height="1.6" fill="#ffede5"/>
<rect x="311.8" y="1031.6" width="41.2" height="1.6" fill="#ffeee7"/>
<rect x="434.4" y="1031.6" width="41.2" height="1.6" fill="#fdd4c3"/>
<rect x="475.3" y="1031.6" width="41.2" height="1.6" fill="#f24734"/>
<rect x="516.1" y="1031.6" width="41.2" height="1.6" fill="#f34a36"/>
<rect x="230.1" y="1033.0" width="41.2" height="2.6" fill="#ffefe7"/>
<rect x="311.8" y="1033.0" width="41.2" height="2.6" fill="#ffece3"/>
<rect x="434.4" y="1033.0" width="41.2" height="2.6" fill="#bc141a"/>
<rect x="475.3" y="1033.0" width="41.2" height="2.6" fill="#ca181d"/>
<rect x="516.1" y="1033.0" width="41.2" height="2.6" fill="#fa6748"/>
<rect x="230.1" y="1035.4" width="41.2" height="1.8" fill="#ffebe2"/>
<rect x="311.8" y="1035.4" width="41.2" height="1.8" fill="#fee8dd"/>
<rect x="434.4" y="1035.4" width="41.2" height="1.8" fill="#fb7c5c"/>
<rect x="475.3" y="1035.4" width="41.2" height="1.8" fill="#fedbcb"/>
<rect x="516.1" y="1035.4" width="41.2" height="1.8" fill="#fc8d6d"/>
<rect x="311.8" y="1037.0" width="41.2" height="1.6" fill="#fee8dd"/>
<rect x="393.5" y="1037.0" width="41.2" height="1.6" fill="#ffede5"/>
<rect x="434.4" y="1037.0" width="41.2" height="1.6" fill="#e43027"/>
<rect x="475.3" y="1037.0" width="41.2" height="1.6" fill="#f75b41"/>
<rect x="516.1" y="1037.0" width="41.2" height="1.6" fill="#f6563d"/>
<rect x="311.8" y="1038.4" width="41.2" height="1.4" fill="#fee3d7"/>
<rect x="393.5" y="1038.4" width="41.2" height="1.4" fill="#ffede4"/>
<rect x="434.4" y="1038.4" width="41.2" height="1.4" fill="#f14230"/>
<rect x="475.3" y="1038.4" width="41.2" height="1.4" fill="#f96144"/>
<rect x="516.1" y="1038.4" width="41.2" height="1.4" fill="#fcb59a"/>
<rect x="230.1" y="1039.6" width="41.2" height="2.2" fill="#ffece3"/>
<rect x="311.8" y="1039.6" width="41.2" height="2.2" fill="#fee6da"/>
<rect x="434.4" y="1039.6" width="41.2" height="2.2" fill="#f85c41"/>
<rect x="475.3" y="1039.6" width="41.2" height="2.2" fill="#fc8363"/>
<rect x="516.1" y="1039.6" width="41.2" height="2.2" fill="#f6553d"/>
<rect x="230.1" y="1041.6" width="41.2" height="2.2" fill="#fee8de"/>
<rect x="311.8" y="1041.6" width="41.2" height="2.2" fill="#fee7dc"/>
<rect x="352.7" y="1041.6" width="41.2" height="2.2" fill="#ffede5"/>
<rect x="434.4" y="1041.6" width="41.2" height="2.2" fill="#f86043"/>
<rect x="475.3" y="1041.6" width="41.2" height="2.2" fill="#f24834"/>
<rect x="516.1" y="1041.6" width="41.2" height="2.2" fill="#fc997a"/>
<rect x="230.1" y="1043.6" width="41.2" height="1.8" fill="#feeae1"/>
<rect x="270.9" y="1043.6" width="41.2" height="1.8" fill="#ffeee6"/>
<rect x="434.4" y="1043.6" width="41.2" height="1.8" fill="#fb7454"/>
<rect x="475.3" y="1043.6" width="41.2" height="1.8" fill="#fb7757"/>
<rect x="516.1" y="1043.6" width="41.2" height="1.8" fill="#fb6f4f"/>
<rect x="230.1" y="1045.2" width="41.2" height="2.6" fill="#feeae1"/>
<rect x="311.8" y="1045.2" width="41.2" height="2.6" fill="#ffebe1"/>
<rect x="352.7" y="1045.2" width="41.2" height="2.6" fill="#ffefe8"/>
<rect x="393.5" y="1045.2" width="41.2" height="2.6" fill="#ffece4"/>
<rect x="434.4" y="1045.2" width="41.2" height="2.6" fill="#f7593f"/>
<rect x="475.3" y="1045.2" width="41.2" height="2.6" fill="#fdd6c4"/>
<rect x="516.1" y="1045.2" width="41.2" height="2.6" fill="#f6583f"/>
<rect x="311.8" y="1047.6" width="41.2" height="2.6" fill="#ffede4"/>
<rect x="434.4" y="1047.6" width="41.2" height="2.6" fill="#fb6949"/>
<rect x="475.3" y="1047.6" width="41.2" height="2.6" fill="#fc9e80"/>
<rect x="516.1" y="1047.6" width="41.2" height="2.6" fill="#fc9373"/>
<rect x="311.8" y="1050.0" width="41.2" height="1.8" fill="#ffeee6"/>
<rect x="434.4" y="1050.0" width="41.2" height="1.8" fill="#f14130"/>
<rect x="475.3" y="1050.0" width="41.2" height="1.8" fill="#fcb79c"/>
<rect x="516.1" y="1050.0" width="41.2" height="1.8" fill="#bc141a"/>
<rect x="230.1" y="1051.6" width="41.2" height="1.0" fill="#ffece4"/>
<rect x="311.8" y="1051.6" width="41.2" height="1.0" fill="#ffebe1"/>
<rect x="393.5" y="1051.6" width="41.2" height="1.0" fill="#ffefe7"/>
<rect x="434.4" y="1051.6" width="41.2" height="1.0" fill="#bd151a"/>
<rect x="475.3" y="1051.6" width="41.2" height="1.0" fill="#e33027"/>
<rect x="516.1" y="1051.6" width="41.2" height="1.0" fill="#d82422"/>
<rect x="311.8" y="1052.4" width="41.2" height="1.4" fill="#bc141a"/>
<rect x="352.7" y="1052.4" width="41.2" height="1.4" fill="#fb7959"/>
<rect x="393.5" y="1052.4" width="41.2" height="1.4" fill="#f96144"/>
<rect x="434.4" y="1052.4" width="41.2" height="1.4" fill="#fee6db"/>
<rect x="475.3" y="1052.4" width="41.2" height="1.4" fill="#fee8de"/>
<rect x="516.1" y="1052.4" width="41.2" height="1.4" fill="#fee9de"/>
<rect x="230.1" y="1053.6" width="41.2" height="1.6" fill="#feeae1"/>
<rect x="311.8" y="1053.6" width="41.2" height="1.6" fill="#fee1d4"/>
<rect x="352.7" y="1053.6" width="41.2" height="1.6" fill="#f6573e"/>
<rect x="393.5" y="1053.6" width="41.2" height="1.6" fill="#fca689"/>
<rect x="434.4" y="1053.6" width="41.2" height="1.6" fill="#fee4d7"/>
<rect x="475.3" y="1053.6" width="41.2" height="1.6" fill="#fedccd"/>
<rect x="516.1" y="1053.6" width="41.2" height="1.6" fill="#fee3d6"/>
<rect x="230.1" y="1055.0" width="41.2" height="2.6" fill="#ffede4"/>
<rect x="311.8" y="1055.0" width="41.2" height="2.6" fill="#f44e38"/>
<rect x="352.7" y="1055.0" width="41.2" height="2.6" fill="#fc7f5f"/>
<rect x="393.5" y="1055.0" width="41.2" height="2.6" fill="#fcac90"/>
<rect x="475.3" y="1055.0" width="41.2" height="2.6" fill="#fee8dd"/>
<rect x="516.1" y="1055.0" width="41.2" height="2.6" fill="#fee8de"/>
<rect x="230.1" y="1057.4" width="41.2" height="1.4" fill="#fee9df"/>
<rect x="311.8" y="1057.4" width="41.2" height="1.4" fill="#fc9778"/>
<rect x="352.7" y="1057.4" width="41.2" height="1.4" fill="#fc8262"/>
<rect x="393.5" y="1057.4" width="41.2" height="1.4" fill="#fc9e7f"/>
<rect x="434.4" y="1057.4" width="41.2" height="1.4" fill="#fee6da"/>
<rect x="475.3" y="1057.4" width="41.2" height="1.4" fill="#ffeee6"/>
<rect x="516.1" y="1057.4" width="41.2" height="1.4" fill="#fee5d9"/>
<rect x="189.2" y="1058.6" width="41.2" height="2.2" fill="#ffeee5"/>
<rect x="230.1" y="1058.6" width="41.2" height="2.2" fill="#fee9df"/>
<rect x="311.8" y="1058.6" width="41.2" height="2.2" fill="#fdc5ae"/>
<rect x="352.7" y="1058.6" width="41.2" height="2.2" fill="#fc9a7b"/>
<rect x="393.5" y="1058.6" width="41.2" height="2.2" fill="#fcab8f"/>
<rect x="434.4" y="1058.6" width="41.2" height="2.2" fill="#fee7db"/>
<rect x="475.3" y="1058.6" width="41.2" height="2.2" fill="#ffede5"/>
<rect x="516.1" y="1058.6" width="41.2" height="2.2" fill="#fee9de"/>
<rect x="230.1" y="1060.6" width="41.2" height="1.8" fill="#ffefe7"/>
<rect x="311.8" y="1060.6" width="41.2" height="1.8" fill="#f96144"/>
<rect x="352.7" y="1060.6" width="41.2" height="1.8" fill="#fc9474"/>
<rect x="393.5" y="1060.6" width="41.2" height="1.8" fill="#fcab8e"/>
<rect x="475.3" y="1060.6" width="41.2" height="1.8" fill="#ffebe2"/>
<rect x="516.1" y="1060.6" width="41.2" height="1.8" fill="#ffede4"/>
<rect x="311.8" y="1062.2" width="41.2" height="1.4" fill="#f44f39"/>
<rect x="352.7" y="1062.2" width="41.2" height="1.4" fill="#fcad91"/>
<rect x="393.5" y="1062.2" width="41.2" height="1.4" fill="#f6563d"/>
<rect x="434.4" y="1062.2" width="41.2" height="1.4" fill="#fee7db"/>
<rect x="475.3" y="1062.2" width="41.2" height="1.4" fill="#fee1d3"/>
<rect x="516.1" y="1062.2" width="41.2" height="1.4" fill="#fee7dc"/>
<rect x="230.1" y="1063.4" width="41.2" height="2.6" fill="#ffefe7"/>
<rect x="311.8" y="1063.4" width="41.2" height="2.6" fill="#fc8666"/>
<rect x="352.7" y="1063.4" width="41.2" height="2.6" fill="#fdc8b2"/>
<rect x="393.5" y="1063.4" width="41.2" height="2.6" fill="#fcc2aa"/>
<rect x="434.4" y="1063.4" width="41.2" height="2.6" fill="#fee4d7"/>
<rect x="475.3" y="1063.4" width="41.2" height="2.6" fill="#fee3d7"/>
<rect x="516.1" y="1063.4" width="41.2" height="2.6" fill="#fee9df"/>
<rect x="311.8" y="1065.8" width="41.2" height="3.2" fill="#f6573e"/>
<rect x="352.7" y="1065.8" width="41.2" height="3.2" fill="#fb6849"/>
<rect x="393.5" y="1065.8" width="41.2" height="3.2" fill="#fcb196"/>
<rect x="434.4" y="1065.8" width="41.2" height="3.2" fill="#ffece3"/>
<rect x="516.1" y="1065.8" width="41.2" height="3.2" fill="#ffede4"/>
<rect x="189.2" y="1068.8" width="41.2" height="1.4" fill="#ffeee6"/>
<rect x="230.1" y="1068.8" width="41.2" height="1.4" fill="#ffebe1"/>
<rect x="270.9" y="1068.8" width="41.2" height="1.4" fill="#ffefe7"/>
<rect x="311.8" y="1068.8" width="41.2" height="1.4" fill="#fdd5c3"/>
<rect x="352.7" y="1068.8" width="41.2" height="1.4" fill="#fcae92"/>
<rect x="393.5" y="1068.8" width="41.2" height="1.4" fill="#fcb59a"/>
<rect x="434.4" y="1068.8" width="41.2" height="1.4" fill="#ffefe7"/>
<rect x="475.3" y="1068.8" width="41.2" height="1.4" fill="#feeae0"/>
<rect x="516.1" y="1068.8" width="41.2" height="1.4" fill="#fee6da"/>
<rect x="189.2" y="1070.0" width="41.2" height="1.8" fill="#ffefe7"/>
<rect x="230.1" y="1070.0" width="41.2" height="1.8" fill="#ffeee5"/>
<rect x="311.8" y="1070.0" width="41.2" height="1.8" fill="#da2623"/>
<rect x="352.7" y="1070.0" width="41.2" height="1.8" fill="#fca689"/>
<rect x="393.5" y="1070.0" width="41.2" height="1.8" fill="#fca587"/>
<rect x="434.4" y="1070.0" width="41.2" height="1.8" fill="#fee7dc"/>
<rect x="516.1" y="1070.0" width="41.2" height="1.8" fill="#ffebe2"/>
<rect x="189.2" y="1071.6" width="41.2" height="2.2" fill="#ffefe7"/>
<rect x="311.8" y="1071.6" width="41.2" height="2.2" fill="#fc9373"/>
<rect x="352.7" y="1071.6" width="41.2" height="2.2" fill="#fdccb7"/>
<rect x="393.5" y="1071.6" width="41.2" height="2.2" fill="#fed8c7"/>
<rect x="434.4" y="1071.6" width="41.2" height="2.2" fill="#fee7dd"/>
<rect x="516.1" y="1071.6" width="41.2" height="2.2" fill="#fee7dd"/>
<rect x="230.1" y="1073.6" width="41.2" height="3.2" fill="#ffece3"/>
<rect x="311.8" y="1073.6" width="41.2" height="3.2" fill="#ec382b"/>
<rect x="352.7" y="1073.6" width="41.2" height="3.2" fill="#fcc0a8"/>
<rect x="393.5" y="1073.6" width="41.2" height="3.2" fill="#fcb499"/>
<rect x="434.4" y="1073.6" width="41.2" height="3.2" fill="#fee9df"/>
<rect x="475.3" y="1073.6" width="41.2" height="3.2" fill="#ffebe2"/>
<rect x="516.1" y="1073.6" width="41.2" height="3.2" fill="#ffebe2"/>
<rect x="230.1" y="1076.6" width="41.2" height="1.6" fill="#ffefe8"/>
<rect x="311.8" y="1076.6" width="41.2" height="1.6" fill="#bc141a"/>
<rect x="352.7" y="1076.6" width="41.2" height="1.6" fill="#fcb69b"/>
<rect x="393.5" y="1076.6" width="41.2" height="1.6" fill="#fc9777"/>
<rect x="434.4" y="1076.6" width="41.2" height="1.6" fill="#fee2d5"/>
<rect x="475.3" y="1076.6" width="41.2" height="1.6" fill="#fee4d7"/>
<rect x="230.1" y="1078.0" width="41.2" height="1.8" fill="#ffefe7"/>
<rect x="311.8" y="1078.0" width="41.2" height="1.8" fill="#fc8868"/>
<rect x="352.7" y="1078.0" width="41.2" height="1.8" fill="#fcc4ad"/>
<rect x="393.5" y="1078.0" width="41.2" height="1.8" fill="#fdd6c5"/>
<rect x="434.4" y="1078.0" width="41.2" height="1.8" fill="#ffebe2"/>
<rect x="475.3" y="1078.0" width="41.2" height="1.8" fill="#ffefe7"/>
<rect x="516.1" y="1078.0" width="41.2" height="1.8" fill="#ffece2"/>
<rect x="230.1" y="1079.6" width="41.2" height="2.2" fill="#ffede5"/>
<rect x="311.8" y="1079.6" width="41.2" height="2.2" fill="#f5533b"/>
<rect x="352.7" y="1079.6" width="41.2" height="2.2" fill="#fca284"/>
<rect x="393.5" y="1079.6" width="41.2" height="2.2" fill="#fca88b"/>
<rect x="434.4" y="1079.6" width="41.2" height="2.2" fill="#ffede4"/>
<rect x="475.3" y="1079.6" width="41.2" height="2.2" fill="#feeae0"/>
<rect x="516.1" y="1079.6" width="41.2" height="2.2" fill="#ffede5"/>
<rect x="189.2" y="1081.6" width="41.2" height="1.6" fill="#ffeee6"/>
<rect x="230.1" y="1081.6" width="41.2" height="1.6" fill="#fee5d9"/>
<rect x="311.8" y="1081.6" width="41.2" height="1.6" fill="#fca689"/>
<rect x="352.7" y="1081.6" width="41.2" height="1.6" fill="#fcbfa6"/>
<rect x="393.5" y="1081.6" width="41.2" height="1.6" fill="#fcad91"/>
<rect x="434.4" y="1081.6" width="41.2" height="1.6" fill="#fee6db"/>
<rect x="475.3" y="1081.6" width="41.2" height="1.6" fill="#feeae1"/>
<rect x="516.1" y="1081.6" width="41.2" height="1.6" fill="#fee7dc"/>
<rect x="189.2" y="1083.0" width="41.2" height="1.6" fill="#ffeee6"/>
<rect x="230.1" y="1083.0" width="41.2" height="1.6" fill="#ffede4"/>
<rect x="311.8" y="1083.0" width="41.2" height="1.6" fill="#bc141a"/>
<rect x="352.7" y="1083.0" width="41.2" height="1.6" fill="#fc8363"/>
<rect x="393.5" y="1083.0" width="41.2" height="1.6" fill="#fca88c"/>
<rect x="434.4" y="1083.0" width="41.2" height="1.6" fill="#ffece3"/>
<rect x="475.3" y="1083.0" width="41.2" height="1.6" fill="#ffefe7"/>
<rect x="311.8" y="1084.4" width="41.2" height="3.2" fill="#f75b41"/>
<rect x="352.7" y="1084.4" width="41.2" height="3.2" fill="#fcb69b"/>
<rect x="393.5" y="1084.4" width="41.2" height="3.2" fill="#fcb99f"/>
<rect x="434.4" y="1084.4" width="41.2" height="3.2" fill="#fee3d6"/>
<rect x="475.3" y="1084.4" width="41.2" height="3.2" fill="#fee8dd"/>
<rect x="516.1" y="1084.4" width="41.2" height="3.2" fill="#fdd5c3"/>
<rect x="189.2" y="1087.4" width="41.2" height="1.8" fill="#ffefe7"/>
<rect x="230.1" y="1087.4" width="41.2" height="1.8" fill="#ffebe1"/>
<rect x="311.8" y="1087.4" width="41.2" height="1.8" fill="#bc141a"/>
<rect x="352.7" y="1087.4" width="41.2" height="1.8" fill="#f85d42"/>
<rect x="393.5" y="1087.4" width="41.2" height="1.8" fill="#fdd5c4"/>
<rect x="434.4" y="1087.4" width="41.2" height="1.8" fill="#fee5d9"/>
<rect x="475.3" y="1087.4" width="41.2" height="1.8" fill="#fee8de"/>
<rect x="516.1" y="1087.4" width="41.2" height="1.8" fill="#fee5d8"/>
<rect x="230.1" y="1089.0" width="41.2" height="1.8" fill="#ffeee7"/>
<rect x="311.8" y="1089.0" width="41.2" height="1.8" fill="#f6563d"/>
<rect x="352.7" y="1089.0" width="41.2" height="1.8" fill="#ec382b"/>
<rect x="393.5" y="1089.0" width="41.2" height="1.8" fill="#fc9e80"/>
<rect x="434.4" y="1089.0" width="41.2" height="1.8" fill="#fee8dd"/>
<rect x="475.3" y="1089.0" width="41.2" height="1.8" fill="#ffede4"/>
<rect x="516.1" y="1089.0" width="41.2" height="1.8" fill="#fee9df"/>
<rect x="189.2" y="1090.6" width="41.2" height="1.6" fill="#ffeee6"/>
<rect x="230.1" y="1090.6" width="41.2" height="1.6" fill="#fee9de"/>
<rect x="311.8" y="1090.6" width="41.2" height="1.6" fill="#fb6d4d"/>
<rect x="352.7" y="1090.6" width="41.2" height="1.6" fill="#fca284"/>
<rect x="393.5" y="1090.6" width="41.2" height="1.6" fill="#fc8363"/>
<rect x="434.4" y="1090.6" width="41.2" height="1.6" fill="#fedaca"/>
<rect x="475.3" y="1090.6" width="41.2" height="1.6" fill="#fee3d6"/>
<rect x="516.1" y="1090.6" width="41.2" height="1.6" fill="#fee4d8"/>
<rect x="311.8" y="1092.0" width="41.2" height="1.4" fill="#f24734"/>
<rect x="352.7" y="1092.0" width="41.2" height="1.4" fill="#e53128"/>
<rect x="393.5" y="1092.0" width="41.2" height="1.4" fill="#fee4d7"/>
<rect x="434.4" y="1092.0" width="41.2" height="1.4" fill="#feeae0"/>
<rect x="475.3" y="1092.0" width="41.2" height="1.4" fill="#ffeee6"/>
<rect x="516.1" y="1092.0" width="41.2" height="1.4" fill="#fee8dd"/>
<rect x="230.1" y="1093.2" width="41.2" height="1.4" fill="#feeae1"/>
<rect x="311.8" y="1093.2" width="41.2" height="1.4" fill="#fc8d6d"/>
<rect x="352.7" y="1093.2" width="41.2" height="1.4" fill="#fcbca2"/>
<rect x="393.5" y="1093.2" width="41.2" height="1.4" fill="#fedfd0"/>
<rect x="434.4" y="1093.2" width="41.2" height="1.4" fill="#feeae0"/>
<rect x="475.3" y="1093.2" width="41.2" height="1.4" fill="#feeae0"/>
<rect x="516.1" y="1093.2" width="41.2" height="1.4" fill="#fee7dd"/>
<rect x="230.1" y="1094.4" width="41.2" height="1.4" fill="#ffede4"/>
<rect x="311.8" y="1094.4" width="41.2" height="1.4" fill="#fb7151"/>
<rect x="352.7" y="1094.4" width="41.2" height="1.4" fill="#fc9171"/>
<rect x="393.5" y="1094.4" width="41.2" height="1.4" fill="#fcbca2"/>
<rect x="434.4" y="1094.4" width="41.2" height="1.4" fill="#fee2d5"/>
<rect x="475.3" y="1094.4" width="41.2" height="1.4" fill="#fee5d9"/>
<rect x="516.1" y="1094.4" width="41.2" height="1.4" fill="#fee6da"/>
<rect x="230.1" y="1095.6" width="41.2" height="1.8" fill="#ffefe7"/>
<rect x="311.8" y="1095.6" width="41.2" height="1.8" fill="#bc141a"/>
<rect x="352.7" y="1095.6" width="41.2" height="1.8" fill="#fb6b4b"/>
<rect x="393.5" y="1095.6" width="41.2" height="1.8" fill="#fa6748"/>
<rect x="434.4" y="1095.6" width="41.2" height="1.8" fill="#fed8c7"/>
<rect x="475.3" y="1095.6" width="41.2" height="1.8" fill="#fee2d4"/>
<rect x="516.1" y="1095.6" width="41.2" height="1.8" fill="#fee1d4"/>
<rect x="230.1" y="1097.2" width="41.2" height="3.2" fill="#ffebe2"/>
<rect x="311.8" y="1097.2" width="41.2" height="3.2" fill="#f96446"/>
<rect x="352.7" y="1097.2" width="41.2" height="3.2" fill="#fc9676"/>
<rect x="393.5" y="1097.2" width="41.2" height="3.2" fill="#fcbda4"/>
<rect x="475.3" y="1097.2" width="41.2" height="3.2" fill="#fee9df"/>
<rect x="516.1" y="1097.2" width="41.2" height="3.2" fill="#fee5d9"/>
<rect x="189.2" y="1100.2" width="41.2" height="2.6" fill="#ffeee6"/>
<rect x="230.1" y="1100.2" width="41.2" height="2.6" fill="#ffede5"/>
<rect x="311.8" y="1100.2" width="41.2" height="2.6" fill="#bc141a"/>
<rect x="352.7" y="1100.2" width="41.2" height="2.6" fill="#fb6c4c"/>
<rect x="393.5" y="1100.2" width="41.2" height="2.6" fill="#fcad91"/>
<rect x="434.4" y="1100.2" width="41.2" height="2.6" fill="#fee4d8"/>
<rect x="475.3" y="1100.2" width="41.2" height="2.6" fill="#fee7dc"/>
<rect x="516.1" y="1100.2" width="41.2" height="2.6" fill="#fee9df"/>
<rect x="230.1" y="1102.6" width="41.2" height="1.8" fill="#ffefe7"/>
<rect x="311.8" y="1102.6" width="41.2" height="1.8" fill="#fc8565"/>
<rect x="352.7" y="1102.6" width="41.2" height="1.8" fill="#fee8dd"/>
<rect x="393.5" y="1102.6" width="41.2" height="1.8" fill="#fcc3ab"/>
<rect x="434.4" y="1102.6" width="41.2" height="1.8" fill="#fee5d9"/>
<rect x="475.3" y="1102.6" width="41.2" height="1.8" fill="#fee4d8"/>
<rect x="516.1" y="1102.6" width="41.2" height="1.8" fill="#fee1d3"/>
<rect x="189.2" y="1104.2" width="41.2" height="1.4" fill="#ffefe7"/>
<rect x="230.1" y="1104.2" width="41.2" height="1.4" fill="#ffece4"/>
<rect x="311.8" y="1104.2" width="41.2" height="1.4" fill="#fca588"/>
<rect x="352.7" y="1104.2" width="41.2" height="1.4" fill="#fcc3ab"/>
<rect x="393.5" y="1104.2" width="41.2" height="1.4" fill="#ffebe2"/>
<rect x="434.4" y="1104.2" width="41.2" height="1.4" fill="#fee5d9"/>
<rect x="475.3" y="1104.2" width="41.2" height="1.4" fill="#ffebe2"/>
<rect x="516.1" y="1104.2" width="41.2" height="1.4" fill="#fee1d4"/>
<rect x="189.2" y="1105.4" width="41.2" height="2.6" fill="#ffeee6"/>
<rect x="230.1" y="1105.4" width="41.2" height="2.6" fill="#ffede5"/>
<rect x="311.8" y="1105.4" width="41.2" height="2.6" fill="#f5543c"/>
<rect x="352.7" y="1105.4" width="41.2" height="2.6" fill="#fc9d7f"/>
<rect x="393.5" y="1105.4" width="41.2" height="2.6" fill="#fdd3c1"/>
<rect x="434.4" y="1105.4" width="41.2" height="2.6" fill="#fee3d6"/>
<rect x="516.1" y="1105.4" width="41.2" height="2.6" fill="#ffebe2"/>
<rect x="311.8" y="1107.8" width="41.2" height="1.6" fill="#f96044"/>
<rect x="352.7" y="1107.8" width="41.2" height="1.6" fill="#fca689"/>
<rect x="393.5" y="1107.8" width="41.2" height="1.6" fill="#fc8767"/>
<rect x="434.4" y="1107.8" width="41.2" height="1.6" fill="#ffebe1"/>
<rect x="475.3" y="1107.8" width="41.2" height="1.6" fill="#ffede5"/>
<rect x="516.1" y="1107.8" width="41.2" height="1.6" fill="#fee9df"/>
<rect x="230.1" y="1109.2" width="41.2" height="3.2" fill="#ffefe7"/>
<rect x="311.8" y="1109.2" width="41.2" height="3.2" fill="#fb7858"/>
<rect x="352.7" y="1109.2" width="41.2" height="3.2" fill="#fb7050"/>
<rect x="393.5" y="1109.2" width="41.2" height="3.2" fill="#fca88b"/>
<rect x="434.4" y="1109.2" width="41.2" height="3.2" fill="#ffede4"/>
<rect x="475.3" y="1109.2" width="41.2" height="3.2" fill="#feeae0"/>
<rect x="516.1" y="1109.2" width="41.2" height="3.2" fill="#fee9df"/>
<rect x="230.1" y="1112.2" width="41.2" height="3.2" fill="#ffefe7"/>
<rect x="311.8" y="1112.2" width="41.2" height="3.2" fill="#da2623"/>
<rect x="352.7" y="1112.2" width="41.2" height="3.2" fill="#fb6949"/>
<rect x="393.5" y="1112.2" width="41.2" height="3.2" fill="#fca78a"/>
<rect x="434.4" y="1112.2" width="41.2" height="3.2" fill="#feeae1"/>
<rect x="189.2" y="1115.2" width="41.2" height="2.2" fill="#ffebe2"/>
<rect x="230.1" y="1115.2" width="41.2" height="2.2" fill="#ffece4"/>
<rect x="311.8" y="1115.2" width="41.2" height="2.2" fill="#fc8363"/>
<rect x="352.7" y="1115.2" width="41.2" height="2.2" fill="#fca88b"/>
<rect x="393.5" y="1115.2" width="41.2" height="2.2" fill="#fcb79d"/>
<rect x="434.4" y="1115.2" width="41.2" height="2.2" fill="#ffebe2"/>
<rect x="475.3" y="1115.2" width="41.2" height="2.2" fill="#ffebe2"/>
<rect x="516.1" y="1115.2" width="41.2" height="2.2" fill="#ffece3"/>
<rect x="189.2" y="1117.2" width="41.2" height="2.2" fill="#ffefe7"/>
<rect x="230.1" y="1117.2" width="41.2" height="2.2" fill="#ffeee6"/>
<rect x="311.8" y="1117.2" width="41.2" height="2.2" fill="#bf151a"/>
<rect x="352.7" y="1117.2" width="41.2" height="2.2" fill="#bc141a"/>
<rect x="393.5" y="1117.2" width="41.2" height="2.2" fill="#fc8868"/>
<rect x="434.4" y="1117.2" width="41.2" height="2.2" fill="#fee7dc"/>
<rect x="475.3" y="1117.2" width="41.2" height="2.2" fill="#ffeee6"/>
<rect x="516.1" y="1117.2" width="41.2" height="2.2" fill="#fee8dd"/>
<rect x="189.2" y="1119.2" width="41.2" height="2.2" fill="#ffefe7"/>
<rect x="230.1" y="1119.2" width="41.2" height="2.2" fill="#ffeee6"/>
<rect x="311.8" y="1119.2" width="41.2" height="2.2" fill="#bc141a"/>
<rect x="352.7" y="1119.2" width="41.2" height="2.2" fill="#f85f43"/>
<rect x="393.5" y="1119.2" width="41.2" height="2.2" fill="#f75c41"/>
<rect x="434.4" y="1119.2" width="41.2" height="2.2" fill="#fee3d7"/>
<rect x="475.3" y="1119.2" width="41.2" height="2.2" fill="#ffede4"/>
<rect x="516.1" y="1119.2" width="41.2" height="2.2" fill="#fee2d5"/>
<rect x="311.8" y="1121.2" width="41.2" height="2.2" fill="#ed392b"/>
<rect x="352.7" y="1121.2" width="41.2" height="2.2" fill="#f34a36"/>
<rect x="393.5" y="1121.2" width="41.2" height="2.2" fill="#fc997a"/>
<rect x="434.4" y="1121.2" width="41.2" height="2.2" fill="#fee1d4"/>
<rect x="475.3" y="1121.2" width="41.2" height="2.2" fill="#fee7dc"/>
<rect x="516.1" y="1121.2" width="41.2" height="2.2" fill="#feddce"/>
<rect x="311.8" y="1123.2" width="41.2" height="1.6" fill="#ef3d2d"/>
<rect x="352.7" y="1123.2" width="41.2" height="1.6" fill="#fb7353"/>
<rect x="393.5" y="1123.2" width="41.2" height="1.6" fill="#fc9171"/>
<rect x="434.4" y="1123.2" width="41.2" height="1.6" fill="#ffeee6"/>
<rect x="475.3" y="1123.2" width="41.2" height="1.6" fill="#feeae0"/>
<rect x="516.1" y="1123.2" width="41.2" height="1.6" fill="#fee9de"/>
<rect x="311.8" y="1124.6" width="41.2" height="0.6" fill="#ef3d2d"/>
<rect x="352.7" y="1124.6" width="41.2" height="0.6" fill="#fca183"/>
<rect x="393.5" y="1124.6" width="41.2" height="0.6" fill="#fc8d6d"/>
<rect x="434.4" y="1124.6" width="41.2" height="0.6" fill="#feeae0"/>
<rect x="475.3" y="1124.6" width="41.2" height="0.6" fill="#ffefe7"/>
<rect x="516.1" y="1124.6" width="41.2" height="0.6" fill="#fee7dc"/>
<rect x="189.2" y="766.5" width="41.2" height="1.5" fill="#fb7a5a"/>
<rect x="230.1" y="766.5" width="41.2" height="1.5" fill="#fb7a5a"/>
<rect x="270.9" y="766.5" width="41.2" height="1.5" fill="#fb7a5a"/>
<rect x="270.9" y="769.7" width="41.2" height="3.5" fill="#fc9a7b"/>
<rect x="189.2" y="776.5" width="41.2" height="1.3" fill="#fc8a6a"/>
<rect x="230.1" y="776.5" width="41.2" height="1.3" fill="#fc8a6a"/>
<rect x="270.9" y="776.5" width="41.2" height="1.3" fill="#fc8a6a"/>
<rect x="270.9" y="780.0" width="41.2" height="3.0" fill="#f6573e"/>
<rect x="189.2" y="782.5" width="41.2" height="1.3" fill="#f6573e"/>
<rect x="230.1" y="782.5" width="41.2" height="1.3" fill="#f6573e"/>
<rect x="189.2" y="808.8" width="41.2" height="1.2" fill="#d92623"/>
<rect x="230.1" y="809.0" width="41.2" height="1.0" fill="#fc8a6a"/>
<rect x="475.3" y="772.0" width="41.2" height="1.5" fill="#fc8a6a"/>
<rect x="516.1" y="772.0" width="41.2" height="1.5" fill="#fc8a6a"/>
<rect x="434.4" y="799.0" width="41.2" height="1.5" fill="#fc9a7b"/>
<rect x="189.2" y="816.3" width="41.2" height="5.3" fill="#b61319"/>
<rect x="230.1" y="816.3" width="41.2" height="5.3" fill="#b61319"/>
<rect x="270.9" y="816.3" width="41.2" height="5.3" fill="#b61319"/>
<rect x="270.9" y="825.0" width="41.2" height="2.8" fill="#f44d38"/>
<rect x="270.9" y="827.6" width="41.2" height="2.2" fill="#a00e14"/>
<rect x="270.9" y="829.6" width="41.2" height="2.2" fill="#c0151b"/>
<rect x="270.9" y="831.6" width="41.2" height="0.6" fill="#71020e"/>
<rect x="189.2" y="825.0" width="41.2" height="1.5" fill="#f6573e"/>
<rect x="230.1" y="825.0" width="41.2" height="1.5" fill="#f6573e"/>
<rect x="189.2" y="870.2" width="41.2" height="1.6" fill="#cb181d"/>
<rect x="230.1" y="870.2" width="41.2" height="1.6" fill="#cb181d"/>
<rect x="270.9" y="870.2" width="41.2" height="1.6" fill="#cb181d"/>
<rect x="230.1" y="838.0" width="41.2" height="2.8" fill="#fc8363"/>
<rect x="230.1" y="840.6" width="41.2" height="2.2" fill="#fb7454"/>
<rect x="230.1" y="842.6" width="41.2" height="2.2" fill="#fb7555"/>
<rect x="230.1" y="844.6" width="41.2" height="2.2" fill="#f75b40"/>
<rect x="230.1" y="846.6" width="41.2" height="1.6" fill="#fc8969"/>
<rect x="230.1" y="877.0" width="41.2" height="3.6" fill="#fb6a4a"/>
<rect x="270.9" y="875.5" width="41.2" height="3.5" fill="#fc9a7b"/>
<rect x="230.1" y="895.0" width="41.2" height="1.2" fill="#d92623"/>
<rect x="189.2" y="909.0" width="41.2" height="2.0" fill="#fc8a6a"/>
<rect x="230.1" y="904.0" width="41.2" height="1.0" fill="#fb6a4a"/>
<rect x="230.1" y="915.3" width="41.2" height="1.2" fill="#f14432"/>
<rect x="311.8" y="922.0" width="41.2" height="2.0" fill="#cb181d"/>
<rect x="516.1" y="873.5" width="41.2" height="2.8" fill="#fcab8f"/>
<rect x="516.1" y="876.1" width="41.2" height="2.8" fill="#fcab8f"/>
<rect x="516.1" y="878.7" width="41.2" height="1.6" fill="#fc9475"/>
<rect x="516.1" y="880.1" width="41.2" height="2.2" fill="#fcbaa0"/>
<rect x="516.1" y="882.1" width="41.2" height="2.8" fill="#fcb69b"/>
<rect x="516.1" y="884.7" width="41.2" height="2.8" fill="#fcc4ad"/>
<rect x="516.1" y="887.3" width="41.2" height="2.8" fill="#fc9a7b"/>
<rect x="516.1" y="889.9" width="41.2" height="2.8" fill="#fc9777"/>
<rect x="516.1" y="892.5" width="41.2" height="2.2" fill="#fc9c7d"/>
<rect x="516.1" y="894.5" width="41.2" height="2.2" fill="#fcbfa7"/>
<rect x="516.1" y="896.5" width="41.2" height="1.6" fill="#fc9f80"/>
<rect x="516.1" y="897.9" width="41.2" height="2.8" fill="#fcb99f"/>
<rect x="516.1" y="900.5" width="41.2" height="1.6" fill="#fc9474"/>
<rect x="516.1" y="901.9" width="41.2" height="2.2" fill="#fca98c"/>
<rect x="516.1" y="903.9" width="41.2" height="1.3" fill="#fca082"/>
<rect x="475.3" y="900.5" width="41.2" height="1.2" fill="#f14432"/>
<rect x="475.3" y="907.5" width="41.2" height="1.2" fill="#f14432"/>
<rect x="516.1" y="907.5" width="41.2" height="1.2" fill="#f14432"/>
<rect x="270.9" y="932.5" width="41.2" height="1.2" fill="#f14432"/>
<rect x="230.1" y="933.0" width="41.2" height="1.6" fill="#f34a36"/>
<rect x="230.1" y="934.4" width="41.2" height="2.2" fill="#fcaf93"/>
<rect x="230.1" y="936.4" width="41.2" height="2.8" fill="#f96044"/>
<rect x="230.1" y="939.0" width="41.2" height="2.8" fill="#fc8d6d"/>
<rect x="230.1" y="941.6" width="41.2" height="1.6" fill="#f86043"/>
<rect x="230.1" y="943.0" width="41.2" height="1.6" fill="#fc8464"/>
<rect x="230.1" y="944.4" width="41.2" height="1.4" fill="#fc8c6c"/>
<rect x="270.9" y="938.6" width="41.2" height="1.6" fill="#a50f15"/>
<rect x="270.9" y="940.0" width="41.2" height="2.2" fill="#fc7f5f"/>
<rect x="270.9" y="942.0" width="41.2" height="2.8" fill="#f14130"/>
<rect x="270.9" y="944.6" width="41.2" height="0.4" fill="#f7593f"/>
<rect x="230.1" y="956.0" width="41.2" height="1.4" fill="#cb181d"/>
<rect x="189.2" y="965.5" width="41.2" height="1.5" fill="#fb6a4a"/>
<rect x="230.1" y="965.5" width="41.2" height="1.5" fill="#fb6a4a"/>
<rect x="270.9" y="965.5" width="41.2" height="1.5" fill="#fb6a4a"/>
<rect x="189.2" y="969.0" width="41.2" height="1.4" fill="#d42021"/>
<rect x="230.1" y="969.0" width="41.2" height="1.4" fill="#d42021"/>
<rect x="270.9" y="969.0" width="41.2" height="1.4" fill="#d42021"/>
<rect x="393.5" y="973.8" width="41.2" height="5.2" fill="#fc9a7b"/>
<rect x="311.8" y="973.5" width="41.2" height="1.5" fill="#fc8a6a"/>
<rect x="434.4" y="977.6" width="41.2" height="1.6" fill="#f34935"/>
<rect x="434.4" y="979.0" width="41.2" height="1.6" fill="#f6563d"/>
<rect x="434.4" y="980.4" width="41.2" height="2.2" fill="#ae1117"/>
<rect x="434.4" y="982.4" width="41.2" height="1.8" fill="#fb7454"/>
<rect x="516.1" y="977.6" width="41.2" height="2.8" fill="#dc2924"/>
<rect x="516.1" y="980.2" width="41.2" height="2.8" fill="#fb7050"/>
<rect x="516.1" y="982.8" width="41.2" height="1.4" fill="#f03e2e"/>
<rect x="434.4" y="992.6" width="41.2" height="4.4" fill="#b61319"/>
<rect x="475.3" y="992.6" width="41.2" height="1.4" fill="#cb181d"/>
<rect x="516.1" y="992.6" width="41.2" height="1.4" fill="#cb181d"/>
<rect x="475.3" y="1026.0" width="41.2" height="1.8" fill="#bc141a"/>
<rect x="475.3" y="1043.0" width="41.2" height="2.0" fill="#ad1117"/>
<rect x="434.4" y="1042.0" width="41.2" height="2.2" fill="#800610"/>
<rect x="434.4" y="1044.0" width="41.2" height="2.8" fill="#fc8565"/>
<rect x="434.4" y="1046.6" width="41.2" height="2.8" fill="#fb7151"/>
<rect x="434.4" y="1049.2" width="41.2" height="1.0" fill="#f24734"/>
<rect x="311.8" y="1053.0" width="41.2" height="2.8" fill="#ec382b"/>
<rect x="311.8" y="1055.6" width="41.2" height="1.6" fill="#9a0c14"/>
<rect x="311.8" y="1057.0" width="41.2" height="2.8" fill="#f44f39"/>
<rect x="311.8" y="1059.6" width="41.2" height="1.6" fill="#d01d1f"/>
<rect x="311.8" y="1061.0" width="41.2" height="1.6" fill="#f03f2f"/>
<rect x="311.8" y="1062.4" width="41.2" height="0.8" fill="#940b13"/>
<rect x="311.8" y="1064.7" width="41.2" height="2.2" fill="#da2723"/>
<rect x="311.8" y="1066.7" width="41.2" height="1.6" fill="#8d0912"/>
<rect x="311.8" y="1068.1" width="41.2" height="2.2" fill="#f14432"/>
<rect x="311.8" y="1070.1" width="41.2" height="1.6" fill="#d21f20"/>
<rect x="311.8" y="1071.5" width="41.2" height="2.2" fill="#6d010e"/>
<rect x="189.2" y="1071.5" width="41.2" height="1.2" fill="#fc9a7b"/>
</g>
<rect x="558" y="769.4" width="4" height="41.7" fill="#000"/>
<rect x="558" y="817.3" width="4" height="54.1" fill="#000"/>
<rect x="558" y="880" width="4" height="44.5" fill="#000"/>
<rect x="558" y="930.7" width="4" height="49.8" fill="#000"/>
<rect x="558" y="984.2" width="4" height="60.5" fill="#000"/>
<rect x="558" y="1050.7" width="4" height="70.3" fill="#000"/>
<text x="566" y="799" font-family="'DejaVu Sans', sans-serif" font-size="19.6" font-weight="normal" text-anchor="start" textLength="253.0" lengthAdjust="spacingAndGlyphs" >DC2 (original label other)</text>
<text x="566" y="848.6" font-family="'DejaVu Sans', sans-serif" font-size="19.6" font-weight="normal" text-anchor="start" textLength="236.6" lengthAdjust="spacingAndGlyphs" >DC2 (original label: DC)</text>
<text x="566" y="909.3" font-family="'DejaVu Sans', sans-serif" font-size="19.6" font-weight="normal" text-anchor="start" textLength="339.5" lengthAdjust="spacingAndGlyphs" >DC2 (original label: Macrophages)</text>
<text x="567.8" y="964.9" font-family="'DejaVu Sans', sans-serif" font-size="19.6" font-weight="normal" text-anchor="start" textLength="314.4" lengthAdjust="spacingAndGlyphs" >DC2 (original label: Monocytes)</text>
<text x="567.5" y="1023" font-family="'DejaVu Sans', sans-serif" font-size="19.6" font-weight="normal" text-anchor="start" textLength="134.6" lengthAdjust="spacingAndGlyphs" >Macrophages</text>
<text x="567.5" y="1096.4" font-family="'DejaVu Sans', sans-serif" font-size="19.6" font-weight="normal" text-anchor="start" textLength="108.3" lengthAdjust="spacingAndGlyphs" >Monocytes</text>
<line x1="209.6" y1="1125" x2="209.6" y2="1131.5" stroke="#000" stroke-width="1.5"/>
<text transform="translate(215.9,1139.3) rotate(-90)" font-family="'DejaVu Sans', sans-serif" font-size="19.5" text-anchor="end">CD1C</text>
<line x1="250.5" y1="1125" x2="250.5" y2="1131.5" stroke="#000" stroke-width="1.5"/>
<text transform="translate(256.8,1139.3) rotate(-90)" font-family="'DejaVu Sans', sans-serif" font-size="19.5" text-anchor="end">CLEC10A</text>
<line x1="291.4" y1="1125" x2="291.4" y2="1131.5" stroke="#000" stroke-width="1.5"/>
<text transform="translate(297.7,1139.3) rotate(-90)" font-family="'DejaVu Sans', sans-serif" font-size="19.5" text-anchor="end">FCER1A</text>
<line x1="332.2" y1="1125" x2="332.2" y2="1131.5" stroke="#000" stroke-width="1.5"/>
<text transform="translate(338.5,1139.3) rotate(-90)" font-family="'DejaVu Sans', sans-serif" font-size="19.5" text-anchor="end">FCN1</text>
<line x1="373.1" y1="1125" x2="373.1" y2="1131.5" stroke="#000" stroke-width="1.5"/>
<text transform="translate(379.4,1139.3) rotate(-90)" font-family="'DejaVu Sans', sans-serif" font-size="19.5" text-anchor="end">S100A12</text>
<line x1="414.0" y1="1125" x2="414.0" y2="1131.5" stroke="#000" stroke-width="1.5"/>
<text transform="translate(420.3,1139.3) rotate(-90)" font-family="'DejaVu Sans', sans-serif" font-size="19.5" text-anchor="end">CD300E</text>
<line x1="454.8" y1="1125" x2="454.8" y2="1131.5" stroke="#000" stroke-width="1.5"/>
<text transform="translate(461.1,1139.3) rotate(-90)" font-family="'DejaVu Sans', sans-serif" font-size="19.5" text-anchor="end">MARCO</text>
<line x1="495.7" y1="1125" x2="495.7" y2="1131.5" stroke="#000" stroke-width="1.5"/>
<text transform="translate(502.0,1139.3) rotate(-90)" font-family="'DejaVu Sans', sans-serif" font-size="19.5" text-anchor="end">APOE</text>
<line x1="536.6" y1="1125" x2="536.6" y2="1131.5" stroke="#000" stroke-width="1.5"/>
<text transform="translate(542.9,1139.3) rotate(-90)" font-family="'DejaVu Sans', sans-serif" font-size="19.5" text-anchor="end">GPNMB</text>
<rect x="197.6" y="1242" width="100.0" height="4.2" fill="#000"/>
<rect x="321.7" y="1242" width="100.0" height="4.2" fill="#000"/>
<rect x="450.7" y="1242" width="99.7" height="4.2" fill="#000"/>
<text x="247.5" y="1268.1" font-family="'Liberation Sans', Arial, sans-serif" font-size="20.5" font-weight="normal" text-anchor="middle" textLength="45.1" lengthAdjust="spacingAndGlyphs" >DC2</text>
<text x="247.5" y="1291.3" font-family="'Liberation Sans', Arial, sans-serif" font-size="20.5" font-weight="normal" text-anchor="middle" textLength="80.5" lengthAdjust="spacingAndGlyphs" >markers</text>
<text x="373.0" y="1268.1" font-family="'Liberation Sans', Arial, sans-serif" font-size="20.5" font-weight="normal" text-anchor="middle" textLength="97.7" lengthAdjust="spacingAndGlyphs" >Monocyte</text>
<text x="373.8" y="1291.3" font-family="'Liberation Sans', Arial, sans-serif" font-size="20.5" font-weight="normal" text-anchor="middle" textLength="80.5" lengthAdjust="spacingAndGlyphs" >markers</text>
<text x="500.5" y="1268.1" font-family="'Liberation Sans', Arial, sans-serif" font-size="20.5" font-weight="normal" text-anchor="middle" textLength="124.6" lengthAdjust="spacingAndGlyphs" >Macrophage</text>
<text x="500.5" y="1291.3" font-family="'Liberation Sans', Arial, sans-serif" font-size="20.5" font-weight="normal" text-anchor="middle" textLength="80.5" lengthAdjust="spacingAndGlyphs" >markers</text>
<rect x="635" y="1125" width="18" height="71.5" fill="url(#cb2)"/>
<line x1="653" y1="1124.8" x2="659" y2="1124.8" stroke="#000" stroke-width="1.5"/>
<line x1="653" y1="1138.2" x2="659" y2="1138.2" stroke="#000" stroke-width="1.5"/>
<line x1="653" y1="1152.8" x2="659" y2="1152.8" stroke="#000" stroke-width="1.5"/>
<line x1="653" y1="1167.1" x2="659" y2="1167.1" stroke="#000" stroke-width="1.5"/>
<line x1="653" y1="1181.5" x2="659" y2="1181.5" stroke="#000" stroke-width="1.5"/>
<line x1="653" y1="1195.8" x2="659" y2="1195.8" stroke="#000" stroke-width="1.5"/>
<text x="665" y="1135.2" font-family="'Liberation Sans', Arial, sans-serif" font-size="22" font-weight="normal" text-anchor="start" >1</text>
<text x="664.5" y="1204.6" font-family="'Liberation Sans', Arial, sans-serif" font-size="22" font-weight="normal" text-anchor="start" >0</text>
<text x="694.9" y="1137" font-family="'Liberation Sans', Arial, sans-serif" font-size="21.5" font-weight="normal" text-anchor="start" textLength="113.4" lengthAdjust="spacingAndGlyphs" >Normalized</text>
<text x="696" y="1161.1" font-family="'Liberation Sans', Arial, sans-serif" font-size="21.5" font-weight="normal" text-anchor="start" textLength="54.3" lengthAdjust="spacingAndGlyphs" >count</text>
</svg>
</body></html>
